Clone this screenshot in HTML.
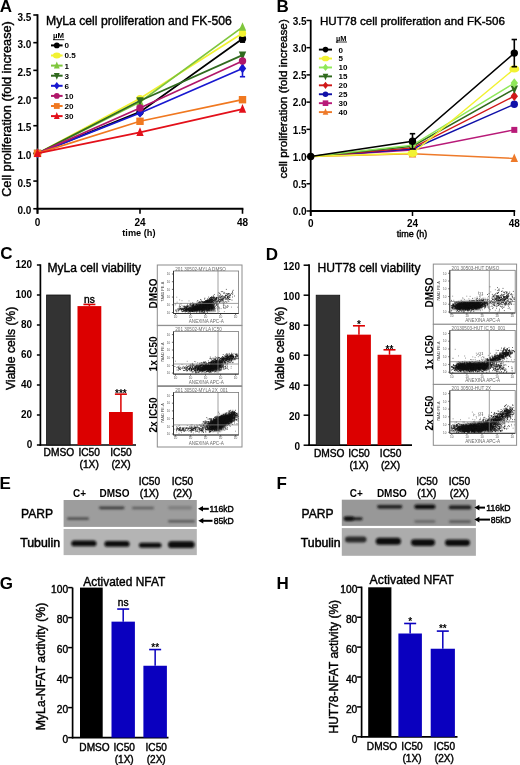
<!DOCTYPE html>
<html><head><meta charset="utf-8"><title>Figure</title>
<style>html,body{margin:0;padding:0;background:#fff;} body{width:520px;height:765px;overflow:hidden;font-family:"Liberation Sans", sans-serif;} svg{display:block;filter:blur(0.3px);}</style>
</head><body>
<svg width="520" height="765" viewBox="0 0 520 765" font-family='"Liberation Sans", sans-serif'>
<defs><filter id="bl" x="-20%" y="-100%" width="140%" height="300%"><feGaussianBlur stdDeviation="0.85"/></filter><filter id="bl2" x="-20%" y="-50%" width="140%" height="200%"><feGaussianBlur stdDeviation="1.2"/></filter></defs>
<rect width="520" height="765" fill="#fff"/>
<text x="-0.30" y="12.30" font-size="17" text-anchor="start" font-weight="bold" fill="#000" >A</text>
<line x1="37.50" y1="14.20" x2="37.50" y2="213.75" stroke="#000" stroke-width="1.9" />
<line x1="36.60" y1="208.75" x2="243.40" y2="208.75" stroke="#000" stroke-width="1.9" />
<line x1="33.30" y1="208.75" x2="37.50" y2="208.75" stroke="#000" stroke-width="1.6" />
<text x="31.40" y="214.35" font-size="10" text-anchor="end" font-weight="bold" fill="#000" >0.0</text>
<line x1="33.30" y1="181.07" x2="37.50" y2="181.07" stroke="#000" stroke-width="1.6" />
<text x="31.40" y="186.67" font-size="10" text-anchor="end" font-weight="bold" fill="#000" >0.5</text>
<line x1="33.30" y1="153.39" x2="37.50" y2="153.39" stroke="#000" stroke-width="1.6" />
<text x="31.40" y="158.99" font-size="10" text-anchor="end" font-weight="bold" fill="#000" >1.0</text>
<line x1="33.30" y1="125.71" x2="37.50" y2="125.71" stroke="#000" stroke-width="1.6" />
<text x="31.40" y="131.31" font-size="10" text-anchor="end" font-weight="bold" fill="#000" >1.5</text>
<line x1="33.30" y1="98.04" x2="37.50" y2="98.04" stroke="#000" stroke-width="1.6" />
<text x="31.40" y="103.64" font-size="10" text-anchor="end" font-weight="bold" fill="#000" >2.0</text>
<line x1="33.30" y1="70.36" x2="37.50" y2="70.36" stroke="#000" stroke-width="1.6" />
<text x="31.40" y="75.96" font-size="10" text-anchor="end" font-weight="bold" fill="#000" >2.5</text>
<line x1="33.30" y1="42.68" x2="37.50" y2="42.68" stroke="#000" stroke-width="1.6" />
<text x="31.40" y="48.28" font-size="10" text-anchor="end" font-weight="bold" fill="#000" >3.0</text>
<line x1="33.30" y1="15.00" x2="37.50" y2="15.00" stroke="#000" stroke-width="1.6" />
<text x="31.40" y="20.60" font-size="10" text-anchor="end" font-weight="bold" fill="#000" >3.5</text>
<line x1="37.50" y1="208.75" x2="37.50" y2="213.75" stroke="#000" stroke-width="1.6" />
<text x="37.50" y="226.40" font-size="10" text-anchor="middle" font-weight="bold" fill="#000" >0</text>
<line x1="140.00" y1="208.75" x2="140.00" y2="213.75" stroke="#000" stroke-width="1.6" />
<text x="140.00" y="226.40" font-size="10" text-anchor="middle" font-weight="bold" fill="#000" >24</text>
<line x1="242.50" y1="208.75" x2="242.50" y2="213.75" stroke="#000" stroke-width="1.6" />
<text x="242.50" y="226.40" font-size="10" text-anchor="middle" font-weight="bold" fill="#000" >48</text>
<text x="138.90" y="235.90" font-size="9.2" text-anchor="middle" font-weight="bold" fill="#000" >time (h)</text>
<text transform="translate(10.60,109.00) rotate(-90)" font-size="12.69" text-anchor="middle" fill="#000" stroke="#000" stroke-width="0.4">Cell proliferation (fold increase)</text>
<text x="46.00" y="25.00" font-size="12.21" text-anchor="start" fill="#000" stroke="#000" stroke-width="0.4">MyLa cell proliferation and FK-506</text>
<polyline points="37.50,153.39 140.00,111.88 242.50,38.80" fill="none" stroke="#000000" stroke-width="1.7"/>
<circle cx="37.50" cy="153.39" r="3.70" fill="#000000"/>
<circle cx="140.00" cy="111.88" r="3.70" fill="#000000"/>
<line x1="242.50" y1="35.48" x2="242.50" y2="42.13" stroke="#000000" stroke-width="1.6" />
<line x1="239.90" y1="35.48" x2="245.10" y2="35.48" stroke="#000000" stroke-width="1.6" />
<line x1="239.90" y1="42.13" x2="245.10" y2="42.13" stroke="#000000" stroke-width="1.6" />
<circle cx="242.50" cy="38.80" r="3.70" fill="#000000"/>
<polyline points="37.50,153.39 140.00,98.59 242.50,33.27" fill="none" stroke="#f2f232" stroke-width="1.7"/>
<circle cx="37.50" cy="153.39" r="3.70" fill="#f2f232"/>
<circle cx="140.00" cy="98.59" r="3.70" fill="#f2f232"/>
<circle cx="242.50" cy="33.27" r="3.70" fill="#f2f232"/>
<polyline points="37.50,153.39 140.00,101.91 242.50,27.18" fill="none" stroke="#7fc63c" stroke-width="1.7"/>
<polygon points="37.50,148.35 41.20,156.94 33.80,156.94" fill="#7fc63c"/>
<polygon points="140.00,96.87 143.70,105.46 136.30,105.46" fill="#7fc63c"/>
<polygon points="242.50,22.14 246.20,30.73 238.80,30.73" fill="#7fc63c"/>
<polyline points="37.50,153.39 140.00,100.80 242.50,55.13" fill="none" stroke="#306a1e" stroke-width="1.7"/>
<polygon points="37.50,158.43 41.20,149.84 33.80,149.84" fill="#306a1e"/>
<polygon points="140.00,105.84 143.70,97.25 136.30,97.25" fill="#306a1e"/>
<polygon points="242.50,60.17 246.20,51.58 238.80,51.58" fill="#306a1e"/>
<polyline points="37.50,153.39 140.00,112.98 242.50,68.42" fill="none" stroke="#1818d0" stroke-width="1.7"/>
<polygon points="37.50,148.58 41.20,153.39 37.50,158.20 33.80,153.39" fill="#1818d0"/>
<polygon points="140.00,108.17 143.70,112.98 140.00,117.79 136.30,112.98" fill="#1818d0"/>
<line x1="242.50" y1="60.12" x2="242.50" y2="76.72" stroke="#1818d0" stroke-width="1.6" />
<line x1="239.90" y1="60.12" x2="245.10" y2="60.12" stroke="#1818d0" stroke-width="1.6" />
<line x1="239.90" y1="76.72" x2="245.10" y2="76.72" stroke="#1818d0" stroke-width="1.6" />
<polygon points="242.50,63.61 246.20,68.42 242.50,73.23 238.80,68.42" fill="#1818d0"/>
<polyline points="37.50,153.39 140.00,108.00 242.50,60.95" fill="none" stroke="#b0176a" stroke-width="1.7"/>
<circle cx="37.50" cy="153.39" r="3.70" fill="#b0176a"/>
<circle cx="140.00" cy="108.00" r="3.70" fill="#b0176a"/>
<circle cx="242.50" cy="60.95" r="3.70" fill="#b0176a"/>
<polyline points="37.50,153.39 140.00,121.29 242.50,99.70" fill="none" stroke="#f07820" stroke-width="1.7"/>
<rect x="33.80" y="149.69" width="7.40" height="7.40" fill="#f07820"/>
<rect x="136.30" y="117.59" width="7.40" height="7.40" fill="#f07820"/>
<rect x="238.80" y="96.00" width="7.40" height="7.40" fill="#f07820"/>
<polyline points="37.50,153.39 140.00,132.36 242.50,109.11" fill="none" stroke="#e3101a" stroke-width="1.7"/>
<polygon points="37.50,148.35 41.20,156.94 33.80,156.94" fill="#e3101a"/>
<polygon points="140.00,127.32 143.70,135.91 136.30,135.91" fill="#e3101a"/>
<polygon points="242.50,104.07 246.20,112.66 238.80,112.66" fill="#e3101a"/>
<text x="53.00" y="38.30" font-size="7.8" text-anchor="start" font-weight="bold" fill="#000" >µM</text>
<line x1="53.00" y1="39.70" x2="64.30" y2="39.70" stroke="#000" stroke-width="0.9" />
<line x1="51.00" y1="45.40" x2="62.60" y2="45.40" stroke="#000000" stroke-width="2.0" />
<circle cx="56.80" cy="45.40" r="2.90" fill="#000000"/>
<text x="64.60" y="48.30" font-size="8.1" text-anchor="start" font-weight="bold" fill="#000" >0</text>
<line x1="51.00" y1="55.50" x2="62.60" y2="55.50" stroke="#f2f232" stroke-width="2.0" />
<ellipse cx="56.80" cy="55.50" rx="3.92" ry="2.90" fill="#f2f232"/>
<text x="64.60" y="58.40" font-size="8.1" text-anchor="start" font-weight="bold" fill="#000" >0.5</text>
<line x1="51.00" y1="65.60" x2="62.60" y2="65.60" stroke="#7fc63c" stroke-width="2.0" />
<polygon points="56.80,61.52 59.70,68.38 53.90,68.38" fill="#7fc63c"/>
<text x="64.60" y="68.50" font-size="8.1" text-anchor="start" font-weight="bold" fill="#000" >1</text>
<line x1="51.00" y1="75.70" x2="62.60" y2="75.70" stroke="#306a1e" stroke-width="2.0" />
<polygon points="56.80,79.78 59.70,72.92 53.90,72.92" fill="#306a1e"/>
<text x="64.60" y="78.60" font-size="8.1" text-anchor="start" font-weight="bold" fill="#000" >3</text>
<line x1="51.00" y1="85.80" x2="62.60" y2="85.80" stroke="#1818d0" stroke-width="2.0" />
<polygon points="56.80,82.03 59.70,85.80 56.80,89.57 53.90,85.80" fill="#1818d0"/>
<text x="64.60" y="88.70" font-size="8.1" text-anchor="start" font-weight="bold" fill="#000" >6</text>
<line x1="51.00" y1="95.90" x2="62.60" y2="95.90" stroke="#b0176a" stroke-width="2.0" />
<circle cx="56.80" cy="95.90" r="2.90" fill="#b0176a"/>
<text x="64.60" y="98.80" font-size="8.1" text-anchor="start" font-weight="bold" fill="#000" >10</text>
<line x1="51.00" y1="106.00" x2="62.60" y2="106.00" stroke="#f07820" stroke-width="2.0" />
<rect x="53.90" y="103.10" width="5.80" height="5.80" fill="#f07820"/>
<text x="64.60" y="108.90" font-size="8.1" text-anchor="start" font-weight="bold" fill="#000" >20</text>
<line x1="51.00" y1="116.10" x2="62.60" y2="116.10" stroke="#e3101a" stroke-width="2.0" />
<polygon points="56.80,112.02 59.70,118.88 53.90,118.88" fill="#e3101a"/>
<text x="64.60" y="119.00" font-size="8.1" text-anchor="start" font-weight="bold" fill="#000" >30</text>
<text x="276.50" y="11.90" font-size="17" text-anchor="start" font-weight="bold" fill="#000" >B</text>
<line x1="310.70" y1="19.86" x2="310.70" y2="216.00" stroke="#000" stroke-width="1.8" />
<line x1="309.80" y1="211.00" x2="515.20" y2="211.00" stroke="#000" stroke-width="1.8" />
<line x1="306.50" y1="211.00" x2="310.70" y2="211.00" stroke="#000" stroke-width="1.5" />
<text x="306.60" y="215.20" font-size="10" text-anchor="end" font-weight="bold" fill="#000" >0.0</text>
<line x1="306.50" y1="183.78" x2="310.70" y2="183.78" stroke="#000" stroke-width="1.5" />
<text x="306.60" y="187.98" font-size="10" text-anchor="end" font-weight="bold" fill="#000" >0.5</text>
<line x1="306.50" y1="156.56" x2="310.70" y2="156.56" stroke="#000" stroke-width="1.5" />
<text x="306.60" y="160.76" font-size="10" text-anchor="end" font-weight="bold" fill="#000" >1.0</text>
<line x1="306.50" y1="129.34" x2="310.70" y2="129.34" stroke="#000" stroke-width="1.5" />
<text x="306.60" y="133.54" font-size="10" text-anchor="end" font-weight="bold" fill="#000" >1.5</text>
<line x1="306.50" y1="102.12" x2="310.70" y2="102.12" stroke="#000" stroke-width="1.5" />
<text x="306.60" y="106.32" font-size="10" text-anchor="end" font-weight="bold" fill="#000" >2.0</text>
<line x1="306.50" y1="74.90" x2="310.70" y2="74.90" stroke="#000" stroke-width="1.5" />
<text x="306.60" y="79.10" font-size="10" text-anchor="end" font-weight="bold" fill="#000" >2.5</text>
<line x1="306.50" y1="47.68" x2="310.70" y2="47.68" stroke="#000" stroke-width="1.5" />
<text x="306.60" y="51.88" font-size="10" text-anchor="end" font-weight="bold" fill="#000" >3.0</text>
<line x1="306.50" y1="20.46" x2="310.70" y2="20.46" stroke="#000" stroke-width="1.5" />
<text x="306.60" y="24.66" font-size="10" text-anchor="end" font-weight="bold" fill="#000" >3.5</text>
<line x1="310.70" y1="211.00" x2="310.70" y2="216.00" stroke="#000" stroke-width="1.5" />
<text x="310.70" y="226.80" font-size="10" text-anchor="middle" font-weight="bold" fill="#000" >0</text>
<line x1="412.50" y1="211.00" x2="412.50" y2="216.00" stroke="#000" stroke-width="1.5" />
<text x="412.50" y="226.80" font-size="10" text-anchor="middle" font-weight="bold" fill="#000" >24</text>
<line x1="514.30" y1="211.00" x2="514.30" y2="216.00" stroke="#000" stroke-width="1.5" />
<text x="514.30" y="226.80" font-size="10" text-anchor="middle" font-weight="bold" fill="#000" >48</text>
<text x="412.00" y="236.80" font-size="9.0" text-anchor="middle" fill="#000" stroke="#000" stroke-width="0.4">time (h)</text>
<text transform="translate(287.30,98.90) rotate(-90)" font-size="11.71" text-anchor="middle" fill="#000" stroke="#000" stroke-width="0.4">cell proliferation (fold increase)</text>
<text x="320.00" y="25.20" font-size="11.6" text-anchor="start" fill="#000" stroke="#000" stroke-width="0.4">HUT78 cell proliferation and FK-506</text>
<polyline points="310.70,156.56 412.50,153.84 514.30,158.47" fill="none" stroke="#ee7a2a" stroke-width="1.45"/>
<polygon points="310.70,152.84 313.30,159.06 308.10,159.06" fill="#ee7a2a"/>
<polygon points="412.50,148.80 416.20,157.39 408.80,157.39" fill="#ee7a2a"/>
<polygon points="514.30,153.43 518.00,162.02 510.60,162.02" fill="#ee7a2a"/>
<polyline points="310.70,156.56 412.50,150.03 514.30,129.88" fill="none" stroke="#b81a78" stroke-width="1.45"/>
<rect x="308.10" y="153.96" width="5.20" height="5.20" fill="#b81a78"/>
<rect x="409.50" y="147.03" width="6.00" height="6.00" fill="#b81a78"/>
<rect x="511.30" y="126.88" width="6.00" height="6.00" fill="#b81a78"/>
<polyline points="310.70,156.56 412.50,148.94 514.30,104.30" fill="none" stroke="#1010a8" stroke-width="1.45"/>
<circle cx="310.70" cy="156.56" r="2.60" fill="#1010a8"/>
<circle cx="412.50" cy="148.94" r="3.70" fill="#1010a8"/>
<circle cx="514.30" cy="104.30" r="3.70" fill="#1010a8"/>
<polyline points="310.70,156.56 412.50,147.85 514.30,96.13" fill="none" stroke="#d01818" stroke-width="1.45"/>
<polygon points="310.70,153.18 313.30,156.56 310.70,159.94 308.10,156.56" fill="#d01818"/>
<polygon points="412.50,143.04 416.20,147.85 412.50,152.66 408.80,147.85" fill="#d01818"/>
<polygon points="514.30,91.32 518.00,96.13 514.30,100.94 510.60,96.13" fill="#d01818"/>
<polyline points="310.70,156.56 412.50,146.22 514.30,89.05" fill="none" stroke="#2f6a1c" stroke-width="1.45"/>
<polygon points="310.70,160.28 313.30,154.06 308.10,154.06" fill="#2f6a1c"/>
<polygon points="412.50,151.26 416.20,142.66 408.80,142.66" fill="#2f6a1c"/>
<polygon points="514.30,94.09 518.00,85.50 510.60,85.50" fill="#2f6a1c"/>
<polyline points="310.70,156.56 412.50,145.13 514.30,83.07" fill="none" stroke="#8fe85a" stroke-width="1.45"/>
<polygon points="310.70,153.18 313.30,156.56 310.70,159.94 308.10,156.56" fill="#8fe85a"/>
<polygon points="412.50,140.32 416.20,145.13 412.50,149.94 408.80,145.13" fill="#8fe85a"/>
<polygon points="514.30,78.26 518.00,83.07 514.30,87.88 510.60,83.07" fill="#8fe85a"/>
<polyline points="310.70,156.56 412.50,153.29 514.30,68.91" fill="none" stroke="#f2f232" stroke-width="1.45"/>
<ellipse cx="310.70" cy="156.56" rx="3.51" ry="2.60" fill="#f2f232"/>
<ellipse cx="412.50" cy="153.29" rx="5.00" ry="3.70" fill="#f2f232"/>
<ellipse cx="514.30" cy="68.91" rx="5.00" ry="3.70" fill="#f2f232"/>
<polyline points="310.70,156.56 412.50,141.32 514.30,53.12" fill="none" stroke="#000000" stroke-width="1.45"/>
<circle cx="310.70" cy="156.56" r="3.70" fill="#000000"/>
<line x1="412.50" y1="133.70" x2="412.50" y2="148.94" stroke="#000000" stroke-width="1.6" />
<line x1="409.80" y1="133.70" x2="415.20" y2="133.70" stroke="#000000" stroke-width="1.6" />
<line x1="409.80" y1="148.94" x2="415.20" y2="148.94" stroke="#000000" stroke-width="1.6" />
<circle cx="412.50" cy="141.32" r="3.70" fill="#000000"/>
<line x1="514.30" y1="39.51" x2="514.30" y2="66.73" stroke="#000000" stroke-width="1.6" />
<line x1="511.60" y1="39.51" x2="517.00" y2="39.51" stroke="#000000" stroke-width="1.6" />
<line x1="511.60" y1="66.73" x2="517.00" y2="66.73" stroke="#000000" stroke-width="1.6" />
<circle cx="514.30" cy="53.12" r="3.70" fill="#000000"/>
<text x="335.90" y="40.60" font-size="7.4" text-anchor="start" font-weight="bold" fill="#000" >µM</text>
<line x1="335.90" y1="42.00" x2="347.00" y2="42.00" stroke="#000" stroke-width="0.8" />
<line x1="318.90" y1="49.60" x2="332.00" y2="49.60" stroke="#000000" stroke-width="1.9" />
<circle cx="325.50" cy="49.60" r="2.80" fill="#000000"/>
<text x="338.50" y="52.50" font-size="8.0" text-anchor="start" font-weight="bold" fill="#000" >0</text>
<line x1="318.90" y1="58.53" x2="332.00" y2="58.53" stroke="#f2f232" stroke-width="1.9" />
<ellipse cx="325.50" cy="58.53" rx="3.78" ry="2.80" fill="#f2f232"/>
<text x="338.50" y="61.43" font-size="8.0" text-anchor="start" font-weight="bold" fill="#000" >5</text>
<line x1="318.90" y1="67.46" x2="332.00" y2="67.46" stroke="#8fe85a" stroke-width="1.9" />
<polygon points="325.50,63.82 328.30,67.46 325.50,71.10 322.70,67.46" fill="#8fe85a"/>
<text x="338.50" y="70.36" font-size="8.0" text-anchor="start" font-weight="bold" fill="#000" >10</text>
<line x1="318.90" y1="76.39" x2="332.00" y2="76.39" stroke="#2f6a1c" stroke-width="1.9" />
<polygon points="325.50,80.35 328.30,73.70 322.70,73.70" fill="#2f6a1c"/>
<text x="338.50" y="79.29" font-size="8.0" text-anchor="start" font-weight="bold" fill="#000" >15</text>
<line x1="318.90" y1="85.32" x2="332.00" y2="85.32" stroke="#d01818" stroke-width="1.9" />
<polygon points="325.50,81.68 328.30,85.32 325.50,88.96 322.70,85.32" fill="#d01818"/>
<text x="338.50" y="88.22" font-size="8.0" text-anchor="start" font-weight="bold" fill="#000" >20</text>
<line x1="318.90" y1="94.25" x2="332.00" y2="94.25" stroke="#1010a8" stroke-width="1.9" />
<circle cx="325.50" cy="94.25" r="2.80" fill="#1010a8"/>
<text x="338.50" y="97.15" font-size="8.0" text-anchor="start" font-weight="bold" fill="#000" >25</text>
<line x1="318.90" y1="103.18" x2="332.00" y2="103.18" stroke="#b81a78" stroke-width="1.9" />
<rect x="322.70" y="100.38" width="5.60" height="5.60" fill="#b81a78"/>
<text x="338.50" y="106.08" font-size="8.0" text-anchor="start" font-weight="bold" fill="#000" >30</text>
<line x1="318.90" y1="112.11" x2="332.00" y2="112.11" stroke="#ee7a2a" stroke-width="1.9" />
<polygon points="325.50,108.15 328.30,114.80 322.70,114.80" fill="#ee7a2a"/>
<text x="338.50" y="115.01" font-size="8.0" text-anchor="start" font-weight="bold" fill="#000" >40</text>
<text x="0.20" y="259.40" font-size="17" text-anchor="start" font-weight="bold" fill="#000" >C</text>
<line x1="40.40" y1="264.30" x2="40.40" y2="445.80" stroke="#000" stroke-width="1.7" />
<line x1="39.60" y1="445.00" x2="136.00" y2="445.00" stroke="#000" stroke-width="1.7" />
<line x1="36.90" y1="445.00" x2="40.40" y2="445.00" stroke="#000" stroke-width="1.5" />
<text x="32.20" y="447.80" font-size="10" text-anchor="end" font-weight="bold" fill="#000" >0</text>
<line x1="36.90" y1="415.00" x2="40.40" y2="415.00" stroke="#000" stroke-width="1.5" />
<text x="32.20" y="417.80" font-size="10" text-anchor="end" font-weight="bold" fill="#000" >20</text>
<line x1="36.90" y1="385.00" x2="40.40" y2="385.00" stroke="#000" stroke-width="1.5" />
<text x="32.20" y="387.80" font-size="10" text-anchor="end" font-weight="bold" fill="#000" >40</text>
<line x1="36.90" y1="355.00" x2="40.40" y2="355.00" stroke="#000" stroke-width="1.5" />
<text x="32.20" y="357.80" font-size="10" text-anchor="end" font-weight="bold" fill="#000" >60</text>
<line x1="36.90" y1="325.00" x2="40.40" y2="325.00" stroke="#000" stroke-width="1.5" />
<text x="32.20" y="327.80" font-size="10" text-anchor="end" font-weight="bold" fill="#000" >80</text>
<line x1="36.90" y1="295.00" x2="40.40" y2="295.00" stroke="#000" stroke-width="1.5" />
<text x="32.20" y="297.80" font-size="10" text-anchor="end" font-weight="bold" fill="#000" >100</text>
<line x1="36.90" y1="265.00" x2="40.40" y2="265.00" stroke="#000" stroke-width="1.5" />
<text x="32.20" y="267.80" font-size="10" text-anchor="end" font-weight="bold" fill="#000" >120</text>
<rect x="46.60" y="295.00" width="23.60" height="150.00" fill="#333333" stroke="#111" stroke-width="0.8"/>
<rect x="77.50" y="306.10" width="23.80" height="138.90" fill="#dc0000" />
<line x1="89.40" y1="304.45" x2="89.40" y2="306.10" stroke="#dc0000" stroke-width="1.5" />
<line x1="83.40" y1="304.45" x2="95.40" y2="304.45" stroke="#dc0000" stroke-width="1.6" />
<text x="89.40" y="302.70" font-size="10.2" text-anchor="middle" fill="#000" stroke="#000" stroke-width="0.4">ns</text>
<rect x="109.00" y="412.00" width="23.80" height="33.00" fill="#dc0000" />
<line x1="120.90" y1="394.15" x2="120.90" y2="412.00" stroke="#dc0000" stroke-width="1.5" />
<line x1="114.90" y1="394.15" x2="126.90" y2="394.15" stroke="#dc0000" stroke-width="1.6" />
<text x="120.90" y="397.30" font-size="10" text-anchor="middle" font-weight="bold" fill="#000" >***</text>
<text x="47.50" y="272.00" font-size="12.04" text-anchor="start" fill="#000" stroke="#000" stroke-width="0.4">MyLa cell viability</text>
<text transform="translate(15.30,348.30) rotate(-90)" font-size="12.12" text-anchor="middle" fill="#000" stroke="#000" stroke-width="0.4">Viable cells (%)</text>
<text x="58.90" y="455.90" font-size="10.2" text-anchor="middle" fill="#000" stroke="#000" stroke-width="0.4">DMSO</text>
<text x="89.20" y="455.90" font-size="10.2" text-anchor="middle" fill="#000" stroke="#000" stroke-width="0.4">IC50</text>
<text x="89.20" y="468.20" font-size="10.2" text-anchor="middle" fill="#000" stroke="#000" stroke-width="0.4">(1X)</text>
<text x="121.00" y="455.90" font-size="10.2" text-anchor="middle" fill="#000" stroke="#000" stroke-width="0.4">IC50</text>
<text x="121.00" y="468.20" font-size="10.2" text-anchor="middle" fill="#000" stroke="#000" stroke-width="0.4">(2X)</text>
<text x="265.80" y="259.60" font-size="17" text-anchor="start" font-weight="bold" fill="#000" >D</text>
<line x1="309.10" y1="264.30" x2="309.10" y2="446.00" stroke="#000" stroke-width="1.7" />
<line x1="308.30" y1="445.20" x2="412.00" y2="445.20" stroke="#000" stroke-width="1.7" />
<line x1="303.60" y1="445.20" x2="309.10" y2="445.20" stroke="#000" stroke-width="1.5" />
<text x="300.00" y="449.60" font-size="10" text-anchor="end" font-weight="bold" fill="#000" >0</text>
<line x1="303.60" y1="415.20" x2="309.10" y2="415.20" stroke="#000" stroke-width="1.5" />
<text x="300.00" y="419.60" font-size="10" text-anchor="end" font-weight="bold" fill="#000" >20</text>
<line x1="303.60" y1="385.20" x2="309.10" y2="385.20" stroke="#000" stroke-width="1.5" />
<text x="300.00" y="389.60" font-size="10" text-anchor="end" font-weight="bold" fill="#000" >40</text>
<line x1="303.60" y1="355.20" x2="309.10" y2="355.20" stroke="#000" stroke-width="1.5" />
<text x="300.00" y="359.60" font-size="10" text-anchor="end" font-weight="bold" fill="#000" >60</text>
<line x1="303.60" y1="325.20" x2="309.10" y2="325.20" stroke="#000" stroke-width="1.5" />
<text x="300.00" y="329.60" font-size="10" text-anchor="end" font-weight="bold" fill="#000" >80</text>
<line x1="303.60" y1="295.20" x2="309.10" y2="295.20" stroke="#000" stroke-width="1.5" />
<text x="300.00" y="299.60" font-size="10" text-anchor="end" font-weight="bold" fill="#000" >100</text>
<line x1="303.60" y1="265.20" x2="309.10" y2="265.20" stroke="#000" stroke-width="1.5" />
<text x="300.00" y="269.60" font-size="10" text-anchor="end" font-weight="bold" fill="#000" >120</text>
<rect x="316.20" y="295.20" width="23.50" height="150.00" fill="#333333" stroke="#111" stroke-width="0.8"/>
<rect x="347.00" y="334.65" width="23.90" height="110.55" fill="#dc0000" />
<line x1="358.95" y1="325.80" x2="358.95" y2="334.65" stroke="#dc0000" stroke-width="1.5" />
<line x1="352.95" y1="325.80" x2="364.95" y2="325.80" stroke="#dc0000" stroke-width="1.6" />
<text x="358.95" y="327.60" font-size="10" text-anchor="middle" font-weight="bold" fill="#000" >*</text>
<rect x="377.60" y="354.75" width="23.80" height="90.45" fill="#dc0000" />
<line x1="389.50" y1="349.80" x2="389.50" y2="354.75" stroke="#dc0000" stroke-width="1.5" />
<line x1="383.50" y1="349.80" x2="395.50" y2="349.80" stroke="#dc0000" stroke-width="1.6" />
<text x="389.50" y="352.60" font-size="10" text-anchor="middle" font-weight="bold" fill="#000" >**</text>
<text x="317.50" y="271.80" font-size="12.11" text-anchor="start" fill="#000" stroke="#000" stroke-width="0.4">HUT78 cell viability</text>
<text transform="translate(284.20,348.30) rotate(-90)" font-size="12.12" text-anchor="middle" fill="#000" stroke="#000" stroke-width="0.4">Viable cells (%)</text>
<text x="329.20" y="456.60" font-size="10.2" text-anchor="middle" fill="#000" stroke="#000" stroke-width="0.4">DMSO</text>
<text x="359.00" y="456.60" font-size="10.2" text-anchor="middle" fill="#000" stroke="#000" stroke-width="0.4">IC50</text>
<text x="359.00" y="468.60" font-size="10.2" text-anchor="middle" fill="#000" stroke="#000" stroke-width="0.4">(1X)</text>
<text x="390.60" y="456.60" font-size="10.2" text-anchor="middle" fill="#000" stroke="#000" stroke-width="0.4">IC50</text>
<text x="390.60" y="468.60" font-size="10.2" text-anchor="middle" fill="#000" stroke="#000" stroke-width="0.4">(2X)</text>
<rect x="157.30" y="265.00" width="84.70" height="60.30" fill="#fff" stroke="#8c8c8c" stroke-width="1"/>
<rect x="173.50" y="271.00" width="65.10" height="42.50" fill="none" stroke="#7a7a7a" stroke-width="0.8"/>
<line x1="173.50" y1="271.00" x2="173.50" y2="313.50" stroke="#333" stroke-width="1.0" />
<line x1="173.50" y1="313.50" x2="238.60" y2="313.50" stroke="#333" stroke-width="1.0" />
<polygon points="188,311 214,311 214,305 209,301 198,305" fill="#111" filter="url(#bl2)"/>
<path d="M199.4 307.8h.8M199.8 304.9h.8M190.0 305.3h.8M218.6 307.5h.8M217.5 306.9h.8M208.5 306.6h.8M179.7 309.0h.8M210.1 307.7h.8M179.3 299.9h.8M190.5 304.4h.8M207.3 305.8h.8M210.3 303.8h.8M207.3 307.4h.8M193.7 312.0h.8M210.8 310.2h.8M194.3 303.4h.8M198.2 305.6h.8M211.8 306.9h.8M196.7 302.7h.8M195.7 310.3h.8M191.7 306.9h.8M209.0 300.8h.8M203.7 310.6h.8M174.8 304.9h.8M201.5 303.1h.8M210.0 305.8h.8M182.5 308.9h.8M212.4 309.3h.8M223.2 307.3h.8M204.7 301.5h.8M211.6 303.9h.8M196.7 301.6h.8M189.5 304.1h.8M221.0 298.9h.8M182.6 306.8h.8M223.2 308.0h.8M176.4 297.2h.8M208.0 303.4h.8M187.3 309.4h.8M218.4 306.6h.8M206.4 307.5h.8M225.3 308.2h.8M210.3 307.9h.8M181.0 310.5h.8M216.4 307.9h.8M175.4 303.8h.8M214.8 299.7h.8M200.4 309.6h.8M184.6 311.6h.8M210.7 305.5h.8M207.5 308.3h.8M204.7 310.0h.8M193.7 304.5h.8M217.6 306.1h.8M190.7 309.3h.8M223.5 304.4h.8M183.7 305.5h.8M200.9 305.0h.8M222.7 302.4h.8M220.6 301.6h.8M192.0 308.2h.8M218.8 309.0h.8M207.8 306.5h.8M205.1 308.0h.8M200.5 307.0h.8M211.0 306.0h.8M213.7 308.0h.8M231.1 307.1h.8M197.0 304.7h.8M202.8 309.2h.8M198.3 307.4h.8M228.7 297.0h.8M187.3 306.9h.8M208.6 306.8h.8M197.0 308.3h.8M206.9 304.2h.8M237.0 307.2h.8M195.2 305.7h.8M199.8 305.8h.8M217.1 301.9h.8M202.1 309.3h.8M215.0 311.2h.8M179.2 304.8h.8M198.2 308.2h.8M218.3 296.6h.8M218.2 300.9h.8M212.6 300.8h.8M205.5 310.2h.8M200.9 306.7h.8M214.2 306.5h.8M201.8 311.4h.8M217.7 305.0h.8M215.8 305.1h.8M204.9 308.5h.8M206.1 308.2h.8M181.6 300.7h.8M211.6 302.6h.8M188.6 300.9h.8M220.7 308.6h.8M223.6 302.7h.8M203.0 302.0h.8M213.7 311.6h.8M190.5 311.5h.8M216.8 305.4h.8M175.4 310.9h.8M201.7 303.9h.8M208.6 307.4h.8M224.0 302.4h.8M218.9 311.2h.8M223.3 305.4h.8M192.6 309.6h.8M204.6 306.4h.8M222.9 305.1h.8M177.0 308.9h.8M207.4 303.9h.8M202.9 308.9h.8M204.1 310.6h.8M202.1 309.6h.8M223.9 311.6h.8M193.6 309.1h.8M176.7 302.2h.8M175.5 309.7h.8M185.8 306.0h.8M200.3 305.9h.8M194.7 306.8h.8M228.1 306.2h.8M210.4 309.5h.8M200.2 301.6h.8M195.2 309.8h.8M180.0 303.9h.8M217.1 308.8h.8M203.1 308.8h.8M205.3 301.9h.8M181.1 303.8h.8M215.9 304.0h.8M190.4 303.3h.8M181.6 305.6h.8" stroke="#666" stroke-width="0.8" fill="none"/>
<path d="M191.7 309.0h.8M183.5 309.7h.8M195.5 303.8h.8M205.1 306.4h.8M184.4 307.1h.8M202.0 306.3h.8M205.5 308.6h.8M204.7 307.7h.8M209.3 308.0h.8M203.2 302.8h.8M206.3 309.7h.8M197.9 306.7h.8M213.6 302.5h.8M203.3 312.3h.8M193.5 309.6h.8M213.2 306.0h.8M203.9 309.0h.8M193.7 307.9h.8M202.0 309.0h.8M199.8 307.1h.8M192.9 307.4h.8M206.2 307.1h.8M194.0 306.3h.8M218.7 308.1h.8M204.5 301.6h.8M204.4 308.1h.8M211.8 307.3h.8M199.5 308.6h.8M186.4 311.0h.8M202.3 305.8h.8M209.3 310.4h.8M190.2 307.0h.8M202.0 307.7h.8M197.2 305.7h.8M214.8 308.3h.8M191.6 305.5h.8M211.9 308.5h.8M212.7 308.0h.8M193.9 308.6h.8M184.9 307.4h.8M199.6 308.6h.8M194.9 307.7h.8M203.2 308.0h.8M204.5 307.5h.8M197.7 309.4h.8M200.3 305.7h.8M195.6 307.9h.8M199.2 307.9h.8M200.0 307.9h.8M199.1 304.9h.8M202.9 309.4h.8M203.0 306.8h.8M203.1 305.2h.8M186.7 308.9h.8M193.5 309.7h.8M192.4 302.7h.8M192.7 311.5h.8M197.3 304.9h.8M194.7 309.1h.8M203.5 307.5h.8M210.4 308.0h.8M199.9 308.8h.8M211.6 308.4h.8M207.2 304.6h.8M199.0 309.1h.8M197.9 309.9h.8M204.2 309.0h.8M208.7 306.2h.8M197.6 309.6h.8M206.9 306.9h.8M191.8 308.7h.8M202.5 309.6h.8M205.5 307.0h.8M206.0 308.1h.8M201.4 307.5h.8M198.3 309.1h.8M192.6 306.9h.8M200.0 304.4h.8M196.9 303.6h.8M195.2 309.1h.8M204.0 307.0h.8M198.4 304.7h.8M212.8 307.4h.8M207.7 304.9h.8M198.7 303.8h.8M205.5 308.9h.8M186.7 308.6h.8M204.4 303.4h.8M187.2 306.5h.8M195.6 305.0h.8M200.2 308.0h.8M204.4 308.6h.8M210.5 309.0h.8M190.8 307.3h.8M192.6 305.9h.8M199.4 307.6h.8M203.4 303.8h.8M191.3 308.3h.8M198.6 307.0h.8M199.6 305.9h.8M204.9 307.8h.8M199.4 306.1h.8M198.8 301.9h.8M193.1 308.2h.8M189.5 308.9h.8M201.0 304.5h.8M198.2 307.0h.8M203.2 308.5h.8M199.7 305.7h.8M199.0 307.5h.8M205.1 307.6h.8M194.9 305.1h.8M197.4 306.2h.8M192.2 308.0h.8M196.6 308.0h.8M203.7 306.3h.8M216.3 305.3h.8M207.7 307.0h.8M207.8 301.8h.8M194.7 308.5h.8M204.2 312.0h.8M202.3 310.0h.8M205.4 309.0h.8M203.6 306.8h.8M203.6 304.9h.8M208.3 304.6h.8M201.7 311.8h.8M198.4 307.7h.8M208.1 306.8h.8M194.3 308.6h.8M204.1 308.6h.8M194.6 311.7h.8M211.7 306.4h.8M201.9 306.4h.8M209.9 305.1h.8M204.7 306.0h.8M195.1 309.5h.8M209.3 306.6h.8M195.3 309.7h.8M199.7 308.2h.8M210.7 308.9h.8M196.4 312.6h.8M200.0 309.1h.8M195.5 307.8h.8M187.8 312.4h.8M209.6 304.0h.8M189.5 305.1h.8M208.2 305.8h.8M199.6 306.9h.8M199.2 305.3h.8M200.2 304.5h.8M199.5 308.2h.8M203.3 306.7h.8M193.7 308.4h.8M196.6 311.1h.8M205.4 306.8h.8M196.7 306.3h.8M193.4 307.4h.8M202.1 308.4h.8M204.0 311.5h.8M195.1 308.0h.8M219.6 301.7h.8M196.3 308.2h.8M201.1 308.3h.8M198.3 308.4h.8M200.4 309.1h.8M186.8 306.9h.8M200.0 305.3h.8M192.7 309.5h.8M195.5 309.3h.8M205.2 307.7h.8M203.6 306.9h.8M190.1 308.4h.8M203.2 306.1h.8M199.3 309.1h.8M193.9 309.4h.8M213.0 305.1h.8M201.0 307.1h.8M210.8 307.1h.8M206.3 305.5h.8M199.9 307.5h.8M187.6 311.7h.8M206.3 303.2h.8M205.2 306.7h.8M203.1 308.0h.8M189.5 308.0h.8M210.4 305.3h.8M192.8 305.3h.8M191.5 309.0h.8M211.8 307.3h.8M201.7 312.0h.8M196.4 306.4h.8M203.7 308.3h.8M192.9 305.7h.8M202.0 307.8h.8M190.9 307.9h.8M196.2 308.8h.8M199.2 307.4h.8M197.5 309.9h.8M209.7 305.8h.8M205.9 305.4h.8M200.5 309.0h.8M210.6 305.7h.8M199.5 308.0h.8M189.5 308.5h.8M195.3 308.7h.8M192.1 304.1h.8M200.3 308.0h.8M196.2 309.7h.8M198.1 306.4h.8M203.3 303.9h.8M195.3 307.9h.8M205.9 306.6h.8M202.2 305.9h.8M202.1 310.8h.8M195.5 308.0h.8M201.2 309.5h.8M191.3 303.9h.8M204.2 308.8h.8M204.4 312.6h.8M201.4 307.9h.8M206.5 307.7h.8M211.6 303.8h.8M197.4 300.5h.8M205.7 306.2h.8M206.5 311.4h.8M200.0 307.0h.8M196.5 306.1h.8M195.6 309.3h.8M200.3 307.6h.8M198.8 309.5h.8M203.5 306.9h.8M204.7 306.7h.8M191.9 311.3h.8M203.3 305.2h.8M207.6 307.5h.8M189.0 311.9h.8M202.3 309.2h.8M201.4 307.1h.8M189.2 310.6h.8M200.2 306.9h.8M202.5 307.4h.8M204.7 306.3h.8M199.7 303.0h.8M197.0 309.2h.8M209.4 305.9h.8M199.2 310.9h.8M197.7 309.3h.8M211.7 306.5h.8M208.6 305.2h.8M201.5 307.2h.8M200.8 309.8h.8M216.7 304.5h.8M196.0 308.9h.8M192.6 309.2h.8M204.0 306.5h.8M203.7 303.9h.8M205.3 303.8h.8M195.1 306.8h.8M197.2 309.6h.8M200.6 306.6h.8M203.8 310.5h.8M200.0 308.3h.8M208.7 307.2h.8M215.5 301.9h.8M199.7 308.4h.8M206.8 308.3h.8M198.1 305.5h.8M200.7 309.6h.8M192.4 306.1h.8M199.8 303.5h.8M198.2 306.8h.8M203.2 305.7h.8M193.8 307.3h.8M199.7 306.1h.8M200.1 309.1h.8M208.3 310.3h.8M194.5 307.1h.8M194.9 307.9h.8M203.7 304.3h.8M203.2 307.1h.8M187.2 309.3h.8M208.4 302.8h.8M205.7 307.4h.8M203.3 308.1h.8M209.1 306.2h.8M206.1 306.1h.8M205.1 305.3h.8M199.2 311.2h.8M203.1 306.9h.8M192.0 306.6h.8M201.4 309.3h.8M203.0 308.3h.8M199.7 310.4h.8M197.3 306.6h.8M206.2 307.0h.8M198.1 306.5h.8M198.2 309.0h.8M202.5 304.7h.8M203.0 307.6h.8M193.0 309.8h.8M198.0 307.0h.8M205.6 309.7h.8M195.2 308.9h.8M196.5 310.3h.8M195.5 309.6h.8M215.5 300.7h.8M197.0 308.8h.8M199.3 306.2h.8M215.1 306.2h.8M188.5 310.4h.8M187.9 311.1h.8M196.0 308.2h.8M208.8 306.9h.8M190.3 304.9h.8M208.3 308.3h.8M194.3 309.8h.8M203.5 308.5h.8M184.2 308.4h.8M206.3 308.4h.8M206.2 301.8h.8M201.2 308.4h.8M217.9 303.8h.8M197.7 307.8h.8M206.2 306.0h.8M208.0 305.1h.8M201.9 306.2h.8M201.1 305.9h.8M188.8 310.8h.8M202.1 306.1h.8M201.4 309.4h.8M193.2 307.9h.8M203.8 308.2h.8M197.7 303.3h.8M208.7 307.4h.8M200.1 306.9h.8M201.8 306.4h.8M192.8 306.6h.8M195.8 306.6h.8M191.9 309.6h.8M190.8 309.7h.8M192.9 308.9h.8M209.6 307.0h.8M194.9 308.1h.8M201.0 303.8h.8M195.7 308.2h.8M196.7 308.0h.8M205.1 308.6h.8M206.3 308.1h.8M198.0 307.7h.8M198.1 307.0h.8M198.7 304.0h.8M197.7 307.7h.8M193.2 308.1h.8M203.6 306.8h.8M214.5 300.7h.8M198.6 303.8h.8M206.9 312.4h.8M182.5 309.4h.8M203.6 306.5h.8M203.9 302.4h.8M206.0 307.7h.8M200.2 306.3h.8M204.5 306.1h.8M201.6 306.3h.8M184.3 308.9h.8M201.4 308.9h.8M193.9 308.0h.8M204.3 307.4h.8M208.7 310.9h.8M193.6 304.1h.8M206.0 310.1h.8M206.5 308.6h.8M195.7 306.4h.8M206.2 305.0h.8M187.3 306.6h.8M217.4 309.9h.8M195.2 306.4h.8M201.6 305.8h.8M209.2 306.5h.8M192.4 311.0h.8M195.9 308.3h.8M199.9 306.8h.8M202.3 305.8h.8M187.1 304.1h.8M191.1 306.7h.8M199.8 307.6h.8M203.9 307.4h.8M194.4 306.5h.8M185.2 308.5h.8M203.4 308.3h.8M199.2 307.2h.8M206.6 306.9h.8M205.2 308.2h.8M201.5 310.1h.8M196.0 307.1h.8M194.3 306.4h.8M210.9 310.2h.8M200.2 308.7h.8M208.2 308.4h.8M208.4 304.1h.8M195.5 308.9h.8M210.0 306.8h.8M194.0 307.3h.8M195.4 306.1h.8M210.5 305.2h.8M200.1 312.0h.8M208.3 307.4h.8M195.7 308.8h.8M211.4 307.7h.8M208.8 306.9h.8M203.6 306.7h.8M203.0 309.9h.8M190.0 308.3h.8M201.7 306.1h.8M197.8 309.4h.8M214.0 307.5h.8M202.3 304.0h.8M213.5 306.4h.8M199.8 305.2h.8M199.6 305.2h.8M200.5 308.4h.8M200.2 308.1h.8M194.0 311.1h.8M195.4 304.1h.8M198.7 306.0h.8M192.9 307.4h.8M202.0 304.8h.8M199.0 310.6h.8M204.8 306.7h.8M200.9 307.2h.8M199.7 309.1h.8M199.4 302.5h.8M199.8 305.6h.8M204.6 305.8h.8M201.0 312.0h.8M192.7 305.8h.8M190.1 303.4h.8M186.9 309.5h.8M195.5 304.0h.8M189.6 309.8h.8M194.6 307.2h.8M202.3 310.1h.8M213.6 308.4h.8M201.0 307.8h.8M212.6 309.3h.8M197.8 308.7h.8M202.0 307.4h.8M196.5 305.0h.8M196.3 304.6h.8M208.6 307.8h.8M191.6 311.2h.8M206.2 302.9h.8M212.9 308.0h.8M214.4 303.6h.8M203.7 308.0h.8M201.4 307.7h.8M207.4 303.7h.8M191.3 305.4h.8M196.1 306.6h.8M202.6 307.8h.8M200.2 306.1h.8M196.9 309.8h.8M205.3 307.2h.8M197.7 311.0h.8M195.8 309.3h.8M208.1 306.2h.8M205.8 304.6h.8M207.1 307.3h.8M188.9 310.0h.8M193.8 310.8h.8M195.2 307.6h.8M202.0 306.6h.8M201.8 306.2h.8M204.7 307.1h.8M201.5 301.6h.8M208.1 306.8h.8M187.5 308.9h.8M203.3 309.4h.8M192.4 311.5h.8M198.9 312.6h.8M199.0 309.0h.8M197.4 305.4h.8M207.7 308.7h.8M210.8 308.3h.8M196.0 304.4h.8M195.4 306.5h.8M194.3 309.3h.8M202.3 306.7h.8M201.2 307.1h.8M201.5 308.9h.8M206.7 305.4h.8M189.5 311.5h.8M200.8 309.7h.8M188.5 307.9h.8M200.2 304.5h.8M196.4 309.4h.8M207.5 310.1h.8M194.0 305.1h.8M203.6 309.1h.8M201.4 304.6h.8M205.5 308.6h.8M203.9 306.1h.8M202.1 309.0h.8M196.1 304.0h.8M202.3 308.3h.8M200.1 309.4h.8M195.9 307.7h.8M197.9 308.9h.8M211.2 305.9h.8M214.4 309.4h.8M205.5 308.2h.8M212.4 306.0h.8M199.2 305.3h.8M203.3 310.0h.8M203.7 308.0h.8M198.6 308.0h.8M190.0 310.6h.8M197.1 305.5h.8M194.7 306.3h.8M206.0 309.2h.8M190.5 310.3h.8M206.2 305.7h.8M189.6 306.9h.8M195.6 308.6h.8M197.5 303.5h.8M201.6 304.1h.8M206.3 304.4h.8M195.1 306.2h.8M196.2 310.6h.8M206.0 308.2h.8M202.2 304.0h.8M196.4 306.7h.8M193.2 309.2h.8M194.8 306.5h.8M192.7 303.9h.8M204.2 309.9h.8M201.2 305.3h.8M181.1 309.6h.8M208.5 307.3h.8M206.5 310.0h.8M207.9 305.8h.8M207.4 308.4h.8M189.2 307.7h.8M190.0 308.2h.8M204.0 304.9h.8M185.6 311.6h.8M202.6 310.3h.8M190.7 310.6h.8M214.5 310.3h.8M198.5 308.2h.8M198.9 309.7h.8M207.3 307.0h.8M190.5 310.0h.8M196.7 309.1h.8M201.8 310.7h.8M208.0 305.8h.8M202.4 311.0h.8M196.2 308.8h.8M208.3 309.4h.8M203.6 304.4h.8M191.2 308.9h.8M202.7 312.6h.8M194.0 310.5h.8M205.4 303.5h.8M194.3 308.4h.8M196.5 307.5h.8M203.3 305.5h.8M203.3 305.9h.8M196.2 309.0h.8M196.0 308.5h.8M211.2 306.5h.8M199.0 309.1h.8M197.4 310.0h.8M191.0 309.6h.8M196.4 306.2h.8M212.4 304.5h.8M212.3 307.7h.8M210.2 304.5h.8M208.4 309.8h.8M199.2 307.3h.8M217.2 306.3h.8M197.0 306.5h.8M203.1 307.9h.8M201.2 311.0h.8M197.7 308.7h.8M210.2 304.4h.8M207.3 310.7h.8M190.5 306.1h.8M192.7 304.3h.8M203.2 303.3h.8M203.5 310.2h.8M188.7 307.9h.8M186.6 310.4h.8M194.8 307.4h.8M200.4 308.6h.8M197.6 307.8h.8M196.2 308.1h.8M191.8 308.4h.8M186.5 307.7h.8M213.4 306.4h.8M191.2 308.9h.8M193.2 304.7h.8M194.8 309.5h.8M202.7 307.0h.8M193.5 305.8h.8M209.4 307.1h.8M193.3 303.7h.8M192.0 308.1h.8M201.5 307.0h.8M198.1 304.8h.8M192.6 311.7h.8M194.7 309.8h.8M188.1 308.0h.8M201.8 309.5h.8M192.1 309.5h.8M202.7 305.7h.8M203.3 305.3h.8M194.4 308.0h.8M181.0 309.1h.8M193.0 305.1h.8M197.0 309.4h.8M197.2 310.4h.8M191.9 305.5h.8M210.9 307.3h.8M206.6 305.1h.8M205.6 307.5h.8M204.5 307.1h.8M208.4 305.3h.8M193.3 305.0h.8M208.1 305.2h.8M192.7 306.2h.8M196.9 305.1h.8M198.0 306.4h.8M196.1 305.9h.8M200.3 306.5h.8M200.8 307.9h.8M202.4 302.7h.8M196.3 306.2h.8M205.4 303.7h.8M195.0 307.4h.8M197.6 309.8h.8M196.9 309.8h.8M189.7 304.7h.8M208.5 307.6h.8M203.4 307.4h.8M203.4 304.6h.8M206.6 305.8h.8M206.9 307.0h.8M186.2 306.1h.8M207.9 306.5h.8M197.2 308.3h.8M197.0 306.6h.8M200.7 307.7h.8M210.6 306.6h.8M213.2 310.0h.8M212.0 308.6h.8M200.9 307.7h.8M199.0 306.1h.8M199.5 306.2h.8M211.5 307.5h.8M196.9 303.8h.8M199.6 306.7h.8M192.4 305.8h.8M184.2 310.2h.8M199.8 307.2h.8M210.1 306.8h.8M201.2 306.6h.8M195.8 311.0h.8M207.0 310.4h.8M197.6 307.8h.8M193.8 310.1h.8M190.2 309.6h.8M207.7 309.7h.8M193.4 310.4h.8M195.0 306.4h.8M190.7 310.8h.8M211.5 305.2h.8M194.7 307.3h.8M217.6 308.0h.8M196.2 304.1h.8M195.3 310.4h.8M213.1 305.7h.8M195.2 306.9h.8M186.8 310.7h.8M192.4 310.4h.8M188.0 306.0h.8M202.0 305.7h.8M205.5 307.0h.8M191.8 309.6h.8M205.9 302.9h.8M212.8 307.3h.8M211.4 297.3h.8M204.8 302.6h.8M212.8 297.8h.8M204.0 299.1h.8M206.9 303.6h.8M200.4 303.4h.8M210.3 305.4h.8M211.0 301.0h.8M202.7 301.9h.8M205.0 303.7h.8M207.8 306.3h.8M209.3 299.7h.8M214.9 302.6h.8M208.5 300.7h.8M199.6 302.6h.8M212.1 299.5h.8M202.1 304.7h.8M209.1 303.5h.8M210.9 304.8h.8M204.2 305.8h.8M203.6 305.3h.8M208.8 302.8h.8M212.4 301.2h.8M213.0 303.0h.8M208.6 301.0h.8M204.6 302.3h.8M207.1 302.7h.8M221.4 300.1h.8M211.5 299.6h.8M204.8 302.7h.8M208.9 299.9h.8M215.3 299.1h.8M212.9 295.8h.8M208.0 303.1h.8M208.9 303.6h.8M209.3 302.5h.8M199.5 303.4h.8M197.5 307.0h.8M209.4 301.7h.8M204.3 302.3h.8M216.3 304.0h.8M207.7 305.5h.8M200.9 300.2h.8M205.8 301.2h.8M205.5 303.7h.8M221.6 297.1h.8M208.2 303.1h.8M207.8 304.6h.8M216.0 297.4h.8M208.7 301.7h.8M209.6 298.6h.8M200.1 299.6h.8M210.4 302.2h.8M208.3 297.1h.8M206.3 301.3h.8M201.6 302.3h.8M211.1 302.8h.8M207.9 303.7h.8M205.3 303.4h.8M208.2 303.7h.8M207.7 302.3h.8M207.4 301.2h.8M218.1 300.8h.8M209.9 307.1h.8M214.3 297.2h.8M211.1 303.5h.8M216.5 303.0h.8M211.5 298.8h.8M204.1 304.2h.8M210.3 299.5h.8M206.3 302.1h.8M208.3 303.2h.8M206.7 300.1h.8M213.6 304.5h.8M207.5 304.9h.8M210.0 303.4h.8M210.2 300.2h.8M210.6 304.0h.8M204.0 308.1h.8M217.4 303.9h.8M217.0 301.6h.8M206.5 301.6h.8M204.3 303.8h.8M207.9 304.1h.8M198.9 310.3h.8M218.2 299.5h.8M211.0 302.7h.8M209.2 301.7h.8M207.4 300.8h.8M208.8 302.2h.8M209.4 300.2h.8M208.2 302.6h.8M210.7 299.3h.8M209.9 304.2h.8M210.7 300.9h.8M205.8 302.6h.8M211.3 305.0h.8M207.3 301.3h.8M209.7 302.5h.8M203.9 302.0h.8M207.5 304.1h.8M202.6 301.8h.8M210.2 299.1h.8M208.5 303.2h.8M207.5 300.4h.8M207.7 301.8h.8M209.5 300.2h.8M212.9 297.3h.8M207.2 302.7h.8M212.3 299.9h.8M210.5 300.5h.8M211.3 305.5h.8M206.2 304.0h.8M203.8 305.9h.8M213.4 301.0h.8M202.9 304.9h.8M213.2 303.5h.8M211.7 297.3h.8M204.9 306.6h.8M202.5 306.6h.8M216.5 301.8h.8M213.0 300.3h.8M202.5 303.9h.8M207.1 302.7h.8M211.1 301.3h.8M208.9 303.2h.8M208.0 306.7h.8M210.0 302.1h.8M207.1 301.4h.8M214.0 301.1h.8M203.1 302.6h.8M207.4 301.7h.8M212.9 298.5h.8M210.2 302.2h.8M202.7 304.1h.8M207.6 303.8h.8M206.0 303.8h.8M200.5 302.2h.8M211.5 303.8h.8M207.9 301.2h.8M212.9 296.4h.8M204.4 305.1h.8M210.9 299.3h.8M199.5 308.2h.8M208.7 300.3h.8M208.2 304.5h.8M196.3 308.4h.8M211.3 296.9h.8M211.5 297.5h.8M213.1 301.9h.8M218.1 298.2h.8M208.0 304.9h.8M205.1 301.7h.8M206.3 302.8h.8M203.1 305.0h.8M210.4 302.0h.8M215.7 299.6h.8M213.9 299.6h.8M211.4 297.2h.8M208.9 301.8h.8M205.8 301.8h.8M206.4 301.3h.8M198.1 304.0h.8M205.5 302.0h.8M203.2 303.6h.8M211.5 300.9h.8M205.8 306.2h.8M212.4 303.3h.8M213.2 300.3h.8M207.4 305.2h.8M205.5 303.0h.8M209.7 302.8h.8M206.8 305.1h.8M207.2 304.4h.8M212.8 302.6h.8M211.3 298.9h.8M202.1 302.8h.8M210.1 305.3h.8M202.5 304.8h.8M204.2 302.0h.8M206.8 304.4h.8M209.0 304.9h.8M203.6 305.8h.8M212.2 301.4h.8M210.1 300.6h.8M203.1 303.0h.8M205.1 309.8h.8M205.8 306.8h.8M208.9 302.9h.8M211.3 299.8h.8M212.1 302.2h.8M201.2 305.8h.8M210.5 302.8h.8M215.1 299.5h.8M210.3 303.5h.8M203.9 306.4h.8M201.5 301.5h.8M210.4 299.4h.8M207.5 298.9h.8M208.3 299.9h.8M209.5 298.6h.8M210.0 301.3h.8M208.3 302.3h.8M208.6 299.4h.8M196.5 305.9h.8M203.8 302.7h.8M209.9 297.5h.8M204.6 302.1h.8M203.2 304.6h.8M207.4 300.8h.8M203.6 305.6h.8M205.0 304.7h.8M210.0 297.7h.8M203.1 303.9h.8M209.5 303.8h.8M211.6 303.8h.8M206.3 302.5h.8M211.5 300.5h.8M212.8 297.5h.8M210.9 301.3h.8M199.1 307.3h.8M209.4 302.1h.8M203.2 302.9h.8M214.8 298.7h.8M192.4 305.1h.8M202.6 303.8h.8M206.2 301.0h.8M204.2 306.0h.8M201.5 308.8h.8M205.6 300.7h.8M211.5 302.7h.8M203.3 305.5h.8M199.7 302.8h.8M213.1 300.5h.8M202.1 305.3h.8M212.1 301.3h.8M199.9 304.1h.8M209.9 303.7h.8M216.3 299.5h.8M205.8 303.0h.8M213.4 298.8h.8M213.9 294.6h.8M211.6 299.9h.8M210.1 303.5h.8M202.7 303.8h.8M209.1 303.5h.8M203.8 301.5h.8M199.3 310.7h.8M207.1 302.2h.8M201.3 306.5h.8M205.6 306.4h.8M211.8 301.4h.8M211.3 299.1h.8M206.5 301.6h.8M202.3 304.2h.8M207.3 305.9h.8M192.9 305.3h.8M203.9 302.6h.8M209.9 302.9h.8M208.1 301.4h.8M210.2 302.7h.8M199.7 304.3h.8M201.8 301.6h.8M208.7 302.4h.8M208.5 300.4h.8M207.1 300.7h.8M209.7 303.6h.8M215.9 303.1h.8M204.4 302.5h.8M203.8 304.4h.8M216.9 301.5h.8M198.1 302.5h.8M202.2 305.3h.8M208.0 303.2h.8M216.0 298.3h.8M204.2 308.0h.8M209.5 300.3h.8M198.9 301.7h.8M197.0 305.8h.8M208.2 304.7h.8M207.4 301.1h.8M204.7 307.7h.8M200.1 305.2h.8M208.1 303.9h.8M206.2 304.2h.8M211.7 301.1h.8M205.9 302.7h.8M203.7 303.3h.8M206.6 303.4h.8M214.0 303.7h.8M206.0 304.4h.8M209.3 303.8h.8M208.1 303.1h.8M205.9 301.3h.8M211.9 304.3h.8M211.0 302.6h.8M209.2 301.1h.8M200.0 306.3h.8M208.9 301.0h.8M203.7 306.6h.8M199.9 308.8h.8M210.9 307.0h.8M204.8 303.4h.8M205.7 303.5h.8M207.1 301.1h.8M212.8 299.3h.8M205.7 304.4h.8M205.6 302.2h.8M209.6 301.2h.8M202.4 303.9h.8M207.0 306.6h.8M203.1 306.1h.8M204.5 302.7h.8M206.5 303.5h.8M211.9 305.3h.8M205.1 306.3h.8M212.5 303.0h.8M204.6 305.5h.8M207.5 303.4h.8M206.8 304.3h.8M213.0 303.6h.8M207.1 305.0h.8M214.5 298.5h.8M214.6 297.6h.8M210.4 303.1h.8M214.7 301.2h.8M205.8 301.3h.8M202.4 305.9h.8M206.9 301.2h.8M210.4 300.1h.8M206.0 302.0h.8M215.4 303.6h.8M207.3 299.2h.8M209.2 302.3h.8M209.6 303.3h.8M206.6 305.0h.8M211.8 301.9h.8M206.2 301.9h.8M211.1 299.1h.8M207.3 301.0h.8M201.7 305.7h.8M207.9 302.6h.8M211.9 298.0h.8M207.7 303.2h.8M211.7 299.0h.8M211.2 302.1h.8M214.1 303.3h.8M210.5 306.6h.8M208.0 301.5h.8M206.5 300.8h.8M187.9 306.2h.8M187.6 309.6h.8M193.0 308.5h.8M194.9 308.0h.8M187.3 306.2h.8M184.2 307.8h.8M195.3 309.8h.8M182.6 309.8h.8M190.4 308.7h.8M188.1 308.6h.8M185.4 306.4h.8M187.6 310.9h.8M195.0 308.6h.8M184.4 308.7h.8M192.4 309.5h.8M185.2 309.5h.8M187.0 309.8h.8M186.0 306.8h.8M188.3 310.1h.8M182.6 308.8h.8M192.3 308.5h.8M184.8 312.0h.8M192.0 310.5h.8M183.4 311.4h.8M179.9 308.2h.8M191.6 310.9h.8M183.5 308.0h.8M189.0 306.2h.8M191.1 309.8h.8M185.8 309.8h.8M191.8 309.5h.8M190.5 311.2h.8M185.7 309.2h.8M185.5 310.5h.8M186.0 309.7h.8M188.7 309.1h.8M196.3 308.9h.8M194.9 310.2h.8M194.4 308.8h.8M192.5 310.1h.8M185.0 309.4h.8M187.4 308.9h.8M194.3 308.0h.8M179.9 306.5h.8M185.8 308.1h.8M188.1 309.8h.8M196.5 309.4h.8M190.2 307.9h.8M190.8 311.0h.8M194.5 306.2h.8M192.3 311.3h.8M192.0 306.8h.8M186.5 309.8h.8M190.0 307.8h.8M183.7 310.4h.8M181.6 311.1h.8M188.1 309.4h.8M181.6 308.1h.8M191.3 306.9h.8M198.0 307.0h.8M182.1 309.1h.8M190.3 310.1h.8M186.2 308.7h.8M186.9 308.2h.8M175.6 310.4h.8M189.2 309.2h.8M185.0 309.4h.8M187.9 308.9h.8M193.3 306.5h.8M189.2 307.5h.8M186.5 311.2h.8M182.8 308.9h.8M185.2 310.4h.8M183.3 306.6h.8M190.5 308.5h.8M186.5 310.6h.8M183.7 308.5h.8M188.7 309.6h.8M185.5 310.5h.8M198.8 308.4h.8M197.0 306.0h.8M194.8 308.5h.8M188.7 308.5h.8M184.9 307.2h.8M186.1 310.9h.8M193.5 308.5h.8M185.5 308.0h.8M182.2 311.6h.8M191.2 309.2h.8M185.6 307.5h.8M194.3 310.1h.8M183.4 310.4h.8M182.7 309.9h.8M183.4 308.4h.8M190.4 309.6h.8M192.9 307.8h.8M195.6 310.9h.8M188.0 309.7h.8M184.3 308.8h.8M181.7 309.1h.8M189.0 310.9h.8M192.5 310.2h.8M186.3 308.7h.8M186.4 309.3h.8M178.7 310.1h.8M180.5 308.3h.8M188.1 308.3h.8M196.0 308.9h.8M195.5 310.7h.8M185.6 309.6h.8M194.2 308.5h.8M188.4 308.2h.8M188.3 308.5h.8M188.4 310.4h.8M194.7 309.2h.8M189.0 310.2h.8M186.6 307.5h.8M193.3 307.7h.8M192.5 307.6h.8M196.8 307.5h.8M192.1 311.2h.8M183.4 311.1h.8M184.0 306.5h.8M191.5 310.0h.8M187.0 305.4h.8M187.7 308.6h.8M186.2 308.6h.8M179.4 308.2h.8M196.6 311.2h.8M186.3 308.0h.8M189.9 310.5h.8M191.5 307.3h.8M188.8 309.2h.8M194.9 310.7h.8M190.5 310.8h.8M186.1 311.2h.8M186.0 309.6h.8M192.4 307.7h.8M184.6 306.5h.8M188.8 308.9h.8M186.4 309.7h.8M177.8 309.0h.8M188.4 308.6h.8M191.8 311.5h.8M185.9 307.6h.8M185.1 309.1h.8M190.8 307.8h.8M192.8 307.5h.8M192.0 309.6h.8M190.2 312.1h.8M218.5 298.9h.8M222.7 300.6h.8M212.3 301.1h.8M215.7 301.4h.8M227.9 297.7h.8M219.4 299.6h.8M203.0 304.1h.8M223.2 298.8h.8M217.7 297.6h.8M219.0 302.2h.8M219.4 302.4h.8M205.2 300.6h.8M221.6 298.7h.8M210.4 299.1h.8M227.2 294.5h.8M214.3 297.4h.8M216.8 301.2h.8M223.4 293.4h.8M228.4 296.0h.8M216.6 303.7h.8M219.5 296.0h.8M216.3 297.9h.8M214.2 299.3h.8M225.1 298.9h.8M212.0 307.4h.8M214.3 300.3h.8M220.2 300.8h.8M218.1 300.5h.8M232.1 297.0h.8M213.8 301.0h.8M215.4 299.0h.8M221.1 299.6h.8M218.4 301.4h.8M218.9 296.0h.8M225.1 297.2h.8M227.0 296.1h.8M223.3 299.2h.8M204.5 298.2h.8M213.6 303.7h.8M209.1 303.3h.8M226.3 299.0h.8M223.9 297.1h.8M219.9 299.6h.8M222.4 300.3h.8M218.8 297.5h.8M216.8 300.6h.8M210.4 297.7h.8M217.6 298.1h.8M218.4 292.7h.8M218.0 298.7h.8M224.5 293.3h.8M218.2 300.5h.8M222.8 301.4h.8M226.1 295.3h.8M223.7 297.5h.8M215.4 303.6h.8M216.4 297.6h.8M217.6 297.3h.8M225.8 298.9h.8M228.1 298.5h.8M216.5 302.2h.8M216.2 298.6h.8M219.0 299.3h.8M226.9 296.2h.8M222.0 298.6h.8M212.7 297.7h.8M218.7 300.2h.8M221.9 299.8h.8M220.3 297.8h.8M222.5 296.1h.8M212.2 299.6h.8M211.7 299.3h.8M215.7 298.4h.8M219.7 297.1h.8M217.6 295.2h.8M220.8 296.7h.8M222.3 291.6h.8M215.4 300.5h.8M205.9 300.7h.8M220.5 299.2h.8M211.3 301.2h.8M220.9 296.4h.8M224.3 298.1h.8M220.1 297.9h.8M223.2 298.6h.8M226.6 298.9h.8M216.4 299.1h.8M225.3 297.1h.8M222.2 299.9h.8M219.0 293.4h.8M220.8 299.4h.8M220.8 297.0h.8M227.0 297.4h.8M216.4 297.9h.8M222.1 295.9h.8M214.2 305.0h.8M227.6 300.2h.8M227.9 299.0h.8M210.2 303.8h.8M227.2 298.9h.8M208.6 304.2h.8M227.9 296.3h.8M220.7 300.8h.8M219.5 301.8h.8M220.5 300.6h.8M220.5 295.2h.8M214.2 308.0h.8M221.6 302.0h.8M226.6 302.0h.8M223.2 296.9h.8M220.1 294.2h.8M218.9 301.5h.8M207.4 301.8h.8M224.8 301.4h.8M214.6 298.4h.8M209.1 298.5h.8M223.1 303.6h.8M213.3 303.7h.8M222.5 297.3h.8M232.8 290.3h.8M180.7 309.3h.8M189.3 311.6h.8M189.8 309.2h.8M184.8 311.0h.8M183.0 309.5h.8M180.3 308.4h.8M176.2 311.8h.8M179.3 306.0h.8M182.0 309.0h.8M181.7 311.6h.8M180.6 308.6h.8M178.1 309.0h.8M179.3 309.3h.8M193.1 309.6h.8M177.7 311.8h.8M184.4 310.2h.8M183.8 310.2h.8M183.6 311.1h.8M184.9 311.0h.8M179.0 309.0h.8M178.2 310.4h.8M184.2 308.3h.8M185.8 307.4h.8M180.6 309.9h.8M180.9 309.6h.8M185.6 309.5h.8M176.7 310.0h.8M180.6 309.2h.8M178.8 307.0h.8M225.4 295.1h.8M225.9 289.4h.8M232.4 293.2h.8M226.9 297.3h.8M222.0 299.3h.8M226.8 297.6h.8M227.6 296.7h.8M229.3 296.0h.8M223.7 292.4h.8M228.9 299.4h.8M227.4 297.3h.8M229.5 297.2h.8M231.9 292.4h.8M229.8 295.6h.8M228.1 293.9h.8M226.7 293.5h.8M225.8 302.1h.8M234.0 296.0h.8M231.2 293.6h.8M220.9 291.6h.8M229.4 299.5h.8M228.9 293.6h.8M228.3 293.6h.8M224.9 295.4h.8M227.8 294.0h.8M226.4 293.7h.8M229.7 299.4h.8M228.4 301.4h.8M224.3 296.7h.8M225.6 295.6h.8M229.3 297.4h.8M232.3 294.6h.8M225.4 295.5h.8M229.9 294.3h.8M231.6 300.1h.8M224.8 296.9h.8M232.0 291.3h.8M229.6 295.5h.8M224.8 299.2h.8M229.6 294.8h.8" stroke="#111" stroke-width="0.8" fill="none"/>
<line x1="218.00" y1="271.00" x2="218.00" y2="313.50" stroke="#808080" stroke-width="0.75" />
<line x1="173.50" y1="303.40" x2="238.60" y2="303.40" stroke="#808080" stroke-width="0.75" />
<text x="175.30" y="270.70" font-size="4.6" text-anchor="start" fill="#6a6a6a" >201 30502-MYLA DMSO</text>
<text x="206.25" y="323.30" font-size="4.6" text-anchor="middle" fill="#6a6a6a" >ANEXINA APC-A</text>
<text transform="translate(163.70,291.75) rotate(-90)" font-size="3.8" text-anchor="middle" fill="#444" >7AAD PE-A</text>
<line x1="171.90" y1="312.50" x2="173.50" y2="312.50" stroke="#333" stroke-width="0.7" />
<text x="170.10" y="313.70" font-size="3.0" text-anchor="end" fill="#555" >10</text>
<line x1="171.90" y1="304.80" x2="173.50" y2="304.80" stroke="#333" stroke-width="0.7" />
<text x="170.10" y="306.00" font-size="3.0" text-anchor="end" fill="#555" >10</text>
<line x1="171.90" y1="297.10" x2="173.50" y2="297.10" stroke="#333" stroke-width="0.7" />
<text x="170.10" y="298.30" font-size="3.0" text-anchor="end" fill="#555" >10</text>
<line x1="171.90" y1="289.40" x2="173.50" y2="289.40" stroke="#333" stroke-width="0.7" />
<text x="170.10" y="290.60" font-size="3.0" text-anchor="end" fill="#555" >10</text>
<line x1="171.90" y1="281.70" x2="173.50" y2="281.70" stroke="#333" stroke-width="0.7" />
<text x="170.10" y="282.90" font-size="3.0" text-anchor="end" fill="#555" >10</text>
<line x1="171.90" y1="274.00" x2="173.50" y2="274.00" stroke="#333" stroke-width="0.7" />
<text x="170.10" y="275.20" font-size="3.0" text-anchor="end" fill="#555" >10</text>
<line x1="175.50" y1="313.50" x2="175.50" y2="315.10" stroke="#333" stroke-width="0.7" />
<text x="175.50" y="317.90" font-size="3.2" text-anchor="middle" fill="#555" >10</text>
<line x1="190.53" y1="313.50" x2="190.53" y2="315.10" stroke="#333" stroke-width="0.7" />
<text x="190.53" y="317.90" font-size="3.2" text-anchor="middle" fill="#555" >10</text>
<line x1="205.55" y1="313.50" x2="205.55" y2="315.10" stroke="#333" stroke-width="0.7" />
<text x="205.55" y="317.90" font-size="3.2" text-anchor="middle" fill="#555" >10</text>
<line x1="220.57" y1="313.50" x2="220.57" y2="315.10" stroke="#333" stroke-width="0.7" />
<text x="220.57" y="317.90" font-size="3.2" text-anchor="middle" fill="#555" >10</text>
<line x1="235.60" y1="313.50" x2="235.60" y2="315.10" stroke="#333" stroke-width="0.7" />
<text x="235.60" y="317.90" font-size="3.2" text-anchor="middle" fill="#555" >10</text>
<text x="223.00" y="308.20" font-size="3.8" text-anchor="start" fill="#333" >Q4</text>
<text transform="translate(157.00,293.45) rotate(-90) scale(0.9,1)" font-size="11.1" text-anchor="middle" font-weight="bold" fill="#000" >DMSO</text>
<rect x="157.30" y="325.60" width="84.70" height="60.10" fill="#fff" stroke="#8c8c8c" stroke-width="1"/>
<rect x="173.50" y="331.60" width="65.10" height="42.50" fill="none" stroke="#7a7a7a" stroke-width="0.8"/>
<line x1="173.50" y1="331.60" x2="173.50" y2="374.10" stroke="#333" stroke-width="1.0" />
<line x1="173.50" y1="374.10" x2="238.60" y2="374.10" stroke="#333" stroke-width="1.0" />
<polygon points="197,370.5 220,370.5 222,364 219,360 210,364" fill="#111" filter="url(#bl2)"/>
<path d="M211.1 368.7h.8M215.5 368.5h.8M210.6 362.5h.8M199.3 366.9h.8M199.8 362.9h.8M180.2 367.3h.8M205.4 364.5h.8M199.3 363.5h.8M194.8 366.2h.8M196.2 368.8h.8M203.1 367.0h.8M210.5 370.8h.8M213.2 367.3h.8M202.8 363.8h.8M200.3 368.8h.8M208.1 365.2h.8M186.8 361.3h.8M209.4 370.0h.8M210.1 361.8h.8M202.1 367.3h.8M192.5 367.7h.8M202.3 363.7h.8M188.1 369.3h.8M209.9 363.5h.8M191.2 369.5h.8M213.1 365.5h.8M226.7 365.5h.8M190.6 370.2h.8M202.4 367.7h.8M205.5 363.1h.8M188.8 365.8h.8M224.2 363.1h.8M223.5 367.3h.8M189.8 367.4h.8M212.7 363.4h.8M176.0 367.7h.8M189.9 368.0h.8M178.9 366.0h.8M194.0 361.5h.8M201.7 367.1h.8M197.4 362.5h.8M207.9 360.5h.8M212.3 368.2h.8M227.8 369.5h.8M209.8 367.4h.8M205.4 362.0h.8M224.9 368.3h.8M201.1 362.6h.8M225.2 368.3h.8M188.9 368.8h.8M230.8 366.4h.8M210.4 365.1h.8M196.4 370.1h.8M203.3 369.2h.8M200.9 369.0h.8M216.3 363.0h.8M190.4 366.2h.8M216.3 367.4h.8M221.9 361.8h.8M211.7 364.4h.8M206.4 367.6h.8M191.8 365.7h.8M189.2 367.4h.8M193.4 364.8h.8M208.0 364.3h.8M220.6 364.3h.8M216.5 367.5h.8M191.0 365.8h.8M193.6 365.3h.8M201.3 372.7h.8M199.3 371.8h.8M211.1 362.1h.8M178.0 368.9h.8M219.0 367.8h.8M202.2 365.6h.8M208.5 365.5h.8M197.7 365.2h.8M220.9 364.4h.8M210.1 362.6h.8M195.3 361.8h.8M202.3 368.8h.8M209.1 364.8h.8M213.3 365.3h.8M210.0 367.4h.8M212.3 358.1h.8M187.3 369.1h.8M201.8 364.6h.8M225.2 368.4h.8M230.7 368.2h.8M202.2 369.0h.8M194.3 365.0h.8M197.5 365.7h.8M215.5 364.9h.8M209.4 364.8h.8M217.0 357.2h.8M202.2 367.1h.8M190.4 369.9h.8M207.9 370.8h.8M218.0 368.7h.8M203.0 362.8h.8M202.0 364.9h.8M208.4 364.9h.8M220.9 364.9h.8M201.7 369.6h.8M205.0 362.4h.8M210.6 365.8h.8M177.2 367.2h.8M190.7 364.0h.8M211.5 367.5h.8M210.7 364.4h.8M208.2 366.1h.8M175.2 361.2h.8M202.5 365.6h.8M197.4 369.8h.8M205.4 372.3h.8M215.7 372.1h.8M203.4 367.8h.8M199.2 365.9h.8M181.6 364.5h.8M192.2 364.3h.8M221.4 367.4h.8M221.5 369.4h.8M217.4 369.9h.8M196.8 369.2h.8M200.7 364.7h.8M191.8 372.4h.8M216.2 363.6h.8M208.7 367.8h.8M210.1 365.3h.8M187.7 366.6h.8M216.6 369.1h.8M213.9 370.2h.8" stroke="#666" stroke-width="0.8" fill="none"/>
<path d="M201.3 368.0h.8M210.3 369.3h.8M209.1 368.4h.8M208.9 371.7h.8M193.3 368.8h.8M224.7 366.4h.8M195.6 368.9h.8M198.3 367.0h.8M209.5 370.8h.8M211.1 368.6h.8M214.9 367.3h.8M202.2 367.8h.8M210.3 366.7h.8M203.5 367.2h.8M197.9 366.4h.8M207.4 366.8h.8M208.3 370.3h.8M210.0 367.2h.8M200.1 366.1h.8M210.5 365.5h.8M210.9 365.1h.8M208.9 367.3h.8M214.7 366.1h.8M205.5 368.2h.8M208.4 370.9h.8M206.3 366.6h.8M205.8 368.7h.8M209.6 368.8h.8M220.4 366.3h.8M199.9 368.6h.8M210.8 362.7h.8M208.1 364.5h.8M211.1 370.0h.8M215.0 363.8h.8M217.3 368.5h.8M205.6 368.7h.8M218.2 365.9h.8M207.9 366.4h.8M215.8 362.4h.8M217.6 364.6h.8M214.2 363.6h.8M201.7 366.9h.8M213.6 363.7h.8M212.1 365.8h.8M216.4 366.1h.8M211.3 366.8h.8M220.1 365.6h.8M207.8 371.5h.8M208.5 368.8h.8M203.0 368.4h.8M192.7 369.2h.8M203.6 364.9h.8M198.5 370.7h.8M210.9 364.2h.8M220.2 364.9h.8M205.5 368.2h.8M200.3 365.0h.8M203.0 370.4h.8M214.4 363.7h.8M216.1 366.8h.8M211.4 367.3h.8M210.8 365.2h.8M201.9 366.7h.8M205.5 369.0h.8M199.8 371.5h.8M203.7 366.7h.8M212.7 367.9h.8M205.7 365.6h.8M201.3 364.9h.8M215.7 369.0h.8M220.6 367.3h.8M210.2 368.8h.8M214.4 366.4h.8M210.4 371.6h.8M196.6 365.7h.8M201.5 369.6h.8M216.0 366.1h.8M212.5 367.0h.8M210.0 366.2h.8M207.8 367.5h.8M215.6 371.3h.8M195.8 369.7h.8M208.0 369.5h.8M215.2 368.4h.8M213.5 365.1h.8M196.5 372.0h.8M216.1 364.8h.8M216.7 368.0h.8M191.5 370.9h.8M201.3 370.5h.8M203.4 366.4h.8M197.6 368.0h.8M214.9 365.5h.8M195.5 373.0h.8M220.4 367.7h.8M204.4 365.4h.8M197.0 369.7h.8M216.8 364.5h.8M208.0 366.9h.8M206.3 368.7h.8M222.1 364.9h.8M213.7 369.2h.8M206.1 367.4h.8M199.0 370.5h.8M204.4 366.5h.8M208.5 365.7h.8M201.0 367.6h.8M218.0 366.1h.8M211.6 364.2h.8M194.9 372.4h.8M205.3 364.6h.8M207.3 368.8h.8M196.3 366.8h.8M209.8 365.5h.8M213.4 368.9h.8M211.0 366.3h.8M207.7 366.2h.8M207.1 368.2h.8M206.0 369.7h.8M225.5 364.7h.8M210.3 368.9h.8M212.4 366.6h.8M204.8 369.8h.8M212.2 368.1h.8M202.6 369.3h.8M213.4 366.6h.8M212.4 371.5h.8M195.3 369.9h.8M200.1 365.5h.8M206.4 368.8h.8M208.4 365.1h.8M198.3 367.3h.8M208.1 365.8h.8M197.8 372.0h.8M202.3 367.7h.8M204.3 366.7h.8M208.3 366.9h.8M212.2 364.7h.8M197.9 372.4h.8M207.5 369.1h.8M216.0 367.9h.8M208.2 364.3h.8M197.2 370.5h.8M212.6 368.2h.8M196.8 364.2h.8M200.8 365.8h.8M209.1 365.3h.8M218.7 365.2h.8M204.2 369.6h.8M210.2 365.5h.8M213.6 370.9h.8M199.7 367.8h.8M200.7 364.2h.8M212.3 368.5h.8M214.6 367.7h.8M194.3 368.7h.8M203.5 365.5h.8M200.5 369.8h.8M206.0 371.7h.8M211.2 363.3h.8M214.1 369.5h.8M208.2 365.0h.8M220.0 363.7h.8M207.4 363.7h.8M199.5 364.8h.8M215.4 369.2h.8M205.2 365.0h.8M207.6 368.3h.8M197.6 366.1h.8M207.3 369.0h.8M208.5 368.4h.8M199.5 363.2h.8M210.1 365.4h.8M207.2 366.8h.8M211.3 365.6h.8M217.9 366.6h.8M211.6 368.4h.8M215.1 367.7h.8M196.0 367.3h.8M220.7 367.3h.8M211.8 368.1h.8M203.6 366.5h.8M203.6 370.3h.8M210.5 370.9h.8M211.4 371.1h.8M211.1 364.8h.8M219.9 367.1h.8M216.2 367.2h.8M205.8 368.1h.8M200.3 365.8h.8M201.9 367.0h.8M198.7 368.2h.8M210.1 371.5h.8M220.6 366.2h.8M214.1 366.5h.8M210.7 367.2h.8M204.3 368.0h.8M197.8 369.4h.8M206.0 365.5h.8M205.5 368.9h.8M203.3 368.9h.8M211.9 370.3h.8M200.5 368.0h.8M211.5 370.3h.8M209.8 368.9h.8M197.9 367.2h.8M219.4 365.8h.8M222.9 364.6h.8M206.1 364.4h.8M212.4 367.6h.8M221.9 366.5h.8M206.3 364.7h.8M207.4 369.5h.8M213.1 369.6h.8M214.0 366.8h.8M212.2 367.5h.8M198.8 371.9h.8M210.6 365.1h.8M210.7 367.8h.8M214.9 369.8h.8M187.0 370.6h.8M218.6 364.5h.8M195.1 369.3h.8M210.3 368.0h.8M200.3 367.3h.8M209.3 368.9h.8M223.2 366.7h.8M203.8 363.0h.8M215.4 366.5h.8M207.2 365.5h.8M213.1 363.3h.8M208.8 367.7h.8M210.1 370.0h.8M207.3 367.8h.8M213.9 363.7h.8M206.0 367.8h.8M214.6 365.2h.8M213.6 367.8h.8M197.7 365.4h.8M198.0 368.7h.8M209.4 368.9h.8M213.7 365.8h.8M215.4 368.5h.8M211.3 368.2h.8M199.1 369.1h.8M200.8 365.7h.8M205.6 368.0h.8M207.6 366.8h.8M201.0 368.5h.8M202.8 365.0h.8M208.6 370.5h.8M205.2 365.6h.8M217.6 370.2h.8M206.0 367.3h.8M208.9 369.5h.8M211.1 363.4h.8M200.3 365.6h.8M211.0 367.4h.8M220.5 365.8h.8M210.1 367.5h.8M209.0 372.2h.8M210.0 370.4h.8M217.0 365.4h.8M212.8 366.3h.8M208.8 367.8h.8M208.1 366.5h.8M218.9 365.9h.8M212.9 370.6h.8M212.4 369.2h.8M217.7 368.9h.8M220.0 363.4h.8M221.7 366.3h.8M195.8 367.3h.8M198.3 368.4h.8M197.6 366.4h.8M210.1 367.6h.8M202.4 367.5h.8M207.3 367.7h.8M208.0 367.0h.8M214.1 363.6h.8M204.6 368.1h.8M205.2 366.6h.8M204.9 368.2h.8M216.7 366.3h.8M206.1 368.4h.8M206.3 363.6h.8M209.9 366.5h.8M204.0 369.2h.8M208.3 366.3h.8M192.8 365.3h.8M208.1 367.2h.8M211.1 367.7h.8M204.7 365.2h.8M200.3 367.9h.8M200.0 369.8h.8M198.7 364.6h.8M206.6 363.9h.8M219.4 364.3h.8M207.6 367.0h.8M202.3 364.3h.8M195.0 370.5h.8M215.1 371.4h.8M197.8 369.6h.8M207.9 369.3h.8M204.4 369.4h.8M214.3 368.2h.8M218.1 366.2h.8M218.8 365.0h.8M219.7 360.6h.8M208.1 365.8h.8M208.0 369.7h.8M213.0 367.2h.8M219.9 363.3h.8M202.3 371.2h.8M210.3 362.9h.8M210.4 364.8h.8M218.3 368.9h.8M204.2 370.6h.8M202.2 370.0h.8M212.1 366.9h.8M198.0 367.9h.8M192.0 367.8h.8M195.0 371.3h.8M201.2 363.0h.8M212.1 367.9h.8M204.5 372.3h.8M213.4 367.1h.8M203.5 361.7h.8M211.4 369.2h.8M203.9 364.9h.8M207.7 364.0h.8M208.1 369.1h.8M218.6 367.1h.8M209.4 368.9h.8M217.8 365.9h.8M199.4 366.6h.8M199.2 366.5h.8M207.2 368.3h.8M209.1 367.5h.8M205.5 368.6h.8M214.2 368.5h.8M218.5 365.9h.8M206.2 371.2h.8M209.4 368.2h.8M205.6 369.8h.8M205.2 365.7h.8M207.6 366.6h.8M213.8 366.2h.8M208.9 367.0h.8M210.4 366.0h.8M215.7 363.8h.8M205.3 366.3h.8M212.5 367.2h.8M211.4 366.5h.8M203.0 365.6h.8M205.7 366.6h.8M210.0 368.1h.8M214.8 366.6h.8M202.8 365.8h.8M208.4 368.2h.8M221.6 366.6h.8M220.3 370.3h.8M200.7 370.7h.8M216.0 369.6h.8M207.9 369.5h.8M204.6 367.7h.8M208.1 371.2h.8M206.5 369.6h.8M208.5 366.0h.8M209.7 368.7h.8M203.0 369.3h.8M203.0 366.1h.8M209.5 366.9h.8M201.1 364.7h.8M208.2 368.0h.8M204.8 368.2h.8M197.3 369.3h.8M210.9 367.8h.8M203.7 368.1h.8M208.9 369.7h.8M209.9 367.9h.8M202.9 369.8h.8M216.2 365.7h.8M212.5 367.7h.8M207.7 364.8h.8M220.3 362.4h.8M210.1 366.5h.8M216.0 365.9h.8M208.3 368.8h.8M211.2 366.1h.8M212.8 367.9h.8M214.9 365.8h.8M207.7 366.7h.8M202.1 368.6h.8M210.9 370.2h.8M205.7 368.5h.8M216.0 366.5h.8M208.4 367.7h.8M203.2 365.9h.8M215.8 367.1h.8M207.5 364.9h.8M208.8 369.9h.8M200.0 366.4h.8M215.7 369.8h.8M218.8 365.3h.8M212.2 365.5h.8M211.6 366.4h.8M209.4 370.2h.8M210.4 366.8h.8M208.4 368.0h.8M204.4 368.3h.8M212.2 370.4h.8M193.6 366.4h.8M199.4 370.1h.8M225.0 366.3h.8M208.8 369.8h.8M191.0 368.7h.8M186.3 369.9h.8M204.5 366.8h.8M210.4 366.1h.8M215.7 366.8h.8M210.6 372.5h.8M204.9 369.7h.8M202.3 370.6h.8M214.7 367.2h.8M214.9 370.2h.8M217.6 366.6h.8M207.6 369.8h.8M197.8 367.2h.8M211.4 368.4h.8M220.9 369.9h.8M210.3 368.2h.8M198.9 368.0h.8M209.8 366.9h.8M208.4 368.7h.8M201.4 366.9h.8M195.7 371.0h.8M200.7 364.7h.8M213.3 366.6h.8M214.7 366.1h.8M222.7 367.6h.8M209.0 367.6h.8M206.6 369.3h.8M221.8 365.3h.8M200.5 369.5h.8M215.4 363.7h.8M203.2 365.9h.8M211.9 368.2h.8M202.9 365.6h.8M212.7 362.8h.8M212.5 366.8h.8M221.3 368.3h.8M204.0 367.3h.8M206.1 366.2h.8M208.6 369.4h.8M197.6 368.0h.8M218.3 368.1h.8M202.4 366.4h.8M202.1 364.7h.8M215.9 366.9h.8M203.2 365.0h.8M205.4 366.7h.8M219.9 365.4h.8M208.8 369.6h.8M212.6 366.7h.8M193.0 371.8h.8M212.1 366.2h.8M207.4 365.6h.8M201.8 365.0h.8M211.5 368.2h.8M209.2 369.0h.8M211.7 367.4h.8M201.9 369.3h.8M216.2 368.0h.8M216.6 365.7h.8M201.3 370.7h.8M204.0 368.4h.8M206.7 367.7h.8M206.1 366.6h.8M195.7 372.6h.8M209.4 363.4h.8M201.8 365.8h.8M202.9 362.7h.8M212.0 370.5h.8M206.3 369.2h.8M212.1 364.5h.8M216.4 363.2h.8M204.1 367.1h.8M216.6 366.9h.8M207.1 365.9h.8M208.6 367.5h.8M213.0 369.9h.8M213.1 367.1h.8M207.0 370.9h.8M209.4 367.3h.8M220.3 369.6h.8M211.9 366.9h.8M203.7 370.1h.8M204.9 369.8h.8M202.6 368.2h.8M210.8 367.5h.8M209.6 368.1h.8M200.3 365.9h.8M207.0 371.3h.8M207.1 365.7h.8M203.5 368.0h.8M216.1 365.6h.8M211.8 367.5h.8M205.6 365.8h.8M207.0 366.1h.8M211.7 363.5h.8M215.7 368.3h.8M212.0 370.2h.8M212.1 363.6h.8M208.4 368.4h.8M203.3 365.6h.8M211.0 368.3h.8M205.1 367.3h.8M204.5 366.7h.8M207.6 369.7h.8M197.0 367.8h.8M219.0 367.1h.8M209.1 369.1h.8M201.1 365.7h.8M196.7 365.6h.8M209.7 369.1h.8M205.2 366.4h.8M210.8 368.5h.8M209.8 363.4h.8M204.3 362.7h.8M209.7 365.6h.8M203.5 371.0h.8M217.0 367.6h.8M209.9 367.7h.8M204.0 367.8h.8M221.0 364.5h.8M203.5 368.3h.8M214.1 368.6h.8M201.4 367.9h.8M206.2 365.2h.8M208.5 366.5h.8M214.3 367.8h.8M202.7 368.2h.8M205.6 366.4h.8M204.7 370.0h.8M205.2 364.3h.8M202.7 369.6h.8M222.7 364.0h.8M205.6 367.1h.8M198.4 369.2h.8M207.7 368.1h.8M223.2 365.5h.8M213.4 368.7h.8M203.7 366.7h.8M218.6 368.0h.8M209.0 365.2h.8M214.0 368.0h.8M223.0 369.1h.8M213.5 367.5h.8M208.4 366.3h.8M210.1 367.8h.8M212.4 369.3h.8M210.1 366.2h.8M213.5 370.2h.8M202.3 368.9h.8M211.7 368.2h.8M211.4 367.0h.8M207.3 371.0h.8M219.8 363.5h.8M190.7 370.0h.8M203.4 366.9h.8M197.2 369.2h.8M207.6 366.4h.8M214.1 371.9h.8M218.0 368.9h.8M205.2 369.1h.8M207.7 369.9h.8M212.0 367.1h.8M211.8 365.7h.8M213.4 370.1h.8M205.5 368.9h.8M196.7 370.5h.8M214.0 364.9h.8M219.9 366.6h.8M196.2 365.8h.8M213.9 366.4h.8M215.5 363.6h.8M207.3 369.6h.8M203.4 369.3h.8M205.6 368.4h.8M210.2 371.8h.8M199.6 369.9h.8M216.9 364.4h.8M208.6 372.2h.8M215.1 360.8h.8M206.4 364.2h.8M210.1 365.8h.8M204.2 366.2h.8M210.0 366.4h.8M201.9 367.6h.8M210.8 365.5h.8M215.6 363.4h.8M210.8 366.4h.8M218.7 365.2h.8M203.5 365.2h.8M221.5 367.5h.8M200.6 367.5h.8M201.5 371.2h.8M210.8 363.1h.8M209.4 369.2h.8M208.0 368.5h.8M207.3 368.0h.8M209.4 365.9h.8M210.4 367.6h.8M207.7 366.1h.8M201.1 368.7h.8M213.6 362.0h.8M204.4 370.6h.8M214.2 365.5h.8M217.2 364.6h.8M202.6 372.0h.8M205.0 367.3h.8M196.8 366.5h.8M200.0 368.0h.8M195.5 370.8h.8M205.6 366.5h.8M203.7 369.4h.8M218.4 365.7h.8M219.0 369.8h.8M217.1 367.2h.8M197.9 369.8h.8M205.2 368.2h.8M195.2 368.1h.8M209.6 365.4h.8M210.0 370.7h.8M209.6 366.0h.8M224.2 361.6h.8M201.7 368.9h.8M204.0 363.2h.8M209.8 369.0h.8M202.6 371.0h.8M211.4 369.6h.8M197.6 368.5h.8M218.9 370.6h.8M217.0 366.7h.8M209.2 366.1h.8M215.5 365.4h.8M208.8 363.2h.8M197.7 372.1h.8M208.4 367.9h.8M193.0 368.8h.8M222.1 363.1h.8M191.8 368.7h.8M204.4 367.4h.8M199.4 365.5h.8M199.6 369.6h.8M207.7 369.2h.8M200.6 369.4h.8M205.0 368.0h.8M214.4 367.0h.8M205.6 364.3h.8M208.4 369.1h.8M203.7 367.8h.8M195.9 365.9h.8M210.8 369.9h.8M205.9 364.3h.8M205.4 364.5h.8M206.1 371.6h.8M210.1 367.0h.8M215.1 366.0h.8M210.3 367.7h.8M211.1 364.2h.8M212.9 368.9h.8M192.3 363.4h.8M201.9 371.1h.8M208.1 368.9h.8M211.8 369.0h.8M203.6 366.7h.8M210.6 368.5h.8M211.9 367.8h.8M204.7 370.1h.8M211.2 369.4h.8M190.5 371.2h.8M191.2 369.5h.8M203.4 368.2h.8M204.7 367.2h.8M209.3 368.1h.8M202.5 362.8h.8M202.6 369.1h.8M202.2 368.9h.8M205.5 365.8h.8M216.1 370.2h.8M207.3 367.5h.8M214.6 364.1h.8M202.0 370.4h.8M214.2 365.9h.8M202.6 368.7h.8M198.3 367.4h.8M214.9 356.9h.8M218.9 363.5h.8M221.3 357.6h.8M209.7 362.3h.8M209.5 369.2h.8M211.2 363.1h.8M217.0 363.3h.8M223.2 357.9h.8M220.4 361.6h.8M210.2 364.5h.8M209.1 368.3h.8M212.4 365.9h.8M222.4 359.2h.8M211.6 364.1h.8M210.8 366.1h.8M216.9 360.4h.8M212.6 365.2h.8M208.8 368.6h.8M212.1 363.1h.8M211.4 367.7h.8M220.1 364.5h.8M219.2 361.8h.8M224.4 361.7h.8M218.2 363.3h.8M219.7 362.1h.8M215.2 358.9h.8M226.2 356.5h.8M205.3 363.8h.8M225.6 362.8h.8M213.0 364.0h.8M215.9 357.7h.8M214.3 363.7h.8M221.8 358.0h.8M204.8 361.8h.8M217.6 362.2h.8M216.7 362.6h.8M214.2 359.7h.8M218.3 362.8h.8M218.9 364.7h.8M209.8 358.6h.8M207.1 370.2h.8M211.4 364.7h.8M215.9 364.3h.8M232.0 356.8h.8M215.2 361.3h.8M217.2 363.4h.8M211.2 367.0h.8M221.7 362.0h.8M215.4 362.1h.8M207.8 366.4h.8M211.1 362.6h.8M221.0 358.9h.8M213.4 365.3h.8M225.3 358.2h.8M221.5 359.4h.8M217.9 363.1h.8M210.3 366.6h.8M225.0 360.1h.8M217.3 359.3h.8M224.9 360.2h.8M209.6 366.1h.8M208.7 362.9h.8M205.3 368.8h.8M227.1 357.9h.8M212.7 362.0h.8M213.2 364.6h.8M223.3 358.0h.8M218.2 357.5h.8M223.6 360.2h.8M212.5 367.2h.8M215.5 366.0h.8M221.4 365.0h.8M212.0 363.8h.8M217.8 361.5h.8M223.6 358.6h.8M221.0 364.4h.8M206.2 362.9h.8M211.5 362.4h.8M218.0 361.5h.8M216.4 361.3h.8M215.6 363.8h.8M219.7 359.6h.8M215.4 360.8h.8M215.1 359.3h.8M220.8 362.8h.8M215.4 361.0h.8M213.7 361.5h.8M208.3 368.6h.8M232.4 354.9h.8M210.2 365.5h.8M219.0 357.8h.8M206.4 366.5h.8M206.0 368.7h.8M213.5 363.4h.8M216.0 361.1h.8M215.3 362.0h.8M222.2 360.5h.8M215.8 361.3h.8M212.8 361.6h.8M216.1 366.9h.8M221.6 361.5h.8M224.3 362.6h.8M217.0 361.8h.8M210.5 364.6h.8M214.4 359.1h.8M209.6 369.0h.8M217.1 363.4h.8M217.0 361.1h.8M218.3 364.5h.8M214.5 364.2h.8M221.1 359.9h.8M216.8 360.5h.8M219.0 360.8h.8M221.7 359.0h.8M224.4 359.4h.8M211.8 361.5h.8M219.3 359.5h.8M225.0 363.1h.8M218.6 358.3h.8M215.9 360.8h.8M206.9 366.1h.8M227.0 358.1h.8M220.0 364.5h.8M211.2 363.0h.8M217.3 363.3h.8M210.3 364.6h.8M215.5 365.0h.8M208.0 363.4h.8M213.5 362.4h.8M219.6 360.0h.8M229.7 357.0h.8M220.2 363.8h.8M220.8 360.7h.8M211.9 363.0h.8M219.3 361.9h.8M218.9 363.1h.8M211.6 361.5h.8M223.2 359.3h.8M208.1 369.2h.8M211.8 361.4h.8M220.8 358.4h.8M211.6 366.3h.8M211.9 369.7h.8M216.5 368.9h.8M216.6 362.5h.8M212.8 362.9h.8M213.5 363.1h.8M219.9 358.3h.8M211.4 358.7h.8M223.5 360.2h.8M215.9 362.4h.8M221.0 361.9h.8M220.3 360.9h.8M215.4 362.5h.8M206.7 367.8h.8M208.1 362.3h.8M219.4 361.7h.8M220.1 365.5h.8M225.3 363.2h.8M214.9 367.8h.8M211.6 363.5h.8M221.0 360.6h.8M215.4 361.8h.8M222.8 354.6h.8M222.4 363.3h.8M215.6 364.0h.8M211.2 366.5h.8M231.3 356.0h.8M223.0 360.4h.8M214.3 361.8h.8M215.1 359.7h.8M209.2 368.4h.8M215.9 363.9h.8M217.6 363.2h.8M208.4 362.3h.8M219.2 364.0h.8M210.3 362.7h.8M210.7 365.6h.8M217.7 362.1h.8M212.8 364.2h.8M216.2 360.7h.8M217.7 360.4h.8M220.8 362.7h.8M212.6 364.9h.8M216.3 360.7h.8M211.4 359.7h.8M210.3 364.9h.8M222.0 359.3h.8M216.8 363.1h.8M219.9 362.5h.8M222.1 362.6h.8M212.2 364.5h.8M204.3 365.3h.8M216.1 363.9h.8M214.5 364.9h.8M222.6 358.6h.8M213.3 363.9h.8M218.5 362.2h.8M220.2 358.5h.8M219.9 364.2h.8M221.6 362.0h.8M214.8 363.8h.8M215.6 358.8h.8M213.0 363.2h.8M213.4 361.0h.8M214.8 361.9h.8M216.3 362.3h.8M216.9 364.7h.8M216.7 363.3h.8M209.9 357.1h.8M214.0 364.7h.8M214.3 361.5h.8M209.8 366.4h.8M213.4 363.8h.8M221.7 362.2h.8M227.2 359.0h.8M220.8 362.8h.8M212.7 363.5h.8M213.2 360.8h.8M217.5 360.2h.8M224.4 358.4h.8M213.3 363.5h.8M213.4 363.4h.8M213.0 359.9h.8M203.9 362.7h.8M223.6 361.4h.8M216.8 361.2h.8M215.3 363.4h.8M209.1 362.5h.8M211.5 366.8h.8M210.7 366.8h.8M213.7 369.8h.8M215.6 362.7h.8M222.8 362.7h.8M220.7 358.6h.8M221.7 365.0h.8M215.5 361.5h.8M210.5 366.5h.8M217.5 362.1h.8M209.8 368.2h.8M220.4 361.2h.8M223.4 358.1h.8M220.4 358.8h.8M223.1 359.9h.8M222.1 359.8h.8M218.0 364.7h.8M211.5 364.0h.8M211.8 365.7h.8M213.0 362.4h.8M215.0 365.6h.8M210.8 363.9h.8M214.4 361.6h.8M212.1 363.2h.8M217.0 358.5h.8M217.2 359.3h.8M216.1 368.0h.8M211.2 363.7h.8M214.7 365.2h.8M213.6 358.8h.8M207.9 365.2h.8M217.3 364.7h.8M213.3 364.9h.8M210.7 367.1h.8M215.6 361.0h.8M216.9 366.5h.8M211.8 360.7h.8M210.9 361.1h.8M215.7 363.4h.8M215.2 363.2h.8M221.9 360.1h.8M209.7 358.7h.8M217.2 360.5h.8M214.8 363.8h.8M218.3 358.1h.8M211.2 364.0h.8M215.3 365.5h.8M213.5 358.2h.8M221.9 356.9h.8M211.1 364.8h.8M210.7 370.0h.8M217.2 363.5h.8M213.8 368.5h.8M218.7 360.0h.8M222.3 356.6h.8M213.1 364.0h.8M216.7 360.0h.8M223.9 363.9h.8M211.3 364.7h.8M212.8 362.3h.8M220.9 361.4h.8M215.5 362.9h.8M210.1 367.1h.8M212.2 366.7h.8M213.7 362.0h.8M223.4 360.9h.8M212.8 362.1h.8M219.0 366.2h.8M219.1 360.7h.8M210.4 362.4h.8M215.4 363.3h.8M212.7 366.5h.8M211.2 362.1h.8M218.5 363.0h.8M214.0 365.4h.8M209.0 368.4h.8M226.9 364.2h.8M216.6 367.1h.8M216.3 365.6h.8M215.0 363.2h.8M218.6 357.5h.8M215.0 367.0h.8M201.4 367.5h.8M220.6 362.0h.8M217.0 365.6h.8M217.7 357.4h.8M211.3 363.1h.8M216.7 361.2h.8M215.5 366.7h.8M201.3 369.4h.8M220.7 362.6h.8M216.1 362.6h.8M217.8 362.6h.8M212.4 365.4h.8M211.9 363.6h.8M214.2 360.2h.8M219.0 361.5h.8M210.2 363.9h.8M209.1 367.9h.8M218.6 366.6h.8M213.2 365.0h.8M211.2 361.8h.8M215.6 363.6h.8M220.6 360.6h.8M221.5 363.3h.8M211.6 363.3h.8M211.4 367.9h.8M213.3 365.4h.8M220.6 360.6h.8M213.6 364.0h.8M212.1 360.5h.8M211.2 364.7h.8M217.0 366.5h.8M206.9 366.3h.8M210.3 366.9h.8M219.5 361.8h.8M223.3 359.5h.8M213.4 360.7h.8M212.7 363.7h.8M219.3 364.7h.8M214.7 361.1h.8M227.7 357.4h.8M227.1 357.5h.8M225.5 358.7h.8M227.0 358.1h.8M223.5 359.7h.8M231.3 358.9h.8M226.8 355.9h.8M223.8 356.6h.8M226.4 357.9h.8M222.0 361.3h.8M222.9 358.0h.8M226.1 360.6h.8M236.3 355.4h.8M227.9 357.4h.8M228.2 357.8h.8M228.6 356.3h.8M230.4 356.5h.8M231.3 355.0h.8M237.4 356.4h.8M222.0 361.3h.8M227.1 355.8h.8M230.7 356.4h.8M231.9 356.0h.8M232.6 357.4h.8M230.4 358.0h.8M227.6 357.5h.8M230.8 359.2h.8M227.4 363.5h.8M235.7 353.7h.8M233.3 356.8h.8M229.9 356.0h.8M235.5 354.5h.8M228.7 356.4h.8M236.6 358.9h.8M223.8 358.3h.8M230.4 356.7h.8M227.6 355.9h.8M230.0 355.3h.8M232.3 362.6h.8M227.7 362.0h.8M230.5 356.1h.8M227.6 356.2h.8M229.5 359.5h.8M232.7 356.5h.8M224.3 359.0h.8M235.6 357.0h.8M228.8 353.4h.8M227.3 359.7h.8M225.3 362.0h.8M226.8 356.6h.8M226.7 358.4h.8M232.9 355.7h.8M222.0 359.6h.8M231.1 361.0h.8M224.6 362.4h.8M231.7 358.4h.8M226.0 356.8h.8M225.2 361.0h.8M229.9 360.2h.8M236.2 356.3h.8M228.8 362.4h.8M223.9 358.3h.8M227.5 357.5h.8M229.6 356.0h.8M233.6 353.8h.8M225.8 355.0h.8M223.5 360.7h.8M231.5 356.9h.8M232.3 358.6h.8M226.7 358.5h.8M230.4 362.2h.8M227.3 359.3h.8M231.1 360.2h.8M230.7 360.0h.8M224.8 358.5h.8M221.4 359.8h.8M229.4 358.5h.8M229.6 354.9h.8M226.3 358.3h.8M229.7 355.9h.8M228.6 356.5h.8M223.8 357.8h.8M225.8 360.7h.8M234.3 358.0h.8M228.2 357.0h.8M222.8 358.4h.8M235.2 359.1h.8M229.9 357.2h.8M229.0 359.0h.8M229.0 359.0h.8M226.0 358.9h.8M227.6 360.8h.8M224.1 362.1h.8M228.7 357.0h.8M229.1 358.3h.8M228.1 359.2h.8M226.7 354.8h.8M231.7 357.3h.8M235.5 357.2h.8M221.1 362.8h.8M226.3 359.9h.8M237.7 358.3h.8M224.7 358.9h.8M222.7 361.1h.8M231.2 355.2h.8M230.8 359.7h.8M232.2 355.7h.8M226.3 356.2h.8M223.9 360.0h.8M229.2 360.9h.8M230.1 357.0h.8M223.4 362.9h.8M229.6 357.8h.8M225.1 356.7h.8M231.5 355.2h.8M231.3 358.8h.8M227.5 354.8h.8M230.6 360.8h.8M225.8 356.0h.8M233.3 357.3h.8M226.6 361.4h.8M227.9 359.3h.8M227.4 356.7h.8M229.9 355.9h.8M222.0 358.6h.8M233.8 359.3h.8M237.5 358.1h.8M235.3 357.0h.8M227.3 359.5h.8M225.3 360.6h.8M227.2 359.0h.8M225.7 358.6h.8M232.8 356.6h.8M226.4 359.3h.8M232.5 356.7h.8M224.4 355.7h.8M223.7 361.7h.8M228.7 359.2h.8M233.2 357.6h.8M230.9 356.4h.8M222.7 361.0h.8M228.6 359.4h.8M224.8 358.8h.8M236.9 354.2h.8M229.4 360.8h.8M228.1 358.5h.8M220.6 361.8h.8M227.3 361.3h.8M228.6 357.3h.8M230.7 357.1h.8M227.0 362.0h.8M232.9 357.3h.8M232.2 359.1h.8M231.3 357.6h.8M229.3 358.9h.8M231.2 358.3h.8M226.8 358.4h.8M230.8 355.4h.8M229.0 359.7h.8M229.7 357.2h.8M228.9 357.0h.8M232.9 356.2h.8M222.5 357.0h.8M230.2 358.2h.8M227.2 355.6h.8M228.4 356.3h.8M226.4 358.7h.8M226.0 359.5h.8M226.1 357.7h.8M228.1 361.5h.8M235.2 358.6h.8M226.1 358.8h.8M232.6 358.9h.8M222.6 359.5h.8M226.1 360.4h.8M231.5 356.2h.8M237.4 355.3h.8M228.7 362.3h.8M226.9 357.5h.8M234.8 356.5h.8M230.9 354.8h.8M236.0 358.4h.8M230.4 359.2h.8M227.0 357.5h.8M222.8 360.4h.8M233.8 358.7h.8M232.6 358.7h.8M225.4 356.1h.8M231.5 357.8h.8M232.9 356.5h.8M225.5 359.9h.8M226.8 355.0h.8M226.6 356.7h.8M224.6 357.9h.8M232.7 362.2h.8M235.8 355.4h.8M233.5 356.8h.8M230.6 356.2h.8M228.7 354.4h.8M236.0 354.6h.8M231.3 356.2h.8M230.1 355.2h.8M227.5 360.4h.8M231.3 353.2h.8M232.3 354.3h.8M230.1 358.9h.8M226.5 358.0h.8M228.0 359.2h.8M232.6 360.1h.8M230.3 362.1h.8M225.3 362.8h.8M228.0 360.0h.8M228.5 358.3h.8M225.4 359.8h.8M236.9 356.4h.8M228.9 358.1h.8M231.8 356.9h.8M229.0 358.5h.8M234.1 358.8h.8M224.9 357.7h.8M229.1 359.9h.8M232.8 356.6h.8M237.3 355.6h.8M234.5 359.8h.8M235.2 356.9h.8M231.3 354.1h.8M222.0 358.5h.8M231.8 359.7h.8M228.6 360.4h.8M231.3 360.8h.8M222.8 357.8h.8M225.3 356.7h.8M235.5 354.4h.8M225.8 358.0h.8M232.5 356.2h.8M231.9 358.5h.8M226.5 353.5h.8M225.4 356.2h.8M235.4 354.9h.8M224.8 359.9h.8M229.2 355.9h.8M233.3 359.0h.8M230.1 356.1h.8M225.6 354.4h.8M230.5 358.5h.8M225.4 359.0h.8M185.6 369.4h.8M191.9 367.8h.8M197.0 368.3h.8M198.9 369.3h.8M199.7 368.7h.8M183.4 370.5h.8M185.7 370.0h.8M195.2 366.5h.8M194.3 369.8h.8M189.0 368.6h.8M190.4 367.1h.8M191.0 370.3h.8M197.4 368.5h.8M193.6 368.7h.8M195.4 368.8h.8M185.6 369.8h.8M189.8 364.8h.8M197.4 366.8h.8M193.3 368.4h.8M191.1 369.3h.8M192.7 368.1h.8M189.3 368.1h.8M188.9 368.6h.8M200.5 370.0h.8M196.1 366.6h.8M199.0 369.8h.8M204.1 365.3h.8M194.1 368.0h.8M199.3 367.0h.8M192.1 371.8h.8M198.9 365.7h.8M194.1 370.5h.8M191.0 369.4h.8M194.5 366.4h.8M190.9 370.1h.8M199.8 367.7h.8M199.5 367.5h.8M195.2 368.5h.8M187.9 369.0h.8M192.1 364.6h.8M189.9 367.3h.8M189.9 367.1h.8M190.6 365.0h.8M198.4 368.6h.8M195.3 368.1h.8M194.3 368.1h.8M188.6 366.3h.8M194.4 370.0h.8M195.2 370.8h.8M187.3 368.1h.8M191.0 370.3h.8M202.3 367.8h.8M197.6 368.2h.8M189.1 368.4h.8M188.9 370.7h.8M196.9 370.2h.8M195.8 365.0h.8M197.9 368.6h.8M182.3 368.7h.8M199.0 371.0h.8M189.0 369.6h.8M195.6 368.3h.8M192.6 369.3h.8M196.8 369.5h.8M192.0 366.6h.8M200.5 370.4h.8M191.2 368.5h.8M198.0 366.0h.8M196.5 372.0h.8M195.3 367.5h.8M204.0 368.5h.8M195.0 367.9h.8M194.9 365.9h.8M187.7 366.4h.8M198.4 368.4h.8M199.7 365.6h.8M191.1 370.6h.8M190.1 365.8h.8M190.3 368.0h.8M193.9 370.4h.8M200.5 370.7h.8M196.9 367.8h.8M191.6 366.4h.8M200.3 370.3h.8M194.4 367.2h.8M197.3 369.2h.8M194.8 366.8h.8M195.2 367.7h.8M197.6 369.4h.8M196.2 367.9h.8M201.5 369.6h.8M200.2 369.7h.8M197.3 369.1h.8M188.7 365.9h.8M189.4 369.4h.8M198.5 368.8h.8M194.4 371.1h.8M192.0 365.9h.8M186.4 368.0h.8M197.4 369.6h.8M192.9 369.7h.8M193.8 367.5h.8M192.1 369.6h.8M198.7 366.9h.8M189.1 368.7h.8M204.4 366.8h.8M187.9 369.1h.8M196.5 367.6h.8M193.9 369.2h.8M185.4 368.5h.8M196.9 369.8h.8M199.7 368.4h.8M186.9 370.4h.8M197.8 367.6h.8M199.1 370.0h.8M193.3 365.1h.8M191.7 367.4h.8M189.9 368.4h.8M188.7 369.1h.8M203.3 366.8h.8M186.1 367.2h.8M184.1 367.8h.8M187.0 367.0h.8M184.9 366.9h.8M182.9 368.0h.8M186.3 365.7h.8M176.7 370.0h.8M183.5 370.4h.8M178.0 368.3h.8M184.4 370.5h.8M181.8 367.4h.8M184.8 367.9h.8M179.1 369.1h.8M174.5 366.5h.8M187.3 367.3h.8M180.7 368.5h.8M186.4 368.8h.8M178.2 367.2h.8M186.1 367.8h.8M179.5 369.3h.8M186.5 371.1h.8M177.8 367.0h.8M179.3 368.5h.8M180.1 369.6h.8M179.5 367.6h.8M184.2 368.3h.8M178.0 370.2h.8M184.3 367.3h.8M182.8 366.4h.8" stroke="#111" stroke-width="0.8" fill="none"/>
<line x1="218.00" y1="331.60" x2="218.00" y2="374.10" stroke="#808080" stroke-width="0.75" />
<line x1="173.50" y1="364.00" x2="238.60" y2="364.00" stroke="#808080" stroke-width="0.75" />
<text x="175.30" y="331.30" font-size="4.6" text-anchor="start" fill="#6a6a6a" >201 30502-MYLA IC50</text>
<text x="206.25" y="383.70" font-size="4.6" text-anchor="middle" fill="#6a6a6a" >ANEXINA APC-A</text>
<text transform="translate(163.70,352.35) rotate(-90)" font-size="3.8" text-anchor="middle" fill="#444" >7AAD PE-A</text>
<line x1="171.90" y1="373.10" x2="173.50" y2="373.10" stroke="#333" stroke-width="0.7" />
<text x="170.10" y="374.30" font-size="3.0" text-anchor="end" fill="#555" >10</text>
<line x1="171.90" y1="365.40" x2="173.50" y2="365.40" stroke="#333" stroke-width="0.7" />
<text x="170.10" y="366.60" font-size="3.0" text-anchor="end" fill="#555" >10</text>
<line x1="171.90" y1="357.70" x2="173.50" y2="357.70" stroke="#333" stroke-width="0.7" />
<text x="170.10" y="358.90" font-size="3.0" text-anchor="end" fill="#555" >10</text>
<line x1="171.90" y1="350.00" x2="173.50" y2="350.00" stroke="#333" stroke-width="0.7" />
<text x="170.10" y="351.20" font-size="3.0" text-anchor="end" fill="#555" >10</text>
<line x1="171.90" y1="342.30" x2="173.50" y2="342.30" stroke="#333" stroke-width="0.7" />
<text x="170.10" y="343.50" font-size="3.0" text-anchor="end" fill="#555" >10</text>
<line x1="171.90" y1="334.60" x2="173.50" y2="334.60" stroke="#333" stroke-width="0.7" />
<text x="170.10" y="335.80" font-size="3.0" text-anchor="end" fill="#555" >10</text>
<line x1="175.50" y1="374.10" x2="175.50" y2="375.70" stroke="#333" stroke-width="0.7" />
<text x="175.50" y="378.50" font-size="3.2" text-anchor="middle" fill="#555" >10</text>
<line x1="190.53" y1="374.10" x2="190.53" y2="375.70" stroke="#333" stroke-width="0.7" />
<text x="190.53" y="378.50" font-size="3.2" text-anchor="middle" fill="#555" >10</text>
<line x1="205.55" y1="374.10" x2="205.55" y2="375.70" stroke="#333" stroke-width="0.7" />
<text x="205.55" y="378.50" font-size="3.2" text-anchor="middle" fill="#555" >10</text>
<line x1="220.57" y1="374.10" x2="220.57" y2="375.70" stroke="#333" stroke-width="0.7" />
<text x="220.57" y="378.50" font-size="3.2" text-anchor="middle" fill="#555" >10</text>
<line x1="235.60" y1="374.10" x2="235.60" y2="375.70" stroke="#333" stroke-width="0.7" />
<text x="235.60" y="378.50" font-size="3.2" text-anchor="middle" fill="#555" >10</text>
<text x="223.00" y="368.80" font-size="3.8" text-anchor="start" fill="#333" >Q4</text>
<text transform="translate(157.00,353.95) rotate(-90) scale(0.9,1)" font-size="11.1" text-anchor="middle" font-weight="bold" fill="#000" >1x IC50</text>
<rect x="157.30" y="386.50" width="84.70" height="60.50" fill="#fff" stroke="#8c8c8c" stroke-width="1"/>
<rect x="173.50" y="392.50" width="65.10" height="42.50" fill="none" stroke="#7a7a7a" stroke-width="0.8"/>
<line x1="173.50" y1="392.50" x2="173.50" y2="435.00" stroke="#333" stroke-width="1.0" />
<line x1="173.50" y1="435.00" x2="238.60" y2="435.00" stroke="#333" stroke-width="1.0" />
<polygon points="209,430.5 221,430.5 234,419 234,414 225,414 211,421" fill="#111" filter="url(#bl2)"/>
<path d="M181.6 427.9h.8M200.3 428.7h.8M186.9 425.6h.8M176.3 431.9h.8M200.3 426.8h.8M209.9 429.6h.8M191.2 427.2h.8M209.3 429.2h.8M215.2 429.3h.8M189.2 427.2h.8M187.8 429.0h.8M199.0 429.8h.8M201.3 426.3h.8M193.6 426.5h.8M201.6 425.7h.8M189.2 426.7h.8M188.8 428.0h.8M213.7 428.0h.8M179.2 427.9h.8M204.8 429.7h.8M198.8 432.7h.8M209.0 428.7h.8M210.2 425.7h.8M194.0 426.7h.8M198.1 431.9h.8M190.2 431.9h.8M184.1 431.5h.8M176.2 426.7h.8M207.7 428.3h.8M197.7 428.5h.8M198.1 428.1h.8M184.6 427.9h.8M197.3 426.6h.8M201.5 432.2h.8M176.9 427.4h.8M192.7 428.5h.8M197.1 427.0h.8M195.6 428.5h.8M195.0 431.8h.8M197.5 425.4h.8M177.7 429.7h.8M192.0 427.2h.8M180.2 427.8h.8M194.9 427.1h.8M191.9 430.4h.8M205.2 429.7h.8M194.0 425.6h.8M205.1 431.7h.8M210.9 431.0h.8M199.2 429.3h.8M195.8 431.1h.8M192.9 433.0h.8M205.1 427.8h.8M196.0 425.1h.8M187.5 427.9h.8M224.6 426.8h.8M206.7 428.7h.8M192.6 429.8h.8M218.6 429.1h.8M195.3 428.8h.8M203.7 427.5h.8M197.4 429.6h.8M191.9 429.3h.8M199.9 430.0h.8M184.5 427.4h.8M191.0 431.0h.8M198.9 425.0h.8M181.1 432.6h.8M200.0 425.8h.8M185.4 428.8h.8M212.6 431.9h.8M191.8 427.9h.8M218.4 426.4h.8M214.2 429.2h.8M197.1 431.2h.8M201.6 426.7h.8M178.2 428.5h.8M202.0 431.4h.8M203.2 431.7h.8M205.3 429.0h.8M201.0 429.3h.8M188.7 428.3h.8M197.5 427.5h.8M178.9 425.4h.8M201.9 429.6h.8M197.3 426.0h.8M205.9 427.7h.8M178.6 433.3h.8M202.2 427.6h.8M213.3 431.4h.8M199.0 424.9h.8M191.6 427.9h.8M201.4 428.2h.8M200.0 425.1h.8M188.5 431.5h.8M179.1 430.5h.8M222.9 429.9h.8M179.8 431.1h.8M174.4 429.2h.8M191.2 431.1h.8M209.7 428.9h.8M216.9 430.6h.8M190.4 426.4h.8M224.7 427.6h.8M200.8 428.3h.8M190.5 425.1h.8M194.3 428.3h.8M207.4 427.4h.8M177.8 426.2h.8M195.5 429.0h.8M204.4 427.7h.8M202.3 428.8h.8M215.7 428.4h.8M197.7 429.7h.8M210.2 426.6h.8M190.5 427.9h.8M208.5 428.5h.8M235.2 431.2h.8M219.6 431.8h.8M206.6 425.5h.8M213.9 429.4h.8M182.1 428.6h.8M204.8 430.6h.8M198.0 427.4h.8M204.9 426.9h.8M195.1 430.1h.8M179.2 429.3h.8M181.7 428.3h.8M204.3 428.4h.8M206.7 428.7h.8M193.6 429.5h.8M193.2 428.8h.8M208.1 427.3h.8M209.4 426.2h.8" stroke="#666" stroke-width="0.8" fill="none"/>
<path d="M219.5 416.9h.8M217.4 426.0h.8M223.4 423.7h.8M211.0 420.9h.8M224.2 422.3h.8M226.7 415.3h.8M224.5 419.9h.8M221.8 422.0h.8M219.1 417.1h.8M213.7 419.1h.8M212.0 422.9h.8M229.9 416.9h.8M215.8 419.3h.8M209.2 424.1h.8M217.7 421.2h.8M214.5 423.9h.8M212.8 424.5h.8M216.5 424.2h.8M215.0 423.7h.8M224.0 420.0h.8M232.1 418.7h.8M215.0 424.3h.8M215.4 421.0h.8M221.1 421.4h.8M232.6 413.6h.8M219.2 424.4h.8M219.9 422.1h.8M231.4 415.2h.8M221.3 423.0h.8M217.0 417.5h.8M214.2 423.2h.8M222.3 425.4h.8M230.0 414.7h.8M228.1 421.6h.8M232.0 417.8h.8M217.2 422.3h.8M231.5 420.0h.8M232.6 420.1h.8M217.0 419.4h.8M233.6 413.9h.8M218.6 420.8h.8M214.8 421.1h.8M221.0 427.1h.8M220.6 419.8h.8M221.8 423.2h.8M215.4 421.4h.8M209.1 425.8h.8M225.6 423.7h.8M212.8 428.7h.8M227.0 418.8h.8M218.3 420.9h.8M212.7 425.1h.8M216.9 420.2h.8M224.5 420.4h.8M217.0 421.4h.8M217.6 425.3h.8M227.8 417.4h.8M220.7 424.6h.8M219.0 426.1h.8M224.0 422.0h.8M206.8 426.8h.8M223.3 421.9h.8M224.3 421.5h.8M217.5 424.2h.8M221.4 418.2h.8M214.1 423.2h.8M223.3 414.7h.8M206.9 427.3h.8M220.9 428.4h.8M210.5 423.0h.8M216.9 423.5h.8M230.6 422.8h.8M214.1 425.9h.8M212.7 423.9h.8M222.2 422.3h.8M215.5 425.8h.8M220.5 421.1h.8M219.2 418.7h.8M225.9 420.6h.8M224.1 425.0h.8M215.1 421.8h.8M221.1 423.2h.8M219.8 423.7h.8M224.1 415.7h.8M216.3 416.9h.8M219.0 420.4h.8M225.0 420.4h.8M220.6 424.4h.8M225.1 416.8h.8M216.3 423.0h.8M232.6 417.6h.8M219.8 422.0h.8M226.3 419.4h.8M223.0 419.4h.8M217.2 419.9h.8M225.5 418.4h.8M224.8 421.1h.8M227.7 412.4h.8M214.4 419.5h.8M219.9 423.4h.8M230.3 419.7h.8M218.4 423.1h.8M206.1 427.2h.8M221.1 422.6h.8M214.0 419.9h.8M216.6 422.0h.8M223.4 419.5h.8M223.4 422.2h.8M213.1 422.7h.8M210.4 422.3h.8M227.2 417.6h.8M233.7 419.1h.8M227.1 419.7h.8M226.9 422.4h.8M221.7 419.4h.8M217.2 427.0h.8M219.7 420.1h.8M216.2 417.8h.8M217.6 422.7h.8M217.7 419.9h.8M223.8 421.5h.8M218.0 422.6h.8M214.3 424.9h.8M214.3 421.8h.8M221.9 419.7h.8M213.2 428.4h.8M231.4 413.9h.8M221.8 417.5h.8M223.1 417.1h.8M225.0 421.4h.8M232.7 421.2h.8M217.9 424.2h.8M217.9 421.5h.8M217.6 417.3h.8M225.1 414.7h.8M219.4 422.8h.8M221.8 416.7h.8M216.6 423.9h.8M228.5 423.3h.8M208.6 425.3h.8M217.7 423.8h.8M209.5 423.5h.8M225.8 418.1h.8M218.5 419.1h.8M228.6 415.6h.8M214.8 421.7h.8M218.8 427.0h.8M222.9 418.4h.8M225.0 420.9h.8M222.9 420.3h.8M224.2 417.2h.8M212.8 422.0h.8M213.4 424.7h.8M234.3 420.9h.8M224.1 421.1h.8M216.3 418.8h.8M224.8 416.2h.8M223.1 420.1h.8M226.1 419.8h.8M221.7 419.3h.8M209.2 423.1h.8M225.8 422.5h.8M230.4 416.0h.8M214.6 424.4h.8M217.9 428.5h.8M223.2 416.5h.8M217.2 426.0h.8M208.5 424.5h.8M211.5 427.6h.8M217.9 419.1h.8M209.3 422.1h.8M203.5 424.2h.8M235.9 417.5h.8M219.2 418.4h.8M223.3 419.2h.8M215.2 426.1h.8M224.0 417.9h.8M231.1 418.3h.8M224.4 420.5h.8M229.1 420.6h.8M218.6 423.5h.8M218.3 422.0h.8M232.2 415.4h.8M213.9 421.7h.8M217.6 425.2h.8M210.1 429.7h.8M231.8 417.1h.8M222.3 419.7h.8M225.6 421.6h.8M226.1 421.7h.8M234.2 417.2h.8M225.8 419.3h.8M221.3 421.5h.8M220.6 422.0h.8M215.2 422.1h.8M216.9 419.0h.8M216.2 420.9h.8M220.0 417.2h.8M219.2 418.5h.8M215.4 422.9h.8M228.6 419.8h.8M217.7 420.7h.8M230.2 414.5h.8M228.8 415.1h.8M216.7 422.2h.8M219.5 425.7h.8M224.4 420.0h.8M227.5 419.5h.8M215.5 425.3h.8M231.3 421.8h.8M213.0 428.0h.8M218.1 423.7h.8M229.2 425.1h.8M209.9 421.1h.8M229.1 420.3h.8M218.9 413.9h.8M224.0 419.8h.8M203.1 432.5h.8M203.9 423.9h.8M221.0 421.6h.8M226.2 419.0h.8M214.9 421.6h.8M206.6 421.7h.8M234.5 415.8h.8M220.5 426.1h.8M228.2 419.5h.8M226.0 419.0h.8M214.8 425.2h.8M221.9 424.9h.8M219.2 420.5h.8M223.4 419.9h.8M218.9 419.2h.8M222.7 421.4h.8M233.6 417.8h.8M209.0 425.2h.8M236.7 415.9h.8M215.5 421.9h.8M201.4 425.1h.8M219.7 417.4h.8M225.0 417.7h.8M208.3 422.3h.8M225.4 424.9h.8M229.6 419.4h.8M217.5 421.2h.8M227.6 418.0h.8M223.9 422.8h.8M214.8 421.0h.8M224.1 420.2h.8M220.1 419.8h.8M220.6 426.0h.8M230.3 414.4h.8M221.3 421.2h.8M221.3 417.3h.8M220.1 421.6h.8M216.3 423.0h.8M204.3 421.3h.8M221.7 421.8h.8M219.9 420.1h.8M222.3 423.5h.8M227.2 419.2h.8M217.8 424.6h.8M224.7 422.4h.8M219.1 419.2h.8M222.3 419.0h.8M228.9 421.2h.8M206.0 426.5h.8M230.2 421.4h.8M217.7 419.6h.8M227.7 422.0h.8M221.4 417.9h.8M210.5 424.3h.8M215.3 420.6h.8M224.1 423.0h.8M206.8 422.8h.8M229.9 418.6h.8M218.6 423.3h.8M213.2 419.8h.8M221.1 425.1h.8M228.0 419.2h.8M228.0 418.2h.8M212.9 418.7h.8M222.9 422.9h.8M223.6 420.3h.8M218.2 424.5h.8M220.7 417.3h.8M230.4 416.9h.8M223.7 420.3h.8M228.2 419.8h.8M229.4 419.4h.8M217.8 420.5h.8M225.5 417.7h.8M227.4 418.8h.8M214.6 420.3h.8M220.0 425.9h.8M226.3 419.7h.8M214.8 427.6h.8M219.1 421.5h.8M218.1 425.2h.8M222.2 419.5h.8M222.3 418.1h.8M213.8 422.4h.8M201.2 429.1h.8M234.7 414.7h.8M220.0 417.1h.8M222.2 421.3h.8M226.1 416.2h.8M216.9 420.3h.8M219.3 427.4h.8M219.6 421.2h.8M217.5 424.0h.8M231.5 415.5h.8M228.3 419.2h.8M229.6 421.6h.8M225.5 415.5h.8M221.9 419.5h.8M224.1 420.3h.8M228.2 415.0h.8M215.9 422.1h.8M223.2 419.4h.8M220.8 421.2h.8M228.2 418.9h.8M222.7 415.8h.8M203.0 421.7h.8M223.5 414.3h.8M223.8 420.0h.8M221.0 419.1h.8M218.1 423.9h.8M223.5 420.3h.8M217.6 422.4h.8M229.2 418.9h.8M218.5 418.5h.8M221.7 418.4h.8M211.1 425.8h.8M216.7 416.7h.8M216.1 427.1h.8M220.3 417.7h.8M213.4 424.8h.8M223.8 420.9h.8M219.7 422.6h.8M231.6 419.6h.8M219.9 417.6h.8M224.1 424.3h.8M225.5 416.6h.8M222.3 424.1h.8M216.6 423.4h.8M229.3 423.2h.8M210.0 419.2h.8M223.6 422.2h.8M218.6 421.6h.8M218.2 424.9h.8M205.8 425.5h.8M212.2 421.4h.8M210.4 421.3h.8M220.8 421.1h.8M233.3 417.3h.8M223.4 421.3h.8M222.8 424.4h.8M222.0 421.2h.8M220.2 421.2h.8M220.6 423.7h.8M221.1 421.1h.8M220.7 423.1h.8M217.7 424.3h.8M217.1 423.8h.8M234.2 418.3h.8M220.4 418.0h.8M226.1 419.8h.8M227.3 417.7h.8M224.6 424.9h.8M223.8 419.4h.8M212.0 423.2h.8M225.5 421.4h.8M213.3 420.2h.8M214.3 420.0h.8M219.1 422.2h.8M234.3 418.2h.8M231.0 414.1h.8M231.6 420.4h.8M224.0 422.4h.8M225.3 425.0h.8M226.6 415.0h.8M208.9 428.3h.8M220.4 424.6h.8M218.6 419.9h.8M218.6 422.4h.8M222.3 419.0h.8M224.7 421.7h.8M214.7 419.7h.8M207.4 423.6h.8M221.1 419.1h.8M216.8 421.7h.8M221.2 422.5h.8M226.8 420.7h.8M228.7 416.5h.8M225.2 420.9h.8M213.8 421.0h.8M224.1 420.4h.8M212.3 421.7h.8M231.5 420.6h.8M221.6 424.4h.8M214.7 422.1h.8M227.6 418.4h.8M213.3 424.5h.8M232.1 411.5h.8M222.1 417.4h.8M218.9 417.8h.8M221.3 419.1h.8M214.2 421.5h.8M222.4 425.3h.8M223.0 424.6h.8M213.6 423.0h.8M218.0 417.6h.8M222.7 418.6h.8M217.0 419.3h.8M228.1 418.2h.8M220.0 421.7h.8M212.5 423.7h.8M219.8 422.5h.8M218.3 421.8h.8M224.6 422.7h.8M216.2 424.8h.8M214.2 422.2h.8M221.9 421.2h.8M203.7 422.8h.8M219.7 423.8h.8M216.1 426.2h.8M208.5 424.3h.8M224.7 420.1h.8M222.8 423.0h.8M215.4 424.0h.8M228.4 418.5h.8M205.0 421.9h.8M215.1 419.7h.8M224.0 418.1h.8M212.0 422.5h.8M231.6 420.1h.8M214.0 425.5h.8M217.7 427.7h.8M217.2 423.5h.8M224.9 418.8h.8M219.9 424.3h.8M224.4 420.0h.8M224.1 424.8h.8M227.4 420.6h.8M223.3 416.3h.8M221.9 419.5h.8M226.1 418.1h.8M224.1 417.4h.8M227.2 417.5h.8M220.8 422.6h.8M218.8 421.6h.8M228.3 423.8h.8M208.5 421.8h.8M225.7 422.3h.8M217.7 422.1h.8M219.7 427.3h.8M219.6 418.2h.8M210.3 420.3h.8M230.0 417.7h.8M234.5 419.3h.8M223.6 422.0h.8M226.5 422.1h.8M214.2 421.2h.8M217.2 422.2h.8M219.3 418.2h.8M216.2 426.9h.8M235.7 415.0h.8M223.6 420.2h.8M215.1 424.4h.8M220.5 425.5h.8M224.2 419.4h.8M202.7 425.3h.8M226.9 417.6h.8M227.1 421.3h.8M208.8 423.6h.8M223.2 422.4h.8M222.1 420.7h.8M218.6 420.8h.8M221.0 418.2h.8M225.4 419.0h.8M224.6 418.8h.8M223.8 420.6h.8M227.2 420.7h.8M227.5 418.9h.8M220.6 420.4h.8M212.3 422.9h.8M228.5 421.1h.8M215.1 423.3h.8M226.2 416.1h.8M223.4 421.3h.8M226.2 420.4h.8M209.0 418.7h.8M234.7 416.5h.8M229.8 422.1h.8M221.6 417.8h.8M230.5 418.5h.8M224.6 421.4h.8M227.6 422.0h.8M211.2 419.8h.8M222.0 420.8h.8M226.4 419.3h.8M219.7 426.7h.8M230.5 421.7h.8M228.2 417.1h.8M220.4 421.0h.8M213.4 420.6h.8M222.1 417.5h.8M224.7 421.3h.8M219.4 420.5h.8M225.2 421.2h.8M223.5 417.1h.8M209.8 429.2h.8M216.5 421.2h.8M208.4 422.1h.8M215.9 424.4h.8M202.7 421.9h.8M218.1 420.4h.8M215.6 421.2h.8M210.1 424.4h.8M229.3 419.3h.8M217.3 425.3h.8M224.4 417.4h.8M217.0 420.4h.8M220.7 424.3h.8M216.1 421.8h.8M221.8 417.7h.8M217.7 423.4h.8M228.8 414.1h.8M225.9 419.0h.8M229.9 420.4h.8M234.6 418.4h.8M218.3 419.5h.8M211.1 424.9h.8M224.6 422.3h.8M223.4 416.5h.8M218.2 421.1h.8M222.1 422.7h.8M230.8 419.3h.8M206.7 421.9h.8M206.2 422.7h.8M212.7 423.7h.8M219.5 424.3h.8M228.5 417.9h.8M227.5 419.4h.8M224.2 423.7h.8M213.1 422.8h.8M231.6 416.3h.8M222.5 421.0h.8M218.1 418.3h.8M216.3 419.6h.8M228.5 419.8h.8M225.9 416.7h.8M224.5 420.5h.8M228.3 417.3h.8M226.6 423.2h.8M233.5 415.4h.8M213.2 419.1h.8M227.7 420.9h.8M223.4 418.1h.8M229.7 423.0h.8M220.8 420.7h.8M229.2 420.3h.8M230.3 417.6h.8M223.4 419.5h.8M217.1 421.2h.8M219.0 422.8h.8M218.9 421.7h.8M215.4 419.2h.8M230.9 415.9h.8M233.6 420.3h.8M205.2 423.3h.8M218.1 421.8h.8M219.8 419.7h.8M229.7 418.5h.8M227.7 417.5h.8M216.2 425.7h.8M219.1 418.6h.8M219.8 424.0h.8M219.9 419.4h.8M225.4 422.5h.8M219.6 420.5h.8M218.5 428.7h.8M219.7 425.9h.8M220.0 422.3h.8M206.9 425.0h.8M221.4 420.1h.8M218.2 418.1h.8M210.7 424.0h.8M216.6 421.9h.8M219.8 420.0h.8M216.0 427.1h.8M213.4 421.6h.8M219.0 418.5h.8M214.4 424.9h.8M227.5 419.7h.8M229.5 416.7h.8M228.5 423.5h.8M218.4 426.4h.8M215.4 419.4h.8M220.7 419.0h.8M225.4 417.0h.8M221.6 415.7h.8M220.8 423.8h.8M219.2 422.3h.8M228.6 416.2h.8M212.2 423.4h.8M222.9 419.8h.8M214.3 425.9h.8M213.0 422.3h.8M220.7 423.0h.8M217.9 419.6h.8M234.9 415.3h.8M226.5 419.2h.8M217.7 421.7h.8M219.3 422.3h.8M203.4 425.3h.8M221.5 418.3h.8M218.3 427.8h.8M233.8 419.5h.8M222.6 419.8h.8M230.6 417.4h.8M215.4 424.2h.8M214.3 420.6h.8M231.0 414.3h.8M220.6 421.4h.8M222.8 416.7h.8M219.5 420.5h.8M234.3 420.3h.8M215.8 424.6h.8M225.5 419.6h.8M219.4 420.7h.8M210.4 422.0h.8M227.5 423.1h.8M233.8 416.8h.8M225.3 413.6h.8M219.2 418.2h.8M226.7 415.2h.8M213.8 419.9h.8M223.8 422.5h.8M214.7 427.3h.8M222.1 418.5h.8M223.4 420.4h.8M226.8 420.4h.8M236.2 420.2h.8M216.6 424.2h.8M226.3 417.1h.8M215.9 420.2h.8M204.0 426.9h.8M219.5 424.6h.8M217.2 422.2h.8M226.0 422.3h.8M223.2 417.7h.8M236.3 419.4h.8M230.4 422.8h.8M230.7 419.6h.8M224.3 421.8h.8M210.7 425.7h.8M214.3 423.8h.8M214.1 424.6h.8M217.7 428.3h.8M222.4 422.0h.8M214.8 421.8h.8M220.6 420.3h.8M218.0 419.5h.8M226.3 418.7h.8M215.4 423.4h.8M215.4 421.9h.8M217.5 419.5h.8M219.5 419.2h.8M212.4 424.1h.8M219.0 417.7h.8M218.3 422.2h.8M224.0 421.2h.8M222.8 422.1h.8M217.6 419.8h.8M225.3 418.9h.8M221.1 422.7h.8M227.5 422.5h.8M216.3 421.2h.8M224.9 416.3h.8M212.4 424.8h.8M216.8 419.7h.8M226.6 421.0h.8M227.4 418.5h.8M219.1 420.6h.8M223.1 415.2h.8M216.3 424.0h.8M215.7 422.2h.8M221.9 422.1h.8M217.8 418.9h.8M232.8 413.5h.8M221.8 420.3h.8M234.1 423.0h.8M227.8 416.7h.8M215.5 420.4h.8M217.5 422.6h.8M215.6 421.7h.8M231.2 422.2h.8M208.2 421.7h.8M218.5 425.0h.8M218.8 426.5h.8M223.6 424.1h.8M215.2 421.7h.8M228.1 420.7h.8M208.2 423.5h.8M222.3 422.3h.8M216.7 426.6h.8M222.1 424.5h.8M223.8 420.5h.8M218.9 418.5h.8M227.0 421.5h.8M227.5 418.4h.8M214.2 421.7h.8M218.9 421.5h.8M227.8 416.9h.8M217.7 423.6h.8M227.3 425.2h.8M224.7 417.9h.8M213.9 420.7h.8M221.6 421.5h.8M220.6 419.5h.8M219.8 421.1h.8M225.2 420.2h.8M215.5 419.4h.8M231.3 418.2h.8M219.9 421.2h.8M228.8 418.2h.8M222.3 420.1h.8M225.1 417.4h.8M222.5 423.3h.8M229.2 420.5h.8M223.1 424.5h.8M225.9 423.4h.8M212.8 420.2h.8M226.6 418.9h.8M218.1 419.3h.8M231.3 415.3h.8M221.8 417.2h.8M219.9 427.1h.8M214.2 426.9h.8M215.2 417.8h.8M223.5 417.6h.8M211.1 426.4h.8M216.1 419.5h.8M222.2 420.2h.8M228.8 419.3h.8M232.0 421.2h.8M233.3 420.8h.8M221.6 422.3h.8M221.2 416.9h.8M213.0 424.9h.8M204.9 422.9h.8M212.3 423.0h.8M214.0 423.4h.8M219.7 420.1h.8M215.3 416.7h.8M221.6 417.5h.8M219.1 422.4h.8M228.3 421.0h.8M231.2 414.8h.8M225.7 423.9h.8M223.8 417.4h.8M223.8 419.0h.8M216.7 424.8h.8M219.9 418.4h.8M216.5 427.2h.8M215.3 424.2h.8M222.3 423.7h.8M219.2 419.0h.8M216.7 419.4h.8M218.9 424.8h.8M225.6 419.4h.8M225.4 420.6h.8M228.8 423.3h.8M219.0 421.4h.8M219.9 424.5h.8M223.7 422.3h.8M227.3 417.8h.8M222.0 424.3h.8M227.4 421.5h.8M219.2 420.5h.8M215.3 421.8h.8M220.7 417.4h.8M229.1 417.0h.8M222.8 422.1h.8M217.3 417.3h.8M227.7 420.4h.8M219.4 424.3h.8M227.2 417.0h.8M220.6 416.6h.8M219.3 425.1h.8M215.4 424.6h.8M210.8 422.8h.8M227.6 423.8h.8M224.2 422.2h.8M232.9 411.7h.8M209.4 428.8h.8M221.6 421.5h.8M221.3 419.3h.8M221.0 420.7h.8M225.7 421.6h.8M227.8 420.8h.8M214.5 426.2h.8M202.9 425.9h.8M223.4 419.0h.8M233.9 414.9h.8M213.1 421.7h.8M224.0 422.3h.8M221.9 422.5h.8M216.3 420.6h.8M222.0 417.3h.8M222.4 419.6h.8M225.8 417.2h.8M217.5 420.4h.8M218.6 419.0h.8M219.3 417.9h.8M224.8 421.8h.8M221.0 420.5h.8M215.1 420.0h.8M219.6 419.0h.8M213.1 423.4h.8M221.0 420.0h.8M215.6 422.2h.8M216.4 421.1h.8M222.4 422.5h.8M226.3 418.1h.8M229.3 415.9h.8M219.9 424.6h.8M237.2 417.3h.8M218.7 420.6h.8M212.9 422.7h.8M218.2 419.8h.8M229.2 416.9h.8M232.6 420.3h.8M225.5 418.4h.8M217.7 416.7h.8M223.0 419.8h.8M223.7 418.6h.8M224.4 416.3h.8M206.3 425.9h.8M228.4 411.0h.8M229.8 417.9h.8M220.0 417.3h.8M214.3 424.5h.8M216.1 422.1h.8M220.1 426.4h.8M227.1 416.1h.8M217.9 418.8h.8M211.7 421.6h.8M228.6 419.2h.8M225.7 419.5h.8M218.2 421.9h.8M220.6 426.1h.8M233.3 418.9h.8M225.2 414.8h.8M220.3 427.4h.8M215.7 424.4h.8M229.4 417.9h.8M219.6 420.2h.8M226.5 419.7h.8M231.3 421.5h.8M221.0 427.7h.8M219.0 419.9h.8M219.5 419.1h.8M218.3 421.5h.8M227.1 415.4h.8M211.6 421.4h.8M219.0 422.7h.8M215.8 426.2h.8M217.5 421.3h.8M221.5 423.9h.8M223.1 420.5h.8M217.4 422.3h.8M223.8 419.4h.8M220.9 416.3h.8M217.5 424.9h.8M230.7 418.4h.8M206.5 429.4h.8M219.9 427.9h.8M218.3 424.3h.8M216.9 425.6h.8M228.9 416.3h.8M229.8 426.2h.8M219.6 418.2h.8M223.0 419.5h.8M211.0 420.8h.8M222.7 416.6h.8M228.4 420.3h.8M219.9 424.9h.8M214.8 424.3h.8M211.9 422.4h.8M225.4 418.5h.8M220.3 422.9h.8M231.4 421.8h.8M224.2 419.5h.8M211.3 427.9h.8M233.7 412.2h.8M226.9 419.4h.8M225.8 420.6h.8M219.8 421.3h.8M220.8 424.1h.8M219.3 420.0h.8M225.5 421.5h.8M224.0 421.0h.8M231.0 421.4h.8M222.5 420.1h.8M225.5 415.0h.8M217.6 420.0h.8M222.2 419.7h.8M237.7 418.7h.8M223.8 426.1h.8M221.1 420.2h.8M229.4 421.1h.8M227.3 422.6h.8M218.6 419.9h.8M216.2 422.5h.8M227.8 416.6h.8M217.5 418.4h.8M234.5 419.7h.8M222.5 417.5h.8M214.1 421.1h.8M221.3 417.6h.8M219.5 424.5h.8M221.2 421.2h.8M207.0 423.8h.8M220.1 419.4h.8M211.7 423.1h.8M214.2 421.3h.8M210.3 423.4h.8M227.2 417.3h.8M223.2 416.5h.8M225.0 421.4h.8M218.5 423.9h.8M215.2 422.6h.8M232.4 418.1h.8M213.5 425.9h.8M224.7 419.4h.8M208.8 419.2h.8M210.8 427.4h.8M223.0 418.3h.8M228.8 422.8h.8M215.4 423.7h.8M210.0 424.7h.8M233.3 414.2h.8M221.4 419.2h.8M220.4 421.4h.8M222.9 422.8h.8M224.5 422.8h.8M227.9 422.1h.8M216.5 423.2h.8M218.6 419.4h.8M234.2 418.4h.8M221.4 415.4h.8M219.5 423.4h.8M219.7 419.9h.8M231.0 417.7h.8M218.8 421.3h.8M219.5 424.1h.8M224.9 419.8h.8M218.6 421.0h.8M232.4 417.3h.8M225.5 415.8h.8M223.2 422.2h.8M229.6 419.7h.8M224.9 420.9h.8M228.2 424.5h.8M222.4 418.5h.8M225.1 419.7h.8M225.4 421.9h.8M222.1 419.6h.8M223.1 417.2h.8M222.9 418.2h.8M224.1 420.5h.8M219.6 418.2h.8M221.4 419.1h.8M220.1 423.0h.8M227.5 416.0h.8M227.3 423.0h.8M228.6 419.8h.8M220.5 425.7h.8M218.9 417.5h.8M221.7 421.6h.8M214.1 419.6h.8M234.3 417.9h.8M226.3 418.1h.8M210.9 423.1h.8M230.1 417.0h.8M209.1 423.5h.8M219.2 421.5h.8M214.1 421.9h.8M217.4 424.2h.8M222.1 423.0h.8M220.7 415.5h.8M208.0 425.7h.8M226.9 421.8h.8M220.6 416.5h.8M217.8 422.9h.8M230.3 417.8h.8M217.3 419.9h.8M227.9 421.5h.8M208.9 427.2h.8M214.9 418.7h.8M210.4 421.8h.8M236.6 423.7h.8M212.7 421.3h.8M222.1 421.8h.8M217.9 417.7h.8M218.3 419.9h.8M209.1 424.4h.8M211.3 418.9h.8M231.2 420.9h.8M230.8 418.9h.8M218.3 421.5h.8M211.9 425.2h.8M222.9 419.7h.8M208.6 423.8h.8M232.0 422.0h.8M226.9 418.6h.8M222.0 422.2h.8M222.4 423.4h.8M216.6 416.0h.8M204.8 422.7h.8M211.8 425.0h.8M228.3 419.2h.8M224.7 420.3h.8M222.2 419.5h.8M218.4 424.8h.8M219.3 421.3h.8M229.1 421.5h.8M218.5 422.3h.8M214.3 423.0h.8M223.2 420.4h.8M222.2 421.7h.8M204.1 423.1h.8M221.6 419.6h.8M214.6 422.0h.8M231.9 417.7h.8M216.7 420.8h.8M213.1 424.3h.8M214.5 425.0h.8M227.2 420.9h.8M228.0 419.0h.8M209.3 423.8h.8M225.4 415.9h.8M212.9 425.9h.8M224.0 423.8h.8M225.6 420.0h.8M224.0 422.5h.8M220.9 420.5h.8M223.2 419.6h.8M237.3 414.9h.8M210.9 420.2h.8M228.1 418.2h.8M222.2 420.2h.8M222.9 416.7h.8M221.7 419.3h.8M228.4 420.8h.8M212.6 420.6h.8M224.9 423.1h.8M226.2 419.3h.8M228.6 412.9h.8M217.5 419.3h.8M214.2 424.2h.8M223.0 421.3h.8M220.2 422.8h.8M226.4 418.2h.8M227.4 417.0h.8M233.0 414.6h.8M219.2 418.6h.8M221.4 424.4h.8M216.0 426.9h.8M230.6 419.6h.8M217.1 424.3h.8M201.8 423.8h.8M227.6 419.2h.8M212.1 422.7h.8M225.0 424.5h.8M209.2 424.4h.8M229.6 417.1h.8M218.0 418.6h.8M226.3 421.8h.8M225.1 420.6h.8M227.8 419.0h.8M225.9 421.9h.8M229.9 420.1h.8M221.7 422.7h.8M210.6 419.0h.8M232.1 418.6h.8M214.0 421.2h.8M220.1 421.4h.8M215.9 424.9h.8M209.5 431.2h.8M213.7 427.2h.8M225.6 415.4h.8M212.8 423.2h.8M222.9 419.4h.8M221.2 421.4h.8M213.3 423.1h.8M236.6 415.4h.8M214.2 424.5h.8M230.3 421.4h.8M216.8 421.9h.8M222.5 420.1h.8M223.8 423.1h.8M224.8 420.0h.8M219.7 426.0h.8M212.7 428.4h.8M226.1 419.9h.8M216.0 427.1h.8M229.4 421.3h.8M235.3 412.7h.8M221.8 420.0h.8M216.1 422.4h.8M224.8 421.4h.8M220.1 417.7h.8M224.9 421.6h.8M235.6 419.8h.8M221.2 417.9h.8M222.4 422.6h.8M224.5 423.6h.8M214.0 420.9h.8M222.3 417.4h.8M216.9 425.7h.8M223.1 420.2h.8M217.2 422.1h.8M220.9 418.2h.8M226.5 416.2h.8M229.9 417.9h.8M205.4 420.8h.8M223.1 418.2h.8M233.6 421.5h.8M235.6 419.7h.8M230.4 417.0h.8M230.1 417.6h.8M220.8 417.5h.8M221.5 421.9h.8M220.7 418.2h.8M227.3 421.8h.8M220.5 423.2h.8M227.9 416.7h.8M220.9 416.1h.8M213.9 423.9h.8M215.0 423.5h.8M223.6 414.9h.8M217.7 425.8h.8M221.2 421.3h.8M216.2 418.0h.8M210.0 431.4h.8M219.8 419.0h.8M221.9 415.6h.8M230.8 423.1h.8M215.9 423.1h.8M214.8 424.8h.8M215.2 422.1h.8M230.2 420.1h.8M218.8 417.5h.8M210.0 427.0h.8M224.7 420.2h.8M229.8 419.2h.8M216.0 422.0h.8M220.4 421.1h.8M223.0 419.8h.8M216.3 419.5h.8M208.0 423.1h.8M210.5 418.7h.8M214.5 417.2h.8M230.7 421.9h.8M214.3 428.1h.8M225.7 413.1h.8M221.2 418.3h.8M208.9 423.3h.8M229.1 420.1h.8M210.9 421.8h.8M215.8 425.4h.8M220.4 418.5h.8M214.7 417.3h.8M215.2 424.9h.8M207.7 424.9h.8M220.3 423.4h.8M213.1 425.4h.8M232.0 424.4h.8M209.7 423.8h.8M219.6 421.7h.8M214.1 425.0h.8M237.5 420.9h.8M214.4 421.1h.8M226.2 420.1h.8M215.7 425.6h.8M224.7 422.8h.8M219.8 424.7h.8M217.8 418.8h.8M221.0 417.3h.8M229.9 420.7h.8M209.3 424.4h.8M227.0 418.5h.8M224.0 418.7h.8M220.6 420.9h.8M224.5 417.5h.8M213.1 423.9h.8M217.5 423.3h.8M217.5 418.4h.8M226.2 420.4h.8M226.2 418.8h.8M218.5 425.0h.8M209.2 428.6h.8M224.7 419.9h.8M221.7 422.4h.8M215.6 423.1h.8M214.3 417.7h.8M222.5 420.9h.8M225.6 421.3h.8M226.0 421.9h.8M213.6 426.1h.8M212.2 425.1h.8M227.5 422.1h.8M231.8 414.6h.8M223.7 421.6h.8M229.8 416.4h.8M221.2 420.0h.8M219.9 420.9h.8M220.0 416.5h.8M220.8 421.2h.8M218.3 412.2h.8M216.1 420.5h.8M214.9 426.8h.8M227.5 418.9h.8M225.3 428.8h.8M214.2 424.0h.8M216.8 426.0h.8M228.8 418.7h.8M225.3 417.8h.8M209.9 426.1h.8M232.5 417.3h.8M217.3 417.1h.8M236.1 414.0h.8M214.2 422.2h.8M229.6 419.0h.8M220.9 421.1h.8M227.0 419.4h.8M222.1 420.5h.8M213.2 426.6h.8M216.1 418.7h.8M217.9 421.9h.8M226.8 415.6h.8M212.1 423.7h.8M223.7 417.4h.8M213.0 423.5h.8M220.0 416.9h.8M214.8 426.5h.8M213.6 425.7h.8M210.2 427.7h.8M232.3 416.5h.8M216.2 423.9h.8M212.3 424.7h.8M229.6 419.5h.8M223.3 420.0h.8M228.1 417.0h.8M232.2 418.1h.8M218.7 417.2h.8M217.9 422.4h.8M229.8 414.5h.8M220.1 419.4h.8M212.6 423.1h.8M215.7 424.7h.8M202.0 427.7h.8M207.6 419.1h.8M224.7 419.2h.8M221.9 418.2h.8M213.6 420.9h.8M220.6 418.8h.8M218.1 419.4h.8M222.7 417.5h.8M206.4 417.6h.8M220.9 421.3h.8M227.8 417.3h.8M213.0 419.0h.8M226.3 418.0h.8M227.9 419.0h.8M219.1 416.5h.8M216.2 424.3h.8M216.7 423.9h.8M209.4 426.6h.8M223.3 417.1h.8M217.3 420.2h.8M222.3 415.3h.8M208.5 428.8h.8M212.6 428.7h.8M215.4 424.4h.8M206.6 428.1h.8M212.1 427.2h.8M208.7 429.4h.8M214.0 429.6h.8M210.6 428.6h.8M211.8 424.8h.8M211.7 423.2h.8M211.3 427.4h.8M214.8 424.6h.8M206.7 425.3h.8M203.7 425.5h.8M222.5 427.3h.8M209.0 425.4h.8M219.1 424.3h.8M211.5 426.8h.8M209.1 425.3h.8M205.3 425.1h.8M217.2 430.3h.8M210.9 428.6h.8M213.8 427.3h.8M211.5 429.8h.8M214.3 426.5h.8M211.1 429.2h.8M209.6 425.3h.8M210.9 425.9h.8M217.1 427.8h.8M211.6 425.8h.8M217.7 428.0h.8M220.4 429.1h.8M211.1 425.7h.8M210.9 427.4h.8M215.2 428.1h.8M218.3 423.5h.8M212.1 423.7h.8M207.9 425.6h.8M209.4 424.8h.8M205.9 429.6h.8M210.7 429.2h.8M207.6 421.6h.8M209.6 429.0h.8M209.8 427.9h.8M207.7 430.2h.8M213.7 429.4h.8M210.9 430.0h.8M212.3 425.9h.8M209.4 427.1h.8M208.4 424.2h.8M212.5 428.6h.8M210.8 428.9h.8M218.4 424.1h.8M213.0 424.8h.8M209.4 427.4h.8M202.5 428.4h.8M215.4 428.2h.8M214.6 431.2h.8M210.5 429.5h.8M217.8 428.1h.8M204.8 426.6h.8M210.8 423.3h.8M211.8 428.7h.8M211.0 426.6h.8M217.9 425.6h.8M208.2 427.1h.8M216.5 428.4h.8M212.3 425.9h.8M216.9 429.0h.8M205.0 427.8h.8M202.4 430.4h.8M214.5 425.5h.8M206.8 426.3h.8M205.0 428.3h.8M209.9 422.9h.8M211.9 429.7h.8M206.9 426.2h.8M219.3 427.4h.8M209.8 427.4h.8M215.1 424.7h.8M211.6 423.2h.8M205.6 423.4h.8M215.4 427.7h.8M214.9 429.8h.8M212.2 427.5h.8M213.6 428.1h.8M207.7 426.4h.8M211.4 427.1h.8M209.0 426.7h.8M213.1 427.4h.8M214.4 428.9h.8M214.2 429.2h.8M215.4 430.2h.8M214.5 425.6h.8M221.3 429.6h.8M217.0 428.7h.8M212.2 424.4h.8M213.7 426.2h.8M210.4 422.1h.8M218.2 424.3h.8M207.6 428.1h.8M214.3 425.2h.8M212.0 427.6h.8M212.6 428.2h.8M215.1 426.2h.8M205.5 432.0h.8M210.5 424.7h.8M215.0 428.3h.8M209.5 432.4h.8M202.6 430.0h.8M211.8 427.7h.8M213.3 426.5h.8M213.3 424.0h.8M210.4 431.3h.8M201.7 429.8h.8M203.0 425.0h.8M215.5 426.1h.8M209.7 423.5h.8M211.5 426.6h.8M209.4 423.4h.8M212.6 428.0h.8M216.6 428.2h.8M218.1 429.8h.8M200.7 430.8h.8M211.6 424.6h.8M213.7 429.2h.8M205.8 424.1h.8M214.8 425.7h.8M217.8 427.5h.8M209.8 423.9h.8M214.4 423.0h.8M206.8 424.0h.8M218.8 430.9h.8M211.1 426.1h.8M214.8 429.9h.8M208.8 432.1h.8M211.2 429.6h.8M202.5 426.9h.8M209.2 431.6h.8M211.1 424.1h.8M219.8 425.4h.8M212.0 424.1h.8M214.7 427.4h.8M210.8 426.1h.8M209.7 425.3h.8M206.3 429.8h.8M215.6 423.8h.8M207.3 427.9h.8M221.1 426.5h.8M210.7 426.4h.8M213.0 426.6h.8M216.3 429.3h.8M214.2 430.6h.8M211.1 425.7h.8M224.0 422.5h.8M205.7 421.6h.8M213.4 424.5h.8M216.3 422.2h.8M211.4 426.1h.8M207.7 429.6h.8M210.4 428.0h.8M209.9 427.3h.8M210.2 427.2h.8M211.6 425.4h.8M213.8 426.6h.8M208.1 424.6h.8M213.8 430.1h.8M206.7 426.0h.8M213.8 429.4h.8M214.9 424.3h.8M212.1 429.1h.8M213.0 426.5h.8M207.2 427.4h.8M211.7 427.1h.8M218.0 429.7h.8M208.8 427.5h.8M210.7 427.2h.8M218.6 429.1h.8M212.2 425.5h.8M211.3 427.8h.8M210.0 429.5h.8M212.1 424.3h.8M220.2 420.3h.8M210.9 426.7h.8M216.0 429.6h.8M217.9 430.6h.8M213.3 427.3h.8M216.1 426.9h.8M206.9 425.9h.8M214.7 428.4h.8M207.6 429.8h.8M213.2 423.5h.8M213.9 429.3h.8M214.1 426.3h.8M208.8 429.6h.8M212.9 427.0h.8M210.4 424.6h.8M204.5 426.2h.8M216.5 428.8h.8M209.3 430.5h.8M211.1 424.7h.8M215.9 430.2h.8M210.4 424.2h.8M211.7 421.4h.8M212.2 430.5h.8M213.1 425.3h.8M214.8 425.9h.8M217.1 426.2h.8M220.2 426.2h.8M212.8 424.8h.8M206.9 427.8h.8M213.4 424.8h.8M214.3 426.0h.8M209.8 426.8h.8M213.6 428.7h.8M217.0 427.9h.8M209.1 425.4h.8M213.5 424.2h.8M211.3 426.1h.8M211.6 427.4h.8M216.2 430.8h.8M215.5 429.3h.8M207.7 429.4h.8M217.2 423.9h.8M222.1 425.7h.8M202.4 431.1h.8M212.3 425.1h.8M209.7 429.5h.8M213.0 426.1h.8M216.6 424.8h.8M208.6 425.7h.8M209.0 428.6h.8M211.1 424.6h.8M210.2 422.4h.8M212.7 427.2h.8M214.4 426.5h.8M213.6 424.8h.8M212.1 427.4h.8M207.1 428.4h.8M212.6 427.1h.8M210.1 431.6h.8M212.0 425.2h.8M208.6 428.4h.8M211.2 425.2h.8M209.1 429.1h.8M212.3 429.4h.8M211.9 424.3h.8M215.5 427.7h.8M209.4 426.3h.8M208.1 428.9h.8M230.7 416.1h.8M232.8 414.4h.8M233.1 414.5h.8M228.4 414.1h.8M228.5 416.7h.8M234.0 413.7h.8M233.9 415.5h.8M234.9 412.9h.8M232.1 412.8h.8M229.9 418.0h.8M226.0 413.0h.8M233.5 416.7h.8M229.6 410.5h.8M226.8 415.8h.8M235.3 417.0h.8M229.8 418.0h.8M231.4 416.4h.8M231.4 418.5h.8M230.4 410.3h.8M231.1 415.4h.8M232.8 413.4h.8M231.3 412.5h.8M231.3 415.2h.8M232.7 418.6h.8M226.0 416.1h.8M233.3 412.5h.8M232.2 415.0h.8M229.0 416.6h.8M237.7 416.5h.8M234.3 417.3h.8M231.6 417.1h.8M229.6 415.4h.8M234.1 417.9h.8M231.1 414.4h.8M233.4 414.8h.8M232.4 416.8h.8M229.7 416.9h.8M233.1 414.4h.8M228.3 413.6h.8M231.9 417.1h.8M226.1 416.6h.8M232.6 412.5h.8M234.6 415.9h.8M233.3 412.9h.8M228.7 417.0h.8M236.2 415.8h.8M231.4 414.0h.8M226.9 417.2h.8M231.7 417.7h.8M229.8 417.3h.8M229.9 416.3h.8M236.1 413.5h.8M234.7 415.0h.8M229.2 415.4h.8M233.9 413.4h.8M231.2 413.8h.8M229.7 414.5h.8M234.5 413.9h.8M235.7 414.2h.8M229.9 417.3h.8M236.2 413.6h.8M233.7 412.5h.8M230.8 414.2h.8M234.1 412.3h.8M230.5 413.5h.8M232.3 412.3h.8M228.0 421.2h.8M232.6 411.7h.8M234.5 412.1h.8M226.4 418.6h.8M235.7 413.2h.8M228.8 416.0h.8M234.0 412.4h.8M226.7 415.8h.8M235.0 415.3h.8M232.0 418.0h.8M229.5 417.4h.8M234.5 413.6h.8M232.4 415.2h.8M233.7 412.9h.8M231.3 415.2h.8M232.1 415.0h.8M232.7 414.6h.8M230.5 417.2h.8M230.1 414.3h.8M229.4 412.5h.8M233.3 414.9h.8M231.6 416.0h.8M231.5 416.5h.8M237.3 415.8h.8M231.2 418.6h.8M234.1 411.4h.8M235.9 415.5h.8M234.5 412.5h.8M229.5 413.6h.8M233.6 412.6h.8M229.9 417.1h.8M230.1 415.3h.8M229.3 411.3h.8M231.8 414.7h.8M227.8 417.1h.8M234.4 416.9h.8M230.5 412.5h.8M231.7 415.4h.8M231.5 413.7h.8M229.1 413.4h.8M231.8 413.9h.8M236.9 414.4h.8M233.3 414.0h.8M231.5 412.9h.8M230.6 411.8h.8M225.9 417.9h.8M228.9 415.9h.8M231.6 413.8h.8M234.1 413.8h.8M233.3 414.2h.8M234.9 417.1h.8M232.2 417.4h.8M233.5 418.4h.8M231.6 411.7h.8M232.6 415.5h.8M230.9 414.5h.8M231.2 412.3h.8M237.0 413.3h.8M228.8 411.6h.8M229.5 414.9h.8M236.3 416.3h.8M229.9 412.3h.8M228.7 414.8h.8M234.5 414.0h.8M236.7 419.2h.8M232.5 410.3h.8M235.2 414.8h.8M234.0 417.1h.8M229.0 415.1h.8M232.5 413.4h.8M234.0 414.7h.8M230.8 419.0h.8M232.5 418.5h.8M231.5 417.2h.8M229.8 415.3h.8M235.2 410.3h.8M233.6 414.4h.8M235.2 415.4h.8M231.8 412.2h.8M231.0 413.4h.8M231.1 415.5h.8M228.1 417.3h.8M193.4 429.8h.8M182.6 428.3h.8M193.2 428.5h.8M191.1 429.4h.8M197.4 427.7h.8M183.5 430.0h.8M193.1 430.5h.8M200.1 428.9h.8M186.6 428.5h.8M190.7 430.7h.8M185.0 430.3h.8M185.9 428.2h.8M186.7 428.0h.8M192.4 429.5h.8M191.5 429.9h.8M205.2 429.2h.8M188.2 428.8h.8M194.4 428.5h.8M201.7 430.6h.8M206.7 429.7h.8M179.4 428.8h.8M198.9 427.9h.8M191.4 430.2h.8M195.8 427.5h.8M191.6 424.8h.8M194.9 427.3h.8M194.7 427.4h.8M189.5 428.3h.8M211.3 427.4h.8M188.0 428.3h.8M201.2 430.1h.8M199.0 428.6h.8M195.7 427.9h.8M193.9 427.9h.8M186.4 427.6h.8M206.3 429.5h.8M190.6 428.8h.8M192.3 430.7h.8M194.8 428.1h.8M198.9 429.4h.8M191.0 427.9h.8M195.8 426.8h.8M189.6 430.4h.8M200.0 430.5h.8M192.3 428.2h.8M193.4 428.3h.8M202.4 428.7h.8M202.9 428.0h.8M197.1 431.2h.8M190.6 428.1h.8M191.4 426.8h.8M193.2 428.1h.8M207.8 428.3h.8M182.4 430.3h.8M200.5 428.9h.8M196.6 430.0h.8M191.7 429.1h.8M195.8 431.3h.8M203.2 429.2h.8M187.1 430.2h.8M194.6 430.6h.8M195.2 429.2h.8M198.8 428.0h.8M191.1 432.1h.8M189.9 430.3h.8M198.9 430.1h.8M202.9 427.2h.8M200.5 426.2h.8M195.2 429.5h.8M200.9 430.5h.8M189.5 428.6h.8M194.0 428.0h.8M190.1 428.1h.8M201.6 430.9h.8M199.3 431.3h.8M195.5 427.5h.8M191.1 429.3h.8M200.9 430.7h.8M189.7 430.3h.8M191.8 429.8h.8M183.6 430.9h.8M179.4 429.7h.8M182.2 429.1h.8M181.2 430.1h.8M176.2 428.9h.8M187.7 429.9h.8M179.3 427.7h.8M178.2 430.0h.8M182.9 429.9h.8M182.7 428.9h.8M185.6 428.4h.8M182.5 429.2h.8M176.0 430.4h.8M180.2 430.2h.8M184.7 429.7h.8M179.0 429.3h.8M180.8 430.9h.8M183.5 431.1h.8M183.2 428.7h.8M183.7 430.4h.8M180.6 430.0h.8M180.0 428.3h.8M180.7 430.2h.8M179.9 427.3h.8M178.6 430.6h.8M181.6 430.6h.8M178.8 429.1h.8M178.0 428.7h.8M182.5 429.6h.8M179.5 429.8h.8M177.1 429.1h.8M176.6 428.0h.8M177.0 428.4h.8M185.6 430.8h.8M184.6 428.9h.8M182.8 428.4h.8M179.4 429.7h.8M176.3 429.7h.8M182.7 427.5h.8" stroke="#111" stroke-width="0.8" fill="none"/>
<line x1="218.00" y1="392.50" x2="218.00" y2="435.00" stroke="#808080" stroke-width="0.75" />
<line x1="173.50" y1="424.90" x2="238.60" y2="424.90" stroke="#808080" stroke-width="0.75" />
<text x="175.30" y="392.20" font-size="4.6" text-anchor="start" fill="#6a6a6a" >201 30502-MYLA 2X_001</text>
<text x="206.25" y="445.00" font-size="4.6" text-anchor="middle" fill="#6a6a6a" >ANEXINA APC-A</text>
<text transform="translate(163.70,413.25) rotate(-90)" font-size="3.8" text-anchor="middle" fill="#444" >7AAD PE-A</text>
<line x1="171.90" y1="434.00" x2="173.50" y2="434.00" stroke="#333" stroke-width="0.7" />
<text x="170.10" y="435.20" font-size="3.0" text-anchor="end" fill="#555" >10</text>
<line x1="171.90" y1="426.30" x2="173.50" y2="426.30" stroke="#333" stroke-width="0.7" />
<text x="170.10" y="427.50" font-size="3.0" text-anchor="end" fill="#555" >10</text>
<line x1="171.90" y1="418.60" x2="173.50" y2="418.60" stroke="#333" stroke-width="0.7" />
<text x="170.10" y="419.80" font-size="3.0" text-anchor="end" fill="#555" >10</text>
<line x1="171.90" y1="410.90" x2="173.50" y2="410.90" stroke="#333" stroke-width="0.7" />
<text x="170.10" y="412.10" font-size="3.0" text-anchor="end" fill="#555" >10</text>
<line x1="171.90" y1="403.20" x2="173.50" y2="403.20" stroke="#333" stroke-width="0.7" />
<text x="170.10" y="404.40" font-size="3.0" text-anchor="end" fill="#555" >10</text>
<line x1="171.90" y1="395.50" x2="173.50" y2="395.50" stroke="#333" stroke-width="0.7" />
<text x="170.10" y="396.70" font-size="3.0" text-anchor="end" fill="#555" >10</text>
<line x1="175.50" y1="435.00" x2="175.50" y2="436.60" stroke="#333" stroke-width="0.7" />
<text x="175.50" y="439.40" font-size="3.2" text-anchor="middle" fill="#555" >10</text>
<line x1="190.53" y1="435.00" x2="190.53" y2="436.60" stroke="#333" stroke-width="0.7" />
<text x="190.53" y="439.40" font-size="3.2" text-anchor="middle" fill="#555" >10</text>
<line x1="205.55" y1="435.00" x2="205.55" y2="436.60" stroke="#333" stroke-width="0.7" />
<text x="205.55" y="439.40" font-size="3.2" text-anchor="middle" fill="#555" >10</text>
<line x1="220.57" y1="435.00" x2="220.57" y2="436.60" stroke="#333" stroke-width="0.7" />
<text x="220.57" y="439.40" font-size="3.2" text-anchor="middle" fill="#555" >10</text>
<line x1="235.60" y1="435.00" x2="235.60" y2="436.60" stroke="#333" stroke-width="0.7" />
<text x="235.60" y="439.40" font-size="3.2" text-anchor="middle" fill="#555" >10</text>
<text x="223.00" y="429.70" font-size="3.8" text-anchor="start" fill="#333" >Q4</text>
<text transform="translate(157.00,415.05) rotate(-90) scale(0.9,1)" font-size="11.1" text-anchor="middle" font-weight="bold" fill="#000" >2x IC50</text>
<rect x="433.30" y="264.10" width="83.30" height="60.20" fill="#fff" stroke="#8c8c8c" stroke-width="1"/>
<rect x="449.80" y="270.30" width="65.40" height="42.70" fill="none" stroke="#7a7a7a" stroke-width="0.8"/>
<line x1="449.80" y1="270.30" x2="449.80" y2="313.00" stroke="#333" stroke-width="1.0" />
<line x1="449.80" y1="313.00" x2="515.20" y2="313.00" stroke="#333" stroke-width="1.0" />
<polygon points="454,309.5 480,309.5 483,304 476,301 458,302" fill="#111" filter="url(#bl2)"/>
<path d="M482.6 303.7h.8M464.9 305.8h.8M486.9 299.4h.8M513.5 304.3h.8M497.7 312.1h.8M476.1 301.9h.8M454.3 301.9h.8M494.6 304.0h.8M462.6 298.8h.8M452.3 296.2h.8M486.7 304.5h.8M468.7 301.9h.8M470.6 306.0h.8M495.9 300.2h.8M476.7 297.0h.8M484.5 307.2h.8M494.9 310.3h.8M479.0 298.5h.8M502.9 307.5h.8M473.1 308.4h.8M484.5 302.8h.8M490.2 301.4h.8M488.2 308.2h.8M492.7 299.3h.8M492.6 302.4h.8M490.1 302.0h.8M478.0 292.1h.8M496.9 300.7h.8M490.4 291.9h.8M489.1 307.9h.8M488.0 296.5h.8M501.7 300.4h.8M474.7 304.0h.8M492.6 296.9h.8M484.7 303.3h.8M509.9 309.3h.8M469.0 304.8h.8M513.0 298.0h.8M478.6 299.3h.8M493.9 305.0h.8M484.0 306.3h.8M470.9 301.1h.8M484.0 303.3h.8M507.8 303.4h.8M507.6 304.2h.8M505.0 303.9h.8M468.5 298.8h.8M469.8 307.6h.8M457.9 307.5h.8M491.3 306.1h.8M463.5 304.9h.8M501.3 302.7h.8M502.8 303.1h.8M490.8 301.4h.8M460.8 302.2h.8M493.5 299.2h.8M507.9 301.9h.8M471.2 309.2h.8M481.7 295.5h.8M477.0 298.6h.8M481.5 298.5h.8M485.9 305.3h.8M474.6 302.0h.8M482.0 307.1h.8M472.0 306.7h.8M506.7 302.0h.8M467.7 301.5h.8M453.4 300.3h.8M463.6 302.2h.8M478.2 305.6h.8M486.8 305.1h.8M483.9 304.4h.8M464.7 306.3h.8M507.7 308.5h.8M461.0 305.1h.8M456.0 306.8h.8M481.1 300.7h.8M471.5 301.8h.8M484.6 298.2h.8M485.8 304.3h.8M494.0 302.8h.8M502.6 304.6h.8M460.2 306.1h.8M494.9 289.7h.8M481.8 304.9h.8M485.4 303.5h.8M482.0 309.9h.8M491.5 301.6h.8M469.5 300.4h.8M490.5 303.7h.8M490.1 309.8h.8M504.9 305.1h.8M485.5 302.7h.8M480.7 308.0h.8M462.4 297.8h.8M476.7 298.2h.8M471.7 309.0h.8M461.5 301.8h.8M474.6 298.0h.8M458.5 303.4h.8M477.8 308.5h.8M470.5 301.6h.8M493.1 307.7h.8M467.9 305.4h.8M484.2 308.7h.8M477.5 302.0h.8M469.7 296.4h.8M489.6 306.6h.8M504.7 304.3h.8M476.6 298.4h.8M464.2 299.4h.8M490.8 303.5h.8M479.7 297.8h.8M484.4 305.7h.8M466.4 296.2h.8M479.1 304.3h.8M480.2 310.7h.8M487.4 298.0h.8M498.6 299.8h.8M497.0 303.5h.8M506.7 298.0h.8M497.6 305.1h.8M468.7 306.5h.8M471.2 302.2h.8M508.0 304.3h.8M511.2 299.7h.8M508.1 295.1h.8M481.9 301.5h.8M476.1 309.1h.8" stroke="#666" stroke-width="0.8" fill="none"/>
<path d="M461.5 307.0h.8M479.7 306.9h.8M462.9 304.7h.8M451.0 307.6h.8M472.5 307.9h.8M467.7 310.3h.8M471.7 300.9h.8M459.4 308.0h.8M463.0 307.9h.8M485.0 303.4h.8M482.4 304.9h.8M455.0 306.8h.8M472.7 304.4h.8M477.7 303.6h.8M464.5 308.0h.8M464.4 304.9h.8M465.8 307.4h.8M478.8 308.1h.8M479.9 305.2h.8M453.6 306.6h.8M462.9 304.1h.8M462.1 306.1h.8M466.3 307.9h.8M459.1 308.7h.8M466.3 307.5h.8M475.2 302.9h.8M477.9 303.9h.8M468.9 308.1h.8M472.8 302.4h.8M467.2 308.3h.8M465.1 305.9h.8M466.5 309.4h.8M461.9 304.3h.8M457.7 305.4h.8M464.2 306.8h.8M465.4 302.5h.8M454.2 308.1h.8M471.4 302.9h.8M473.0 300.6h.8M483.3 306.2h.8M453.6 307.8h.8M465.7 305.1h.8M463.2 305.7h.8M465.2 304.2h.8M461.7 307.4h.8M469.9 303.0h.8M462.3 309.4h.8M471.3 309.1h.8M455.9 304.4h.8M463.2 304.0h.8M457.8 305.0h.8M464.6 307.8h.8M470.2 302.1h.8M477.1 304.7h.8M458.5 306.4h.8M463.0 303.3h.8M477.7 304.2h.8M461.5 307.4h.8M478.5 306.3h.8M459.2 307.3h.8M474.3 306.3h.8M470.9 304.7h.8M465.5 302.6h.8M460.6 304.0h.8M466.0 309.1h.8M459.0 306.2h.8M474.7 303.9h.8M460.1 308.8h.8M468.8 306.9h.8M472.2 304.1h.8M467.7 304.6h.8M460.6 306.6h.8M469.3 303.2h.8M460.2 307.6h.8M467.2 307.3h.8M463.6 304.5h.8M471.9 306.9h.8M460.3 307.7h.8M477.8 304.8h.8M458.7 306.9h.8M466.7 307.1h.8M455.4 307.1h.8M472.7 307.1h.8M470.7 308.2h.8M459.8 308.9h.8M467.6 303.9h.8M463.8 306.7h.8M468.5 308.6h.8M467.4 304.9h.8M482.4 304.4h.8M459.8 308.3h.8M462.9 304.6h.8M458.0 308.9h.8M458.0 306.7h.8M462.6 305.8h.8M459.8 306.7h.8M470.5 307.9h.8M463.3 303.7h.8M454.8 306.6h.8M466.2 306.2h.8M455.5 305.3h.8M460.4 307.7h.8M462.9 307.5h.8M469.9 301.8h.8M464.2 308.7h.8M462.1 306.5h.8M465.0 303.5h.8M482.4 304.8h.8M470.8 304.8h.8M476.5 307.8h.8M474.9 307.5h.8M471.3 308.6h.8M469.0 306.1h.8M472.1 303.8h.8M467.1 304.5h.8M464.0 304.2h.8M459.7 306.8h.8M466.9 307.7h.8M465.3 307.4h.8M471.1 304.3h.8M453.3 305.3h.8M464.1 305.0h.8M482.6 303.7h.8M469.6 304.2h.8M471.2 303.1h.8M473.2 306.0h.8M463.0 303.7h.8M478.6 304.1h.8M476.8 300.5h.8M457.0 310.3h.8M479.4 305.3h.8M473.5 306.8h.8M463.3 306.4h.8M457.4 303.7h.8M466.9 307.5h.8M467.2 303.4h.8M472.4 305.8h.8M471.7 305.1h.8M464.0 308.3h.8M476.3 303.0h.8M457.7 308.5h.8M468.7 306.0h.8M458.6 308.5h.8M467.4 306.4h.8M468.9 304.8h.8M469.0 306.1h.8M471.4 306.5h.8M456.4 305.1h.8M464.0 308.5h.8M461.1 308.6h.8M474.1 307.4h.8M483.0 305.1h.8M468.4 308.4h.8M469.1 307.9h.8M465.0 309.0h.8M468.6 301.9h.8M474.2 305.2h.8M459.4 305.8h.8M463.9 308.5h.8M468.5 305.7h.8M465.9 304.2h.8M461.2 305.3h.8M464.3 303.7h.8M463.0 308.3h.8M469.4 305.8h.8M468.6 305.4h.8M457.1 308.3h.8M482.9 306.1h.8M471.2 310.8h.8M456.9 307.6h.8M463.4 305.6h.8M453.5 306.6h.8M469.0 302.6h.8M464.3 305.1h.8M458.5 307.7h.8M478.4 306.2h.8M473.7 307.2h.8M465.5 307.2h.8M476.0 304.6h.8M464.9 303.3h.8M452.0 305.1h.8M472.7 306.4h.8M468.0 308.6h.8M452.7 309.6h.8M466.6 307.6h.8M476.4 303.8h.8M459.5 307.2h.8M465.6 304.9h.8M465.1 304.6h.8M467.0 305.2h.8M478.8 303.2h.8M470.4 305.9h.8M477.9 303.4h.8M462.5 309.8h.8M461.0 305.5h.8M463.0 304.2h.8M475.2 308.6h.8M464.9 304.6h.8M455.8 308.0h.8M462.0 307.4h.8M470.7 306.6h.8M467.0 305.9h.8M463.4 305.3h.8M467.1 307.0h.8M473.0 305.2h.8M475.2 303.6h.8M480.4 307.2h.8M462.9 311.8h.8M476.9 308.7h.8M457.0 306.3h.8M469.6 308.0h.8M466.6 303.3h.8M475.2 305.2h.8M469.3 305.2h.8M465.2 303.3h.8M471.0 304.5h.8M452.6 307.6h.8M465.7 308.0h.8M472.2 303.2h.8M464.7 306.1h.8M466.7 303.8h.8M466.6 308.0h.8M475.3 308.5h.8M471.7 300.6h.8M464.0 305.0h.8M472.9 305.6h.8M468.7 306.9h.8M464.4 308.9h.8M479.7 306.9h.8M461.8 306.8h.8M473.4 307.1h.8M460.8 308.3h.8M471.5 306.9h.8M462.9 306.1h.8M451.6 306.8h.8M462.7 305.6h.8M463.9 305.5h.8M466.7 306.2h.8M461.4 306.0h.8M465.3 307.1h.8M469.3 305.1h.8M459.8 303.0h.8M456.6 307.4h.8M459.1 309.7h.8M464.8 305.3h.8M464.8 305.0h.8M461.3 306.4h.8M455.1 306.9h.8M465.3 304.2h.8M473.7 306.3h.8M474.2 304.2h.8M456.7 304.1h.8M454.2 302.8h.8M477.8 304.4h.8M467.5 304.9h.8M464.9 309.3h.8M452.9 304.7h.8M467.0 304.1h.8M471.2 308.4h.8M472.7 307.2h.8M464.8 308.1h.8M460.0 303.9h.8M464.0 305.6h.8M475.2 303.5h.8M474.6 304.0h.8M456.5 303.1h.8M465.7 303.1h.8M467.6 306.0h.8M463.0 302.3h.8M462.1 307.1h.8M452.6 308.2h.8M466.1 304.9h.8M467.5 307.3h.8M465.8 304.4h.8M471.9 304.3h.8M468.7 307.8h.8M475.8 308.7h.8M473.7 305.9h.8M464.5 306.5h.8M470.0 311.9h.8M471.0 304.1h.8M477.5 302.1h.8M473.6 303.0h.8M457.8 305.5h.8M463.9 303.4h.8M470.7 305.5h.8M476.1 303.4h.8M452.4 308.2h.8M464.3 308.1h.8M466.7 309.9h.8M456.7 302.7h.8M462.6 309.1h.8M477.9 302.6h.8M461.4 302.5h.8M459.7 304.4h.8M469.2 308.1h.8M483.9 304.3h.8M472.2 306.1h.8M467.0 309.9h.8M471.3 308.9h.8M468.3 307.6h.8M469.8 305.6h.8M460.8 305.5h.8M466.1 305.2h.8M463.4 304.7h.8M472.5 305.2h.8M465.1 305.6h.8M475.9 304.4h.8M476.6 303.7h.8M477.5 306.6h.8M462.3 307.1h.8M474.6 303.6h.8M464.3 306.7h.8M464.4 305.5h.8M466.2 306.6h.8M471.8 308.7h.8M463.6 312.1h.8M463.5 309.8h.8M465.1 303.1h.8M462.7 305.5h.8M474.0 301.5h.8M461.3 306.0h.8M470.9 306.5h.8M472.5 305.3h.8M464.3 308.6h.8M478.9 306.1h.8M467.2 304.2h.8M481.8 305.9h.8M470.7 302.5h.8M470.6 310.7h.8M464.8 305.7h.8M477.5 305.0h.8M472.3 309.6h.8M457.3 304.8h.8M471.1 306.0h.8M466.3 305.7h.8M467.0 306.7h.8M462.5 305.6h.8M467.8 303.7h.8M469.3 301.4h.8M470.8 305.5h.8M457.2 309.2h.8M457.2 310.7h.8M460.6 308.8h.8M465.5 309.3h.8M464.4 308.2h.8M463.6 302.3h.8M468.9 306.8h.8M469.0 309.2h.8M460.5 303.4h.8M467.9 304.5h.8M465.3 306.0h.8M459.9 308.6h.8M465.1 309.7h.8M467.9 308.1h.8M463.9 304.8h.8M462.1 304.4h.8M469.4 306.1h.8M458.0 303.3h.8M459.6 302.6h.8M459.4 303.3h.8M471.3 303.3h.8M461.6 306.0h.8M466.3 306.9h.8M471.7 307.0h.8M463.5 308.7h.8M468.8 304.4h.8M477.2 303.0h.8M469.6 308.4h.8M466.9 306.7h.8M466.9 307.3h.8M467.7 305.9h.8M471.3 301.8h.8M467.9 305.3h.8M480.6 305.8h.8M461.1 307.6h.8M463.2 303.7h.8M464.0 307.1h.8M474.9 307.6h.8M467.7 305.6h.8M467.5 308.4h.8M465.1 308.4h.8M460.1 306.3h.8M471.8 307.1h.8M467.5 304.9h.8M452.7 305.9h.8M459.7 305.5h.8M477.8 303.8h.8M472.3 305.6h.8M457.8 306.7h.8M471.6 303.3h.8M457.4 305.7h.8M471.4 304.5h.8M469.2 306.8h.8M466.1 306.9h.8M475.4 305.1h.8M468.4 303.7h.8M460.7 306.1h.8M472.1 304.3h.8M455.7 308.5h.8M483.6 299.8h.8M458.2 306.7h.8M469.6 303.9h.8M468.5 308.1h.8M464.0 307.6h.8M467.0 304.1h.8M461.5 305.0h.8M475.9 307.8h.8M467.8 302.7h.8M462.4 305.4h.8M451.8 306.8h.8M468.1 303.2h.8M462.9 305.3h.8M479.6 306.6h.8M471.7 305.9h.8M456.6 308.4h.8M461.1 302.4h.8M471.4 305.0h.8M466.0 307.0h.8M464.3 306.9h.8M475.5 304.8h.8M463.4 306.2h.8M470.8 304.9h.8M466.6 304.6h.8M465.5 307.1h.8M460.0 306.0h.8M455.3 305.2h.8M466.6 307.0h.8M458.5 306.2h.8M459.2 307.0h.8M468.0 306.8h.8M464.5 303.2h.8M461.9 303.5h.8M461.1 306.2h.8M473.9 304.3h.8M460.4 306.7h.8M450.9 310.9h.8M454.7 308.7h.8M473.2 307.6h.8M465.3 307.5h.8M463.5 308.1h.8M461.2 304.6h.8M468.8 304.9h.8M470.9 304.0h.8M468.0 303.9h.8M465.3 310.4h.8M458.2 303.9h.8M454.3 306.2h.8M477.9 304.4h.8M472.8 305.2h.8M461.4 310.3h.8M473.9 301.8h.8M458.9 307.2h.8M470.8 305.3h.8M468.3 307.0h.8M463.5 308.2h.8M459.8 307.9h.8M472.7 306.0h.8M463.5 306.1h.8M455.7 302.5h.8M471.6 303.8h.8M468.6 305.9h.8M453.2 304.9h.8M464.0 307.1h.8M466.5 303.4h.8M462.2 306.4h.8M456.8 305.6h.8M462.0 301.9h.8M478.6 307.1h.8M462.6 308.1h.8M458.4 309.5h.8M463.3 306.4h.8M461.8 306.4h.8M468.4 305.9h.8M460.0 307.9h.8M470.1 305.8h.8M473.7 304.1h.8M475.3 305.2h.8M477.0 304.5h.8M464.2 306.5h.8M474.0 308.5h.8M462.7 304.7h.8M471.6 308.2h.8M471.1 305.0h.8M475.3 305.4h.8M467.2 307.2h.8M461.9 301.6h.8M467.6 307.4h.8M469.2 306.9h.8M467.2 308.0h.8M466.8 309.0h.8M466.4 307.6h.8M462.0 306.8h.8M469.1 306.1h.8M477.2 305.5h.8M474.2 306.3h.8M473.9 303.7h.8M463.4 308.1h.8M460.1 307.1h.8M470.1 306.2h.8M469.2 306.9h.8M464.3 306.9h.8M462.3 305.3h.8M454.5 306.4h.8M453.7 306.8h.8M467.5 303.7h.8M466.5 306.6h.8M463.5 304.3h.8M465.2 306.9h.8M472.7 309.5h.8M451.7 307.5h.8M469.2 304.5h.8M468.3 310.1h.8M466.8 308.7h.8M473.7 304.7h.8M477.2 301.8h.8M464.6 304.7h.8M467.5 306.0h.8M474.3 304.3h.8M480.0 301.8h.8M467.6 311.3h.8M465.3 307.3h.8M472.5 304.9h.8M452.1 307.2h.8M471.3 301.6h.8M462.5 307.3h.8M454.5 303.9h.8M469.0 308.1h.8M474.5 304.2h.8M469.7 302.2h.8M455.3 307.7h.8M463.1 304.1h.8M452.4 306.3h.8M482.2 301.0h.8M458.4 308.7h.8M452.1 305.5h.8M466.5 308.3h.8M465.5 309.7h.8M465.8 305.8h.8M469.2 306.5h.8M455.1 304.7h.8M464.3 306.8h.8M457.1 305.0h.8M460.6 307.0h.8M462.9 307.4h.8M468.8 304.0h.8M463.8 303.6h.8M466.8 307.6h.8M458.8 302.8h.8M469.8 305.2h.8M465.8 306.9h.8M468.8 307.7h.8M462.7 301.7h.8M462.5 305.6h.8M463.0 307.0h.8M464.2 308.7h.8M461.4 306.2h.8M463.4 310.5h.8M459.1 304.3h.8M463.2 307.7h.8M466.1 305.6h.8M455.3 302.4h.8M464.4 305.6h.8M478.9 306.0h.8M469.1 307.8h.8M459.5 303.9h.8M463.3 309.2h.8M473.2 304.4h.8M456.9 308.4h.8M474.0 303.3h.8M477.7 303.8h.8M471.5 305.3h.8M463.6 304.9h.8M471.1 307.0h.8M471.9 305.1h.8M459.8 310.7h.8M478.5 304.9h.8M457.6 309.5h.8M467.0 306.1h.8M472.2 306.4h.8M466.8 310.0h.8M452.2 308.1h.8M458.8 306.6h.8M464.8 306.6h.8M483.1 304.2h.8M472.6 306.9h.8M468.2 304.8h.8M470.7 306.3h.8M476.6 307.1h.8M460.8 300.3h.8M477.1 306.4h.8M467.3 304.7h.8M484.4 307.7h.8M466.7 305.2h.8M470.2 308.5h.8M469.8 307.7h.8M467.9 306.6h.8M456.7 306.8h.8M466.4 305.8h.8M464.2 306.7h.8M461.7 305.8h.8M456.3 311.3h.8M459.4 303.9h.8M462.0 305.4h.8M458.1 301.4h.8M478.1 307.4h.8M463.2 307.3h.8M457.8 303.1h.8M468.5 307.0h.8M460.9 306.3h.8M473.8 305.9h.8M467.3 307.1h.8M456.6 307.0h.8M461.3 302.4h.8M472.6 305.2h.8M473.4 309.7h.8M453.7 304.1h.8M474.0 308.4h.8M468.9 306.6h.8M471.1 307.1h.8M456.5 308.1h.8M473.3 304.8h.8M459.2 305.4h.8M461.6 307.3h.8M471.8 305.7h.8M463.7 302.5h.8M462.8 304.1h.8M461.9 306.9h.8M459.5 305.3h.8M457.5 306.0h.8M463.9 308.2h.8M451.5 308.7h.8M470.8 304.7h.8M460.9 306.7h.8M469.9 305.5h.8M464.8 306.1h.8M457.9 307.0h.8M470.3 305.9h.8M457.5 306.5h.8M465.2 306.7h.8M462.9 307.9h.8M474.1 307.2h.8M467.7 308.4h.8M465.7 305.7h.8M455.3 306.6h.8M475.0 303.5h.8M471.8 303.1h.8M468.2 309.6h.8M466.3 303.6h.8M468.1 305.6h.8M471.9 304.6h.8M453.1 305.8h.8M470.4 307.8h.8M468.0 305.9h.8M471.1 305.3h.8M462.6 306.7h.8M474.1 304.5h.8M469.7 304.5h.8M460.5 306.7h.8M456.1 304.8h.8M457.1 305.3h.8M459.2 311.1h.8M470.5 305.9h.8M456.0 301.8h.8M469.2 304.6h.8M473.8 304.8h.8M456.2 305.3h.8M454.6 303.8h.8M471.3 304.6h.8M471.1 304.6h.8M464.2 305.0h.8M461.9 304.9h.8M477.1 305.3h.8M451.4 310.2h.8M475.3 307.7h.8M465.2 305.7h.8M462.4 306.5h.8M469.4 305.8h.8M459.8 304.4h.8M478.4 308.7h.8M456.7 305.2h.8M465.6 307.2h.8M465.1 306.5h.8M468.6 308.1h.8M456.2 308.8h.8M469.2 306.9h.8M454.7 306.2h.8M464.0 307.4h.8M471.0 307.1h.8M456.3 309.1h.8M466.4 307.9h.8M465.8 304.6h.8M485.5 306.2h.8M471.6 304.8h.8M464.3 308.3h.8M469.3 309.3h.8M474.9 303.4h.8M454.4 309.0h.8M470.4 305.2h.8M463.7 305.0h.8M479.3 304.9h.8M455.6 308.4h.8M465.3 306.8h.8M463.0 306.1h.8M451.9 307.9h.8M460.8 305.5h.8M468.3 308.4h.8M470.0 307.8h.8M459.1 307.0h.8M468.9 307.7h.8M461.3 305.9h.8M462.1 308.5h.8M474.0 304.7h.8M464.9 306.5h.8M459.2 306.2h.8M472.4 307.2h.8M460.8 305.0h.8M465.0 303.2h.8M468.2 306.1h.8M455.9 306.1h.8M460.9 305.8h.8M459.3 309.1h.8M458.7 307.9h.8M467.4 308.8h.8M465.4 306.1h.8M466.4 302.3h.8M483.9 304.6h.8M463.5 303.9h.8M464.8 309.3h.8M460.2 307.2h.8M473.6 307.5h.8M462.8 302.8h.8M468.9 307.0h.8M463.4 305.3h.8M479.0 302.2h.8M462.0 305.0h.8M454.2 305.3h.8M459.9 308.8h.8M452.8 304.1h.8M467.8 302.9h.8M450.9 305.6h.8M456.8 304.6h.8M464.7 307.0h.8M461.0 305.8h.8M471.2 305.4h.8M471.4 304.6h.8M469.5 308.3h.8M463.4 305.5h.8M464.7 307.0h.8M456.8 306.6h.8M461.5 309.1h.8M452.9 308.0h.8M463.5 304.7h.8M466.9 305.5h.8M466.2 306.5h.8M474.9 304.7h.8M478.4 300.1h.8M479.5 307.6h.8M477.6 305.8h.8M468.0 303.9h.8M475.9 303.2h.8M459.9 306.4h.8M467.6 306.6h.8M457.2 305.8h.8M469.5 308.1h.8M471.6 306.5h.8M463.9 305.1h.8M462.0 306.1h.8M469.8 304.8h.8M481.2 303.2h.8M472.0 305.3h.8M464.8 305.4h.8M477.3 304.8h.8M470.0 306.0h.8M471.5 306.9h.8M478.2 303.9h.8M459.7 309.7h.8M475.4 305.6h.8M463.7 306.7h.8M475.6 304.0h.8M476.7 305.3h.8M463.2 305.4h.8M456.0 305.5h.8M459.2 306.9h.8M471.3 305.8h.8M467.3 306.8h.8M477.9 306.5h.8M477.6 305.3h.8M468.5 304.6h.8M470.3 304.1h.8M469.4 304.6h.8M463.2 308.6h.8M467.0 307.5h.8M464.1 302.5h.8M476.9 305.1h.8M461.0 308.1h.8M457.4 305.1h.8M474.4 304.2h.8M474.3 305.0h.8M464.3 306.3h.8M462.1 308.3h.8M474.0 305.7h.8M470.4 306.8h.8M478.4 302.3h.8M473.5 307.4h.8M463.5 306.2h.8M463.3 308.6h.8M457.3 307.7h.8M475.5 306.6h.8M462.3 305.3h.8M474.0 303.7h.8M453.6 306.2h.8M454.7 307.6h.8M459.3 308.3h.8M465.0 303.3h.8M460.1 305.1h.8M459.6 308.8h.8M458.4 307.2h.8M461.5 307.4h.8M455.2 303.6h.8M469.7 308.6h.8M455.5 306.0h.8M462.1 304.4h.8M473.1 305.7h.8M455.5 306.2h.8M475.8 304.1h.8M462.0 304.7h.8M467.1 304.9h.8M472.5 304.1h.8M455.0 307.5h.8M468.0 306.4h.8M461.6 305.4h.8M459.9 306.0h.8M462.5 307.3h.8M465.9 307.1h.8M478.1 304.8h.8M463.7 306.9h.8M481.6 304.5h.8M478.5 307.6h.8M458.5 307.2h.8M475.8 305.6h.8M467.1 310.2h.8M468.5 310.1h.8M459.2 309.6h.8M462.1 301.6h.8M459.7 305.5h.8M465.6 307.5h.8M471.0 306.8h.8M460.3 309.8h.8M474.8 305.6h.8M461.6 306.2h.8M464.2 304.8h.8M465.8 304.8h.8M470.7 304.5h.8M469.6 306.5h.8M467.1 307.0h.8M458.2 311.5h.8M460.7 307.8h.8M466.1 305.2h.8M478.9 307.5h.8M463.8 307.2h.8M471.0 308.8h.8M473.5 305.3h.8M464.0 303.9h.8M467.9 307.6h.8M463.0 307.5h.8M466.9 305.1h.8M456.8 308.7h.8M484.9 306.0h.8M457.8 304.5h.8M467.8 307.2h.8M477.3 300.7h.8M479.8 305.6h.8M466.9 306.7h.8M463.2 305.6h.8M473.8 302.2h.8M465.1 307.2h.8M453.6 306.4h.8M477.4 306.1h.8M471.2 307.1h.8M467.6 306.6h.8M459.8 306.0h.8M479.8 302.9h.8M464.7 303.6h.8M461.9 304.8h.8M456.7 307.0h.8M458.8 307.5h.8M479.5 300.3h.8M464.7 302.0h.8M465.0 306.8h.8M467.5 308.3h.8M467.1 302.6h.8M477.2 303.6h.8M465.2 306.7h.8M459.3 306.6h.8M477.1 302.1h.8M453.4 305.9h.8M464.7 303.6h.8M468.9 303.3h.8M470.2 305.7h.8M467.1 303.4h.8M464.3 307.1h.8M452.8 304.7h.8M473.2 309.5h.8M470.9 305.6h.8M457.8 305.7h.8M464.1 307.0h.8M464.0 311.0h.8M475.9 301.2h.8M457.2 306.5h.8M473.3 306.4h.8M476.1 306.6h.8M485.2 306.5h.8M469.4 308.8h.8M462.6 305.1h.8M458.4 306.9h.8M469.3 307.7h.8M476.8 306.6h.8M475.2 305.0h.8M458.7 307.9h.8M473.6 308.2h.8M464.7 305.2h.8M463.2 306.9h.8M465.6 305.7h.8M467.9 305.3h.8M468.5 304.7h.8M454.4 306.1h.8M480.2 303.6h.8M472.9 308.3h.8M461.9 306.8h.8M477.5 305.7h.8M451.0 305.7h.8M460.4 306.6h.8M468.1 305.1h.8M463.6 304.5h.8M470.3 306.2h.8M468.6 304.9h.8M469.7 305.2h.8M468.2 305.6h.8M461.0 304.1h.8M452.0 304.1h.8M453.6 305.1h.8M464.4 303.8h.8M469.1 310.0h.8M475.3 303.2h.8M465.2 304.8h.8M471.7 302.8h.8M468.3 306.3h.8M470.2 306.6h.8M467.1 302.4h.8M463.6 304.3h.8M470.0 305.3h.8M467.1 308.1h.8M465.2 309.4h.8M472.3 302.7h.8M461.6 308.7h.8M462.2 308.6h.8M461.8 306.0h.8M473.7 302.5h.8M466.6 305.1h.8M467.3 309.3h.8M469.7 303.1h.8M473.2 304.7h.8M467.2 308.2h.8M463.7 308.0h.8M467.3 304.1h.8M463.7 303.4h.8M474.9 305.8h.8M473.3 303.4h.8M472.4 303.3h.8M468.1 305.9h.8M461.6 306.9h.8M466.3 304.3h.8M460.4 303.7h.8M476.3 305.7h.8M463.3 307.5h.8M459.5 304.1h.8M468.7 309.0h.8M468.3 306.2h.8M479.1 302.2h.8M489.0 302.5h.8M465.4 303.4h.8M456.9 306.0h.8M484.3 303.1h.8M461.4 306.8h.8M458.4 305.9h.8M472.1 301.3h.8M463.7 305.5h.8M462.2 306.0h.8M452.5 305.9h.8M462.1 304.2h.8M475.5 309.5h.8M472.0 303.9h.8M476.7 306.4h.8M459.9 307.6h.8M461.7 307.4h.8M472.9 307.9h.8M458.1 306.2h.8M466.0 303.6h.8M469.1 307.2h.8M455.6 305.5h.8M457.7 303.9h.8M458.0 309.2h.8M461.0 305.5h.8M473.4 307.6h.8M476.6 301.3h.8M471.7 302.2h.8M461.2 305.4h.8M461.7 310.2h.8M464.7 308.4h.8M464.6 306.0h.8M469.8 306.7h.8M469.8 302.3h.8M469.8 306.4h.8M470.5 305.6h.8M469.1 303.2h.8M474.5 303.1h.8M476.5 307.4h.8M465.5 305.4h.8M471.8 305.1h.8M457.1 307.1h.8M456.8 305.6h.8M479.5 306.9h.8M462.6 306.1h.8M461.1 306.3h.8M455.1 308.0h.8M466.1 304.8h.8M461.4 311.5h.8M462.7 305.2h.8M461.6 305.3h.8M475.8 306.8h.8M469.1 306.6h.8M457.5 301.7h.8M477.3 306.8h.8M467.6 306.5h.8M467.5 306.0h.8M464.0 301.7h.8M470.3 305.9h.8M473.3 306.2h.8M463.9 307.3h.8M467.4 305.0h.8M463.2 305.3h.8M463.8 305.2h.8M473.4 311.4h.8M465.1 308.3h.8M451.2 300.4h.8M462.4 305.9h.8M460.4 303.6h.8M459.6 305.3h.8M467.2 305.3h.8M457.0 305.8h.8M477.3 303.6h.8M466.5 308.0h.8M460.0 305.2h.8M487.7 307.3h.8M462.0 306.5h.8M466.8 306.3h.8M469.5 305.2h.8M467.1 303.2h.8M463.6 309.1h.8M467.8 304.6h.8M467.0 308.0h.8M453.2 304.2h.8M461.0 305.4h.8M465.3 304.9h.8M466.8 306.1h.8M457.3 305.2h.8M456.7 307.1h.8M480.3 305.3h.8M474.6 303.4h.8M467.9 305.6h.8M470.9 305.9h.8M484.4 304.2h.8M482.1 304.1h.8M480.9 305.8h.8M485.3 307.6h.8M477.7 306.0h.8M483.3 304.3h.8M480.3 301.0h.8M484.4 301.3h.8M475.7 302.6h.8M481.8 301.4h.8M481.3 304.9h.8M479.5 303.2h.8M482.0 306.5h.8M476.7 302.0h.8M476.0 302.5h.8M477.8 303.8h.8M467.5 308.9h.8M474.9 303.6h.8M469.2 301.0h.8M473.9 305.2h.8M483.2 299.4h.8M480.1 307.2h.8M477.6 306.2h.8M480.6 301.7h.8M484.0 301.9h.8M480.8 302.9h.8M477.9 304.5h.8M485.6 299.3h.8M473.4 305.0h.8M483.9 302.9h.8M478.1 305.3h.8M486.9 300.9h.8M471.0 304.5h.8M482.8 300.5h.8M484.6 305.3h.8M482.9 301.6h.8M472.5 306.4h.8M480.3 305.3h.8M472.3 298.4h.8M484.6 305.4h.8M477.6 304.2h.8M481.3 305.3h.8M478.1 303.0h.8M474.1 307.0h.8M479.5 296.4h.8M480.7 302.5h.8M472.6 303.8h.8M472.6 303.9h.8M476.3 305.5h.8M473.9 300.7h.8M476.0 301.4h.8M482.7 303.0h.8M470.7 303.3h.8M478.9 303.9h.8M469.8 305.0h.8M480.5 306.0h.8M484.5 302.9h.8M472.5 304.1h.8M482.2 301.5h.8M485.3 301.0h.8M473.4 306.6h.8M478.5 304.8h.8M477.5 304.3h.8M476.1 308.6h.8M482.3 303.2h.8M481.4 305.5h.8M476.4 304.8h.8M480.0 302.6h.8M475.1 304.1h.8M477.5 303.3h.8M469.3 305.6h.8M482.3 303.7h.8M487.5 304.7h.8M477.2 302.8h.8M481.5 302.8h.8M470.9 305.4h.8M477.5 303.7h.8M482.1 304.0h.8M489.1 300.9h.8M478.5 304.8h.8M476.8 303.2h.8M487.7 299.5h.8M480.7 299.9h.8M480.7 299.5h.8M473.2 307.4h.8M486.7 303.2h.8M465.4 308.2h.8M480.2 301.4h.8M477.2 301.3h.8M478.5 303.9h.8M479.6 305.7h.8M475.8 299.6h.8M473.2 302.1h.8M477.2 303.3h.8M478.8 307.1h.8M479.1 301.6h.8M477.5 302.3h.8M477.8 305.5h.8M473.4 306.4h.8M487.9 306.1h.8M487.1 303.0h.8M472.3 309.4h.8M478.7 304.5h.8M477.2 302.2h.8M482.1 300.5h.8M472.1 306.2h.8M477.1 302.4h.8M481.5 306.8h.8M477.6 303.9h.8M481.8 305.7h.8M484.1 304.8h.8M475.7 305.6h.8M479.0 300.2h.8M485.2 304.4h.8M485.8 302.9h.8M482.6 303.3h.8M479.8 305.9h.8M479.3 305.3h.8M478.8 306.7h.8M482.2 299.9h.8M487.3 303.8h.8M476.5 303.0h.8M488.9 302.8h.8M481.5 304.9h.8M476.0 308.3h.8M489.5 300.8h.8M484.7 299.6h.8M477.3 304.4h.8M479.3 305.2h.8M481.0 304.5h.8M478.3 304.8h.8M476.2 308.7h.8M479.3 306.7h.8M479.5 303.6h.8M478.1 301.3h.8M489.3 303.4h.8M479.7 302.9h.8M485.4 302.4h.8M476.7 303.1h.8M486.7 303.6h.8M478.3 302.7h.8M485.4 303.7h.8M477.4 306.2h.8M483.4 301.2h.8M484.7 305.6h.8M477.8 301.3h.8M484.4 302.5h.8M478.0 303.5h.8M477.7 306.0h.8M473.6 305.9h.8M484.8 305.5h.8M482.6 304.1h.8M478.0 303.9h.8M474.7 308.3h.8M478.4 301.9h.8M483.1 306.7h.8M480.4 303.1h.8M473.5 306.2h.8M477.8 302.7h.8M482.0 300.7h.8M482.7 298.2h.8M476.0 301.3h.8M477.8 305.9h.8M472.6 307.9h.8M475.7 303.4h.8M483.9 301.7h.8M486.2 302.5h.8M478.6 302.0h.8M484.7 303.0h.8M476.7 302.3h.8M475.9 304.2h.8M475.5 306.2h.8M478.9 302.7h.8M481.3 306.8h.8M468.8 306.3h.8M484.4 303.5h.8M483.1 300.1h.8M475.4 306.7h.8M478.6 304.2h.8M482.1 304.4h.8M481.3 302.6h.8M477.6 307.1h.8M476.6 301.2h.8M477.3 306.2h.8M487.9 303.1h.8M476.0 305.8h.8M480.5 306.4h.8M481.6 305.3h.8M481.6 304.5h.8M474.6 304.3h.8M486.9 305.8h.8M483.8 304.2h.8M478.5 304.8h.8M477.5 306.6h.8M477.6 302.6h.8M471.2 308.5h.8M475.4 302.7h.8M481.1 307.6h.8M482.4 302.8h.8M481.9 301.8h.8M477.9 304.2h.8M479.2 305.7h.8M481.7 307.7h.8M483.2 302.8h.8M480.4 302.0h.8M476.1 303.7h.8M484.1 301.8h.8M471.5 302.9h.8M473.3 304.4h.8M477.6 301.7h.8M475.3 303.6h.8M481.0 305.0h.8M485.6 302.5h.8M482.2 303.7h.8M473.8 303.4h.8M489.8 302.1h.8M487.2 304.6h.8M487.2 302.4h.8M483.7 302.7h.8M473.8 302.2h.8M481.3 300.2h.8M480.9 301.8h.8M480.9 300.8h.8M483.3 302.9h.8M471.7 301.9h.8M479.5 300.4h.8M480.8 304.8h.8M476.0 307.5h.8M486.2 303.7h.8M481.4 304.7h.8M477.9 307.0h.8M476.6 298.9h.8M479.3 304.9h.8M483.2 301.0h.8M485.9 301.2h.8M482.2 305.1h.8M480.1 306.3h.8M476.8 308.8h.8M481.6 302.7h.8M491.8 302.1h.8M471.3 308.2h.8M486.7 301.7h.8M474.4 307.1h.8M479.5 301.9h.8M476.9 304.5h.8M484.0 306.7h.8M496.6 306.5h.8M491.5 303.0h.8M499.4 301.9h.8M497.7 297.0h.8M501.9 304.8h.8M487.4 300.2h.8M497.9 295.5h.8M492.4 302.2h.8M503.5 302.8h.8M488.7 293.5h.8M496.7 298.2h.8M510.5 298.4h.8M501.0 304.3h.8M509.9 301.6h.8M502.2 308.3h.8M497.9 292.4h.8M495.9 298.7h.8M507.9 301.4h.8M507.2 300.4h.8M500.5 297.6h.8M493.1 302.2h.8M502.4 302.5h.8M497.2 298.2h.8M502.4 302.6h.8M511.8 296.3h.8M506.0 303.8h.8M498.7 300.6h.8M499.9 306.5h.8M498.8 304.1h.8M503.1 299.2h.8M504.6 303.7h.8M498.0 303.6h.8M487.2 294.5h.8M498.5 300.7h.8M491.8 306.3h.8M498.1 300.7h.8M500.0 303.2h.8M496.9 303.2h.8M495.4 293.7h.8M503.2 300.7h.8M505.4 291.7h.8M500.9 297.3h.8M499.2 298.3h.8M498.1 297.2h.8M506.2 292.7h.8M490.6 301.5h.8M511.9 296.8h.8M495.0 295.0h.8M494.3 305.3h.8M504.2 303.9h.8M502.3 301.0h.8M496.9 295.9h.8M503.9 310.6h.8M498.1 305.4h.8M496.2 300.2h.8M510.1 299.7h.8M503.9 297.6h.8M511.2 294.8h.8M503.5 299.0h.8M501.4 301.6h.8M507.9 303.7h.8M506.4 301.6h.8M494.1 305.7h.8M509.2 302.1h.8M504.9 299.0h.8M491.9 304.2h.8M496.0 308.2h.8M504.3 299.9h.8M496.7 300.5h.8M494.4 298.4h.8M509.5 298.7h.8M510.9 299.6h.8M502.7 296.1h.8M498.5 298.1h.8M492.2 308.3h.8M503.7 299.7h.8M493.9 300.2h.8M494.1 295.9h.8M499.2 309.2h.8M490.1 302.4h.8M497.1 287.6h.8M492.0 299.4h.8M500.6 296.8h.8M510.6 302.3h.8M496.6 293.0h.8M501.2 297.1h.8M506.2 295.5h.8M507.2 298.0h.8M501.4 298.8h.8M503.9 304.9h.8M497.1 296.1h.8M511.2 304.1h.8M511.3 304.1h.8M501.0 307.0h.8M496.3 298.2h.8M497.9 302.9h.8M495.3 299.3h.8M495.3 299.0h.8M506.7 304.8h.8M498.9 310.9h.8M496.1 302.0h.8M497.4 290.5h.8M493.3 305.3h.8M499.5 301.2h.8M507.5 300.1h.8M496.5 297.4h.8M494.7 302.4h.8M497.5 302.2h.8M491.5 298.2h.8M512.2 301.6h.8M499.6 305.1h.8M501.8 306.6h.8M493.4 303.3h.8M494.0 302.9h.8M495.2 301.8h.8M502.9 296.9h.8M501.6 295.4h.8M505.8 303.9h.8M499.2 303.0h.8M514.1 299.3h.8M489.3 301.5h.8M497.5 296.7h.8M505.4 304.3h.8M503.7 307.0h.8M496.5 298.2h.8M502.6 288.4h.8M484.2 301.5h.8M498.9 300.3h.8M494.6 301.0h.8M506.3 297.3h.8M503.5 299.3h.8M499.2 300.5h.8M509.0 302.3h.8M504.2 300.7h.8M487.6 304.1h.8M500.0 300.4h.8M497.2 293.4h.8M508.9 307.9h.8M509.3 292.1h.8M503.4 294.9h.8M499.1 297.8h.8M496.5 296.7h.8M497.3 303.3h.8M509.6 304.0h.8M500.1 299.4h.8M498.7 299.9h.8M496.5 299.2h.8M505.1 299.0h.8M495.4 299.5h.8M500.6 299.7h.8M498.6 303.0h.8M499.9 295.7h.8M503.5 296.9h.8M504.6 303.5h.8M503.0 301.3h.8M492.2 299.2h.8M500.9 302.8h.8M493.5 299.3h.8M491.1 300.8h.8M500.6 300.5h.8M509.8 303.2h.8M499.0 297.5h.8M497.5 303.4h.8M505.5 297.8h.8M499.4 298.1h.8M504.1 300.8h.8M495.9 296.2h.8M507.7 294.0h.8M489.5 286.8h.8M512.0 297.7h.8M505.1 302.4h.8M505.0 304.9h.8M497.4 299.9h.8M505.9 302.4h.8M495.7 296.8h.8M491.6 301.1h.8M497.0 293.3h.8M496.8 301.4h.8M501.2 299.1h.8M501.1 302.8h.8M493.1 296.5h.8M505.8 303.2h.8M491.9 296.9h.8M508.6 303.2h.8M499.3 304.4h.8M508.2 306.1h.8M491.9 294.4h.8M497.1 299.8h.8M498.0 301.1h.8M508.8 304.7h.8M506.0 300.0h.8M509.9 302.0h.8M501.5 299.9h.8M489.3 309.3h.8M500.0 303.9h.8M513.5 299.2h.8M493.2 304.4h.8M504.3 294.3h.8M507.8 297.0h.8M498.4 289.8h.8M498.2 298.1h.8M498.0 299.8h.8M513.9 297.9h.8M504.2 296.8h.8M507.3 297.1h.8M508.2 301.1h.8M507.3 294.3h.8M506.4 296.3h.8M504.6 299.8h.8M499.8 297.6h.8M510.3 294.6h.8M502.1 299.1h.8M502.0 299.9h.8M498.1 292.7h.8M505.0 296.6h.8M504.6 299.8h.8M508.3 296.0h.8M501.2 291.5h.8M498.3 297.7h.8M504.2 292.8h.8M507.0 296.9h.8M508.5 296.0h.8M507.9 293.8h.8M493.9 294.7h.8M506.5 298.2h.8M493.8 297.4h.8M506.4 301.8h.8M506.9 298.5h.8M495.3 298.1h.8M493.4 296.2h.8M501.3 294.2h.8M498.1 296.6h.8M506.0 295.2h.8M504.6 299.0h.8M503.0 302.5h.8M501.5 294.9h.8M493.7 300.1h.8M506.4 296.5h.8M504.6 296.6h.8M507.4 297.0h.8M504.2 296.8h.8M498.7 290.7h.8M505.8 293.5h.8M505.1 298.8h.8M512.4 294.9h.8M503.8 299.7h.8M499.8 295.3h.8M505.3 302.9h.8M508.4 299.7h.8M498.3 298.9h.8M508.7 293.4h.8M503.1 296.5h.8M506.3 292.1h.8M506.6 297.0h.8M501.8 291.0h.8M492.8 295.5h.8M506.3 298.2h.8M506.8 292.2h.8M504.1 300.8h.8M495.4 298.9h.8M499.5 298.6h.8M503.6 292.4h.8M497.9 300.6h.8M502.5 300.5h.8M504.8 299.5h.8M501.1 297.6h.8M501.2 299.6h.8M500.2 300.2h.8M510.9 293.6h.8M502.2 298.5h.8M511.9 300.3h.8M503.5 292.1h.8M507.2 295.3h.8M504.0 298.2h.8M496.1 300.0h.8M507.6 298.6h.8M506.0 298.0h.8M496.2 295.6h.8M507.1 296.1h.8M503.2 298.1h.8M503.5 297.7h.8M505.5 297.0h.8M497.6 296.2h.8M507.8 295.1h.8M505.4 297.9h.8M498.7 289.0h.8M503.0 294.8h.8M500.0 299.7h.8M499.3 298.0h.8M503.7 297.6h.8M512.9 291.4h.8M507.8 296.6h.8M501.7 295.1h.8M503.3 297.1h.8M498.5 301.6h.8M499.4 296.6h.8M496.8 297.4h.8" stroke="#111" stroke-width="0.8" fill="none"/>
<line x1="489.30" y1="270.30" x2="489.30" y2="313.00" stroke="#808080" stroke-width="0.75" />
<line x1="449.80" y1="301.50" x2="515.20" y2="301.50" stroke="#808080" stroke-width="0.75" />
<text x="451.60" y="270.00" font-size="4.6" text-anchor="start" fill="#6a6a6a" >201 30503-HUT DMSO</text>
<text x="482.70" y="322.30" font-size="4.6" text-anchor="middle" fill="#6a6a6a" >ANEXINA APC-A</text>
<text transform="translate(440.00,291.15) rotate(-90)" font-size="3.8" text-anchor="middle" fill="#444" >7AAD PE-A</text>
<line x1="448.20" y1="312.00" x2="449.80" y2="312.00" stroke="#333" stroke-width="0.7" />
<text x="446.40" y="313.20" font-size="3.0" text-anchor="end" fill="#555" >10</text>
<line x1="448.20" y1="304.26" x2="449.80" y2="304.26" stroke="#333" stroke-width="0.7" />
<text x="446.40" y="305.46" font-size="3.0" text-anchor="end" fill="#555" >10</text>
<line x1="448.20" y1="296.52" x2="449.80" y2="296.52" stroke="#333" stroke-width="0.7" />
<text x="446.40" y="297.72" font-size="3.0" text-anchor="end" fill="#555" >10</text>
<line x1="448.20" y1="288.78" x2="449.80" y2="288.78" stroke="#333" stroke-width="0.7" />
<text x="446.40" y="289.98" font-size="3.0" text-anchor="end" fill="#555" >10</text>
<line x1="448.20" y1="281.04" x2="449.80" y2="281.04" stroke="#333" stroke-width="0.7" />
<text x="446.40" y="282.24" font-size="3.0" text-anchor="end" fill="#555" >10</text>
<line x1="448.20" y1="273.30" x2="449.80" y2="273.30" stroke="#333" stroke-width="0.7" />
<text x="446.40" y="274.50" font-size="3.0" text-anchor="end" fill="#555" >10</text>
<line x1="451.80" y1="313.00" x2="451.80" y2="314.60" stroke="#333" stroke-width="0.7" />
<text x="451.80" y="317.40" font-size="3.2" text-anchor="middle" fill="#555" >10</text>
<line x1="466.90" y1="313.00" x2="466.90" y2="314.60" stroke="#333" stroke-width="0.7" />
<text x="466.90" y="317.40" font-size="3.2" text-anchor="middle" fill="#555" >10</text>
<line x1="482.00" y1="313.00" x2="482.00" y2="314.60" stroke="#333" stroke-width="0.7" />
<text x="482.00" y="317.40" font-size="3.2" text-anchor="middle" fill="#555" >10</text>
<line x1="497.10" y1="313.00" x2="497.10" y2="314.60" stroke="#333" stroke-width="0.7" />
<text x="497.10" y="317.40" font-size="3.2" text-anchor="middle" fill="#555" >10</text>
<line x1="512.20" y1="313.00" x2="512.20" y2="314.60" stroke="#333" stroke-width="0.7" />
<text x="512.20" y="317.40" font-size="3.2" text-anchor="middle" fill="#555" >10</text>
<text x="494.30" y="306.30" font-size="3.8" text-anchor="start" fill="#333" >Q4</text>
<text x="478.30" y="295.00" font-size="3.8" text-anchor="start" fill="#333" >Q1</text>
<text transform="translate(432.80,292.50) rotate(-90) scale(0.9,1)" font-size="11.1" text-anchor="middle" font-weight="bold" fill="#000" >DMSO</text>
<rect x="433.30" y="324.30" width="83.30" height="60.10" fill="#fff" stroke="#8c8c8c" stroke-width="1"/>
<rect x="449.80" y="330.50" width="65.40" height="42.70" fill="none" stroke="#7a7a7a" stroke-width="0.8"/>
<line x1="449.80" y1="330.50" x2="449.80" y2="373.20" stroke="#333" stroke-width="1.0" />
<line x1="449.80" y1="373.20" x2="515.20" y2="373.20" stroke="#333" stroke-width="1.0" />
<polygon points="455,370 487,370 488,364 480,362 458,363" fill="#111" filter="url(#bl2)"/>
<path d="M492.9 368.1h.8M502.7 360.7h.8M512.6 362.5h.8M511.8 371.1h.8M480.9 357.9h.8M495.8 369.8h.8M493.5 368.2h.8M496.6 367.2h.8M508.1 361.6h.8M464.9 362.4h.8M474.7 357.4h.8M484.6 366.4h.8M458.1 355.9h.8M499.8 358.8h.8M481.0 369.4h.8M504.9 364.7h.8M495.7 350.2h.8M496.0 364.8h.8M465.3 363.9h.8M494.4 362.5h.8M499.7 367.2h.8M488.0 361.8h.8M468.6 368.4h.8M478.2 364.5h.8M511.4 366.7h.8M467.2 362.6h.8M476.0 355.3h.8M474.6 365.8h.8M492.6 362.0h.8M490.0 357.5h.8M475.1 362.2h.8M499.7 361.5h.8M484.6 364.6h.8M510.4 357.1h.8M495.6 363.9h.8M486.1 364.2h.8M455.9 363.1h.8M483.5 357.2h.8M500.5 362.4h.8M481.8 366.6h.8M472.7 359.6h.8M500.2 367.1h.8M464.3 356.0h.8M468.3 363.5h.8M483.4 359.8h.8M471.3 359.7h.8M481.4 368.6h.8M497.0 369.5h.8M500.1 366.6h.8M505.7 365.1h.8M511.5 368.3h.8M482.8 365.5h.8M481.2 359.7h.8M494.0 357.7h.8M484.7 369.6h.8M489.1 366.9h.8M497.3 364.8h.8M488.8 365.9h.8M471.9 365.7h.8M470.2 359.5h.8M477.9 356.7h.8M456.1 364.8h.8M495.1 366.1h.8M498.9 359.5h.8M498.3 357.6h.8M480.7 366.5h.8M452.5 369.3h.8M472.1 363.9h.8M502.6 363.7h.8M501.9 360.6h.8M496.5 352.8h.8M511.0 359.9h.8M473.5 363.1h.8M513.9 359.7h.8M486.8 361.3h.8M472.4 356.9h.8M496.4 366.3h.8M475.3 364.1h.8M494.2 364.8h.8M484.5 363.2h.8M491.5 358.0h.8M484.8 366.7h.8M478.3 369.2h.8M483.3 357.8h.8M482.4 356.6h.8M496.7 355.5h.8M487.3 361.9h.8M482.3 365.0h.8M491.6 360.4h.8M500.0 360.9h.8M501.2 369.3h.8M493.0 367.4h.8M466.0 365.7h.8M463.5 362.2h.8M498.1 350.4h.8M474.8 359.4h.8M472.2 363.1h.8M497.1 357.6h.8M477.2 354.3h.8M475.9 353.2h.8M463.3 365.2h.8M500.9 359.2h.8M492.6 359.3h.8M503.9 371.2h.8M476.9 360.8h.8M511.7 370.4h.8M486.8 366.0h.8M461.9 361.6h.8M482.5 362.3h.8M491.7 355.6h.8M459.7 363.3h.8M498.5 365.3h.8M487.9 355.4h.8M479.6 355.7h.8M498.5 364.0h.8M480.9 368.6h.8M500.9 366.0h.8M496.2 366.5h.8M482.6 365.0h.8M488.3 361.8h.8M455.0 369.8h.8M480.2 368.7h.8M470.9 362.1h.8M503.2 362.7h.8M492.5 357.3h.8M468.9 370.9h.8M489.5 362.6h.8M465.2 358.1h.8M470.7 362.8h.8M485.2 360.1h.8M476.4 363.5h.8M505.5 356.4h.8M464.6 368.3h.8M464.5 361.1h.8M488.9 371.6h.8M454.8 349.3h.8M485.7 368.1h.8M489.3 359.2h.8M490.0 353.3h.8M500.0 370.0h.8M483.8 366.9h.8" stroke="#666" stroke-width="0.8" fill="none"/>
<path d="M459.6 369.9h.8M463.3 365.4h.8M462.2 363.5h.8M475.0 371.0h.8M456.3 366.6h.8M473.0 365.9h.8M455.1 367.7h.8M477.9 367.2h.8M459.5 366.4h.8M451.9 366.9h.8M479.8 369.2h.8M468.2 367.9h.8M464.4 367.3h.8M463.7 367.3h.8M464.4 367.4h.8M475.2 367.0h.8M457.5 368.0h.8M466.8 366.0h.8M474.0 365.3h.8M477.3 368.1h.8M462.9 365.6h.8M467.9 365.2h.8M477.4 362.5h.8M470.3 366.3h.8M459.3 368.3h.8M464.7 367.9h.8M465.1 366.4h.8M473.6 368.9h.8M477.9 367.0h.8M482.1 366.3h.8M456.9 363.3h.8M456.2 365.3h.8M453.2 367.7h.8M469.3 366.9h.8M471.1 366.8h.8M466.8 366.4h.8M469.4 364.8h.8M480.3 370.1h.8M469.3 371.5h.8M460.4 368.8h.8M454.7 368.2h.8M462.4 369.0h.8M470.0 368.9h.8M474.4 368.0h.8M466.6 370.2h.8M472.2 368.0h.8M481.7 366.5h.8M484.5 369.2h.8M469.7 364.1h.8M479.8 366.4h.8M469.9 367.2h.8M477.5 368.3h.8M452.9 365.7h.8M472.1 367.3h.8M476.1 368.1h.8M483.4 365.6h.8M480.6 367.8h.8M471.7 368.4h.8M466.1 368.4h.8M467.2 368.4h.8M462.3 369.3h.8M455.6 365.7h.8M468.6 367.5h.8M462.0 366.2h.8M471.3 369.1h.8M480.5 366.1h.8M468.4 366.4h.8M455.6 366.1h.8M479.0 364.3h.8M494.3 368.9h.8M484.4 367.4h.8M483.1 365.9h.8M480.3 368.5h.8M476.0 368.5h.8M474.2 368.3h.8M479.6 367.8h.8M474.6 367.9h.8M470.3 365.3h.8M453.2 365.0h.8M458.1 364.1h.8M475.2 366.4h.8M475.9 366.1h.8M472.4 366.6h.8M471.6 371.1h.8M483.2 369.5h.8M471.6 370.5h.8M476.4 368.8h.8M458.7 365.8h.8M470.6 366.6h.8M464.5 363.0h.8M462.5 366.8h.8M471.8 364.9h.8M467.9 370.6h.8M470.5 363.1h.8M467.4 367.0h.8M480.3 367.4h.8M481.2 367.7h.8M479.4 369.7h.8M482.7 367.4h.8M458.3 367.4h.8M473.3 365.6h.8M476.4 366.7h.8M476.1 367.4h.8M460.8 369.1h.8M486.8 368.8h.8M471.6 363.6h.8M471.9 366.9h.8M462.1 363.2h.8M473.0 368.9h.8M475.4 371.6h.8M452.3 367.7h.8M468.8 369.8h.8M468.8 365.1h.8M468.6 367.9h.8M462.6 365.4h.8M471.4 368.8h.8M467.0 368.0h.8M464.6 366.3h.8M470.8 368.9h.8M483.1 366.8h.8M473.1 370.9h.8M476.5 366.3h.8M472.7 364.2h.8M462.8 364.3h.8M478.2 366.1h.8M469.9 367.2h.8M467.3 364.7h.8M486.2 363.1h.8M468.8 368.4h.8M467.3 366.8h.8M471.8 367.5h.8M466.2 369.2h.8M473.6 370.0h.8M469.9 363.0h.8M454.6 366.0h.8M473.1 363.8h.8M464.2 369.5h.8M472.1 365.6h.8M468.2 367.2h.8M465.4 366.4h.8M463.5 367.5h.8M483.1 369.9h.8M458.2 371.6h.8M468.1 364.2h.8M456.0 367.3h.8M471.2 365.7h.8M462.1 366.6h.8M471.4 368.4h.8M474.0 362.3h.8M463.9 367.5h.8M472.4 368.6h.8M456.1 370.1h.8M458.7 366.6h.8M465.1 366.1h.8M462.3 368.6h.8M476.1 367.7h.8M458.0 365.8h.8M468.6 367.8h.8M464.3 366.5h.8M492.2 367.1h.8M466.5 362.1h.8M462.6 370.3h.8M476.6 364.6h.8M476.0 367.4h.8M462.2 368.6h.8M463.8 366.4h.8M469.3 367.4h.8M465.3 367.6h.8M469.2 367.4h.8M472.6 365.7h.8M457.2 366.9h.8M479.9 367.7h.8M471.1 365.5h.8M459.2 364.5h.8M461.1 366.3h.8M455.7 366.8h.8M455.4 368.3h.8M468.9 363.5h.8M464.4 367.5h.8M472.5 368.6h.8M466.1 366.7h.8M467.1 368.1h.8M463.1 366.7h.8M470.4 366.3h.8M459.7 369.7h.8M473.5 365.2h.8M486.3 365.5h.8M461.6 366.3h.8M473.8 370.0h.8M481.1 368.1h.8M469.7 368.3h.8M462.3 365.6h.8M473.8 367.4h.8M471.2 365.0h.8M471.3 364.1h.8M477.2 367.0h.8M463.6 366.1h.8M463.1 369.7h.8M469.3 367.5h.8M460.8 364.4h.8M471.2 366.1h.8M473.6 369.1h.8M468.2 368.1h.8M470.7 367.5h.8M464.7 367.5h.8M473.0 367.2h.8M465.2 364.1h.8M459.9 370.1h.8M478.0 367.6h.8M471.7 366.7h.8M475.1 368.9h.8M467.0 367.6h.8M477.5 363.9h.8M461.0 365.9h.8M459.1 366.1h.8M461.8 366.2h.8M473.3 364.7h.8M470.0 369.8h.8M470.8 364.6h.8M463.9 369.3h.8M466.9 365.8h.8M476.0 365.6h.8M459.5 368.2h.8M469.3 365.7h.8M473.2 369.2h.8M478.6 367.2h.8M473.2 368.0h.8M456.3 370.3h.8M463.4 365.9h.8M462.0 365.1h.8M478.7 367.0h.8M464.2 363.4h.8M470.6 366.9h.8M460.2 366.8h.8M453.3 368.3h.8M458.6 368.0h.8M470.0 362.8h.8M459.5 365.7h.8M476.0 368.2h.8M474.6 370.4h.8M466.7 366.0h.8M452.9 365.0h.8M474.1 365.3h.8M461.6 368.9h.8M480.4 363.4h.8M473.3 367.0h.8M477.0 366.3h.8M468.1 369.8h.8M464.0 367.9h.8M474.7 366.8h.8M476.8 368.1h.8M476.4 363.6h.8M460.2 367.6h.8M479.3 369.9h.8M469.3 365.5h.8M459.7 363.1h.8M464.9 368.2h.8M468.6 364.1h.8M468.3 367.1h.8M462.7 369.9h.8M473.0 369.2h.8M470.1 365.1h.8M478.5 369.2h.8M464.1 364.4h.8M476.2 365.9h.8M459.1 366.9h.8M474.0 365.5h.8M469.5 369.0h.8M475.7 363.9h.8M475.4 370.6h.8M477.1 366.8h.8M472.4 363.9h.8M464.1 366.0h.8M487.1 367.0h.8M460.8 370.4h.8M479.8 363.7h.8M467.5 363.6h.8M478.2 362.5h.8M485.2 364.9h.8M460.2 371.3h.8M473.8 367.7h.8M476.6 365.0h.8M476.7 366.5h.8M473.7 367.5h.8M481.1 364.4h.8M457.2 368.3h.8M489.6 368.1h.8M467.8 368.4h.8M458.8 367.2h.8M454.7 367.3h.8M475.4 370.4h.8M464.9 368.9h.8M480.8 364.9h.8M466.8 363.3h.8M461.6 367.9h.8M451.7 366.4h.8M475.4 369.9h.8M463.9 362.4h.8M460.4 368.2h.8M469.0 368.4h.8M466.6 368.3h.8M460.8 365.1h.8M467.8 363.5h.8M479.8 366.5h.8M460.7 365.3h.8M460.9 367.3h.8M466.0 368.8h.8M459.3 366.9h.8M456.2 366.1h.8M480.9 366.8h.8M476.8 366.9h.8M459.8 365.3h.8M459.5 367.7h.8M483.5 368.7h.8M460.8 367.3h.8M461.4 371.8h.8M463.0 369.4h.8M457.6 368.6h.8M458.6 366.1h.8M470.6 367.3h.8M468.7 366.9h.8M461.8 366.8h.8M468.6 365.1h.8M474.0 367.4h.8M462.7 369.6h.8M464.2 363.2h.8M480.0 366.3h.8M481.8 367.9h.8M461.5 369.3h.8M473.1 368.9h.8M469.5 370.2h.8M477.1 366.3h.8M456.2 366.9h.8M469.7 365.0h.8M467.5 370.0h.8M465.1 369.3h.8M461.1 365.1h.8M477.2 366.7h.8M471.0 369.1h.8M483.2 364.5h.8M474.2 367.5h.8M470.4 370.6h.8M467.1 365.8h.8M473.5 362.9h.8M472.3 365.2h.8M471.9 365.5h.8M473.5 366.5h.8M463.0 368.1h.8M475.6 363.8h.8M458.0 366.5h.8M465.9 369.7h.8M482.8 368.0h.8M478.6 366.4h.8M457.4 367.6h.8M454.0 370.3h.8M471.3 369.4h.8M463.6 363.8h.8M467.4 368.0h.8M467.3 366.0h.8M469.8 366.6h.8M481.1 364.4h.8M471.4 363.9h.8M468.8 367.9h.8M472.0 367.6h.8M462.6 364.1h.8M477.3 366.3h.8M457.3 370.2h.8M475.5 361.3h.8M491.4 367.3h.8M455.2 369.0h.8M471.9 369.5h.8M469.2 363.6h.8M467.7 366.1h.8M471.6 366.6h.8M473.9 364.5h.8M464.4 366.0h.8M472.7 363.6h.8M469.1 371.8h.8M453.6 369.1h.8M470.0 369.0h.8M469.6 367.5h.8M472.3 367.9h.8M458.7 366.7h.8M484.8 369.9h.8M461.8 365.1h.8M467.6 369.2h.8M477.0 365.8h.8M454.8 369.4h.8M481.9 368.4h.8M474.2 368.2h.8M485.0 369.2h.8M481.5 364.7h.8M464.6 367.0h.8M468.9 366.9h.8M490.9 366.6h.8M467.4 366.8h.8M466.1 364.1h.8M478.7 367.1h.8M472.2 367.1h.8M462.4 363.8h.8M466.6 368.1h.8M468.0 368.5h.8M462.3 366.4h.8M470.4 366.8h.8M470.6 369.9h.8M465.5 367.3h.8M463.5 368.1h.8M471.0 365.5h.8M460.4 364.6h.8M466.6 367.3h.8M464.8 366.8h.8M470.2 371.8h.8M479.2 371.7h.8M470.2 367.4h.8M485.9 367.8h.8M474.7 366.0h.8M464.4 368.6h.8M463.9 365.7h.8M456.2 367.6h.8M468.2 368.1h.8M461.6 364.5h.8M478.6 367.1h.8M475.9 364.7h.8M457.9 361.9h.8M471.6 369.0h.8M480.5 370.6h.8M453.3 364.8h.8M464.5 365.4h.8M467.2 365.4h.8M456.4 366.9h.8M470.1 365.4h.8M469.3 364.4h.8M466.2 366.3h.8M465.1 366.8h.8M458.1 364.3h.8M461.9 368.5h.8M460.8 365.1h.8M486.2 366.5h.8M465.7 365.2h.8M481.7 368.1h.8M471.3 370.2h.8M458.7 363.6h.8M478.6 367.9h.8M464.6 368.6h.8M468.2 371.0h.8M458.1 367.7h.8M477.5 368.8h.8M465.9 366.2h.8M465.3 368.4h.8M465.5 366.7h.8M477.9 366.8h.8M471.1 366.8h.8M469.1 362.5h.8M460.9 367.7h.8M463.5 365.8h.8M469.5 371.6h.8M462.4 365.1h.8M453.5 367.9h.8M468.5 365.3h.8M465.5 369.0h.8M477.8 367.7h.8M479.0 369.1h.8M465.0 368.6h.8M470.4 368.6h.8M471.4 371.3h.8M458.1 367.7h.8M459.6 371.7h.8M464.5 366.3h.8M468.8 366.9h.8M483.8 366.9h.8M471.2 369.2h.8M482.1 365.1h.8M471.6 364.3h.8M473.3 369.9h.8M464.5 366.4h.8M479.3 367.9h.8M476.0 366.1h.8M466.3 366.2h.8M482.6 364.0h.8M464.5 370.2h.8M468.4 364.8h.8M471.0 366.6h.8M467.9 368.0h.8M475.8 364.0h.8M470.7 370.1h.8M457.4 366.8h.8M458.9 368.4h.8M461.7 366.3h.8M465.4 367.9h.8M457.7 364.1h.8M470.6 369.8h.8M464.6 367.8h.8M471.3 367.2h.8M468.8 365.9h.8M466.9 369.5h.8M472.8 369.6h.8M462.7 367.2h.8M463.4 364.3h.8M476.8 366.4h.8M471.1 364.1h.8M466.8 366.8h.8M465.6 369.1h.8M472.9 367.3h.8M471.0 366.1h.8M462.8 366.4h.8M460.1 366.7h.8M468.0 369.3h.8M465.2 372.0h.8M464.5 367.3h.8M468.7 365.7h.8M468.4 363.4h.8M478.6 365.8h.8M468.7 363.3h.8M473.9 364.4h.8M480.7 364.9h.8M462.6 368.4h.8M480.0 362.9h.8M454.4 370.3h.8M472.8 363.9h.8M465.2 368.4h.8M465.6 370.1h.8M462.8 367.3h.8M478.9 370.0h.8M471.0 368.2h.8M466.0 366.9h.8M464.0 367.8h.8M476.2 364.9h.8M458.9 367.1h.8M486.2 367.5h.8M470.1 366.9h.8M454.5 365.5h.8M482.0 362.7h.8M484.4 364.5h.8M481.9 366.7h.8M474.0 365.9h.8M465.1 367.4h.8M466.2 364.8h.8M466.5 368.3h.8M462.3 367.7h.8M457.3 367.2h.8M459.0 368.6h.8M459.9 368.3h.8M451.8 367.4h.8M478.4 365.3h.8M469.4 365.2h.8M473.1 368.6h.8M478.8 369.7h.8M480.2 365.5h.8M469.9 368.1h.8M470.6 364.3h.8M486.4 372.3h.8M469.4 361.6h.8M484.7 366.6h.8M488.5 364.8h.8M473.5 368.6h.8M456.5 366.3h.8M473.2 368.4h.8M472.3 361.6h.8M482.7 363.8h.8M472.3 368.9h.8M460.5 363.7h.8M471.2 366.1h.8M468.1 366.6h.8M467.9 367.6h.8M464.3 366.9h.8M464.0 365.2h.8M471.9 365.3h.8M473.5 366.9h.8M478.2 368.2h.8M451.6 366.9h.8M474.6 367.2h.8M469.3 369.2h.8M474.7 364.2h.8M469.7 369.1h.8M470.2 364.3h.8M475.6 368.2h.8M478.8 367.4h.8M469.9 368.8h.8M459.4 370.6h.8M472.4 367.5h.8M475.4 368.6h.8M468.0 365.4h.8M476.7 368.9h.8M472.2 365.7h.8M469.8 365.0h.8M490.7 365.6h.8M476.5 370.4h.8M461.5 365.9h.8M457.5 367.3h.8M467.0 367.0h.8M469.2 366.0h.8M469.9 366.9h.8M462.7 366.3h.8M464.0 364.3h.8M468.7 363.1h.8M473.5 366.9h.8M470.3 369.4h.8M477.1 366.1h.8M471.9 369.5h.8M467.5 367.8h.8M472.5 364.8h.8M471.3 366.2h.8M466.6 367.9h.8M474.5 365.1h.8M466.7 366.6h.8M460.7 367.8h.8M467.1 365.5h.8M477.0 366.8h.8M458.9 366.8h.8M467.3 367.6h.8M488.3 368.1h.8M481.3 366.6h.8M472.9 368.0h.8M468.0 367.5h.8M465.0 368.4h.8M461.1 370.6h.8M467.8 367.8h.8M470.1 363.6h.8M472.6 365.2h.8M470.6 366.1h.8M466.6 363.8h.8M457.6 365.8h.8M459.7 367.5h.8M456.8 367.4h.8M473.6 365.4h.8M460.6 366.3h.8M475.7 369.9h.8M487.5 367.2h.8M474.2 367.4h.8M468.7 364.8h.8M465.8 369.3h.8M480.8 365.7h.8M454.9 370.9h.8M469.1 367.9h.8M467.4 363.2h.8M471.6 365.0h.8M466.4 365.7h.8M466.6 372.0h.8M481.9 362.9h.8M455.6 365.9h.8M463.1 368.6h.8M482.4 365.5h.8M473.8 366.6h.8M451.8 369.4h.8M483.9 365.3h.8M474.3 365.9h.8M468.0 366.0h.8M467.7 367.1h.8M463.6 367.6h.8M457.7 368.7h.8M460.6 363.1h.8M476.0 366.3h.8M464.3 368.9h.8M468.6 371.0h.8M472.5 364.0h.8M464.5 365.6h.8M466.4 370.5h.8M492.3 370.6h.8M472.8 368.1h.8M470.3 362.4h.8M480.9 371.1h.8M464.4 366.9h.8M462.7 366.6h.8M461.4 364.6h.8M479.3 362.9h.8M477.8 364.6h.8M466.7 362.8h.8M474.5 364.9h.8M490.4 365.0h.8M471.0 368.4h.8M460.5 365.3h.8M459.7 368.2h.8M471.4 369.1h.8M456.5 365.1h.8M467.9 366.1h.8M471.6 369.3h.8M470.0 365.3h.8M468.5 365.5h.8M463.2 370.9h.8M474.7 370.8h.8M467.1 366.9h.8M458.0 367.5h.8M475.2 368.4h.8M458.8 367.2h.8M476.8 366.0h.8M475.0 365.9h.8M468.8 365.8h.8M456.1 365.3h.8M470.4 366.4h.8M468.8 365.8h.8M476.5 366.6h.8M472.3 366.0h.8M480.1 366.8h.8M472.6 371.6h.8M472.6 363.7h.8M463.1 367.7h.8M457.5 363.9h.8M467.9 363.7h.8M478.3 367.9h.8M466.2 369.5h.8M463.0 364.5h.8M476.7 367.0h.8M466.9 369.1h.8M467.7 368.3h.8M470.8 369.4h.8M473.6 366.0h.8M481.9 366.2h.8M483.9 364.3h.8M469.4 362.3h.8M473.4 369.8h.8M465.5 368.0h.8M467.0 370.0h.8M471.8 367.7h.8M478.4 363.8h.8M474.9 367.3h.8M480.1 367.1h.8M474.1 366.9h.8M460.4 365.9h.8M467.4 364.2h.8M468.5 366.0h.8M484.6 366.5h.8M470.0 367.2h.8M474.9 363.6h.8M453.9 370.3h.8M461.7 365.1h.8M479.0 367.6h.8M462.0 368.5h.8M459.2 370.4h.8M466.2 367.7h.8M468.9 371.0h.8M460.7 366.8h.8M487.4 362.7h.8M464.7 367.6h.8M467.1 367.9h.8M478.9 364.6h.8M463.3 369.7h.8M485.8 361.4h.8M473.6 369.1h.8M463.1 365.2h.8M459.2 366.6h.8M459.1 368.5h.8M463.0 368.1h.8M455.5 368.8h.8M474.7 369.0h.8M471.3 371.8h.8M477.3 367.1h.8M482.8 366.3h.8M470.3 370.4h.8M465.0 367.0h.8M471.1 367.4h.8M467.0 369.1h.8M487.6 366.2h.8M456.3 366.0h.8M457.0 364.4h.8M460.1 369.2h.8M470.3 368.5h.8M468.0 369.1h.8M465.5 369.7h.8M476.6 367.5h.8M456.3 364.7h.8M471.2 364.8h.8M467.5 366.7h.8M480.9 365.6h.8M470.1 366.0h.8M462.5 367.9h.8M477.3 364.0h.8M481.9 371.6h.8M470.3 368.1h.8M460.0 366.2h.8M471.7 366.8h.8M480.9 365.2h.8M466.9 368.1h.8M468.4 366.5h.8M468.0 367.8h.8M452.4 372.4h.8M475.4 364.8h.8M461.2 364.7h.8M472.8 363.1h.8M490.1 365.9h.8M456.9 371.3h.8M469.0 368.0h.8M467.4 366.5h.8M486.7 362.9h.8M471.2 365.5h.8M466.1 366.9h.8M453.2 368.3h.8M470.8 368.2h.8M463.9 368.5h.8M465.0 368.6h.8M480.6 368.3h.8M456.6 367.2h.8M460.1 371.0h.8M470.7 364.4h.8M455.9 369.7h.8M460.4 367.9h.8M466.2 366.7h.8M465.2 367.0h.8M482.9 365.2h.8M473.5 368.0h.8M463.3 364.7h.8M461.4 368.2h.8M470.4 369.1h.8M472.2 367.2h.8M469.2 367.5h.8M469.4 368.4h.8M461.6 369.2h.8M483.0 366.8h.8M473.9 364.6h.8M469.9 364.0h.8M477.6 367.1h.8M478.3 369.3h.8M462.7 368.7h.8M482.4 371.6h.8M468.1 368.1h.8M463.6 368.3h.8M474.2 370.0h.8M467.8 367.1h.8M473.3 366.7h.8M486.9 362.4h.8M454.3 366.0h.8M475.0 367.0h.8M472.7 363.9h.8M474.2 368.1h.8M483.2 368.7h.8M463.7 365.5h.8M459.3 366.0h.8M468.2 369.6h.8M483.3 367.2h.8M474.2 366.7h.8M457.9 368.1h.8M462.8 363.7h.8M461.8 370.1h.8M459.1 369.8h.8M457.3 366.9h.8M473.4 366.2h.8M460.7 367.0h.8M483.5 368.4h.8M470.8 368.2h.8M479.3 369.7h.8M466.7 365.2h.8M460.6 367.1h.8M466.5 367.0h.8M463.7 372.1h.8M463.0 370.0h.8M461.6 365.4h.8M458.9 364.8h.8M454.9 365.3h.8M467.0 368.4h.8M453.6 367.9h.8M468.1 367.0h.8M474.8 369.4h.8M466.5 369.6h.8M469.7 365.1h.8M473.6 369.0h.8M471.1 366.9h.8M466.9 368.4h.8M453.4 367.6h.8M457.9 365.9h.8M470.8 369.6h.8M468.9 365.1h.8M492.6 367.7h.8M462.7 365.8h.8M478.2 371.4h.8M469.9 364.3h.8M476.6 367.2h.8M465.5 367.4h.8M459.0 367.4h.8M472.1 369.5h.8M486.5 365.7h.8M472.3 365.4h.8M470.1 369.4h.8M474.7 366.4h.8M484.7 368.8h.8M479.7 367.2h.8M480.7 366.7h.8M476.6 367.1h.8M469.0 363.8h.8M477.6 368.2h.8M463.6 367.2h.8M474.3 368.3h.8M451.0 370.1h.8M460.1 370.9h.8M479.0 367.3h.8M470.9 367.6h.8M465.5 370.1h.8M463.2 365.9h.8M467.0 363.8h.8M478.1 364.6h.8M482.3 369.0h.8M486.7 365.8h.8M466.4 366.1h.8M476.0 365.2h.8M466.2 362.3h.8M469.5 367.4h.8M486.5 365.3h.8M477.5 368.2h.8M476.8 364.7h.8M477.5 367.4h.8M481.8 371.5h.8M462.9 366.2h.8M482.5 363.6h.8M472.0 370.1h.8M475.5 366.9h.8M464.1 363.2h.8M473.7 365.8h.8M465.7 367.7h.8M451.1 366.8h.8M463.6 371.1h.8M468.0 369.4h.8M460.4 363.7h.8M476.9 366.3h.8M457.2 369.2h.8M473.6 363.4h.8M467.0 371.2h.8M470.1 364.2h.8M461.7 369.9h.8M482.4 368.5h.8M455.7 368.7h.8M461.8 366.0h.8M464.7 369.3h.8M473.6 368.2h.8M465.2 365.9h.8M478.6 365.7h.8M466.6 368.2h.8M467.5 369.1h.8M474.1 368.4h.8M489.6 365.9h.8M487.7 364.3h.8M462.1 361.8h.8M463.1 365.3h.8M475.4 369.7h.8M489.7 365.9h.8M478.6 366.6h.8M452.6 358.3h.8M465.9 362.9h.8M476.8 365.0h.8M474.9 365.6h.8M473.4 365.0h.8M472.7 370.8h.8M472.4 364.1h.8M462.1 367.3h.8M476.3 364.4h.8M461.0 363.6h.8M484.8 367.6h.8M472.0 366.1h.8M486.2 368.2h.8M468.2 369.6h.8M474.3 366.4h.8M465.8 367.0h.8M481.4 364.0h.8M454.3 368.4h.8M478.5 370.1h.8M474.2 363.8h.8M476.4 367.4h.8M460.1 363.6h.8M455.3 367.2h.8M457.6 367.8h.8M467.7 368.4h.8M476.9 365.1h.8M465.7 368.6h.8M463.3 369.2h.8M474.4 368.9h.8M463.7 368.7h.8M467.2 367.5h.8M474.7 365.8h.8M468.7 361.9h.8M462.9 368.3h.8M459.4 362.5h.8M456.3 366.4h.8M475.1 368.1h.8M456.4 367.9h.8M458.2 369.3h.8M472.6 365.7h.8M464.9 366.8h.8M463.9 369.5h.8M471.8 365.8h.8M473.1 364.1h.8M470.5 366.3h.8M464.0 366.9h.8M471.1 363.9h.8M476.1 365.7h.8M472.2 370.5h.8M459.5 370.5h.8M465.9 371.1h.8M461.8 369.2h.8M464.0 369.7h.8M477.0 367.7h.8M461.7 369.2h.8M472.4 364.7h.8M474.0 366.6h.8M468.0 364.9h.8M470.9 368.8h.8M461.7 368.7h.8M453.1 367.2h.8M471.4 365.0h.8M470.4 364.2h.8M485.5 367.8h.8M478.6 365.0h.8M480.8 366.7h.8M479.2 367.9h.8M472.0 369.3h.8M463.9 366.1h.8M478.6 368.0h.8M464.4 364.7h.8M482.0 360.1h.8M477.0 366.7h.8M457.8 367.9h.8M473.2 371.9h.8M471.6 361.6h.8M461.0 368.6h.8M464.9 366.9h.8M468.3 370.1h.8M471.9 366.7h.8M463.5 369.2h.8M463.1 367.9h.8M472.7 368.6h.8M475.8 367.6h.8M486.1 368.7h.8M462.6 365.1h.8M463.1 369.8h.8M459.6 370.4h.8M472.7 365.7h.8M460.5 366.8h.8M475.6 366.8h.8M475.2 367.4h.8M480.7 366.0h.8M467.9 364.6h.8M466.3 364.9h.8M456.1 366.5h.8M474.9 362.2h.8M458.2 364.0h.8M472.2 368.2h.8M471.8 366.6h.8M462.5 367.4h.8M461.7 366.5h.8M472.5 366.5h.8M479.3 362.3h.8M455.5 369.1h.8M464.2 366.0h.8M464.4 366.9h.8M467.7 367.8h.8M476.9 371.0h.8M451.0 366.8h.8M461.5 367.5h.8M460.5 367.1h.8M471.4 366.9h.8M471.0 368.4h.8M460.1 366.9h.8M477.9 369.0h.8M477.4 365.2h.8M463.4 369.1h.8M469.1 367.6h.8M466.1 368.9h.8M470.5 364.9h.8M472.2 366.2h.8M466.8 368.2h.8M470.3 365.8h.8M459.1 366.0h.8M467.9 364.4h.8M463.8 372.0h.8M463.6 367.1h.8M458.6 366.3h.8M471.1 367.3h.8M454.7 367.1h.8M460.8 369.3h.8M468.2 370.4h.8M472.1 364.5h.8M477.1 366.0h.8M468.1 367.2h.8M458.1 369.5h.8M470.3 364.8h.8M457.4 368.0h.8M479.3 367.9h.8M471.7 366.1h.8M478.3 368.2h.8M462.3 365.7h.8M474.9 369.7h.8M499.1 361.9h.8M487.1 366.4h.8M484.0 370.2h.8M480.3 364.0h.8M492.6 365.6h.8M488.6 364.0h.8M484.8 365.4h.8M487.0 363.2h.8M489.9 368.1h.8M482.5 363.3h.8M485.6 370.6h.8M480.5 369.0h.8M481.8 363.9h.8M490.1 363.6h.8M484.8 366.7h.8M490.3 364.5h.8M492.3 362.0h.8M482.6 367.1h.8M488.1 360.4h.8M483.6 366.9h.8M484.3 369.3h.8M477.6 367.0h.8M481.0 362.1h.8M483.9 365.1h.8M483.1 363.9h.8M489.0 361.8h.8M482.1 362.4h.8M490.5 360.5h.8M493.1 361.3h.8M484.8 368.8h.8M480.0 369.1h.8M478.9 365.2h.8M487.6 365.3h.8M486.6 365.4h.8M492.4 359.8h.8M481.8 367.7h.8M478.1 364.8h.8M496.5 365.8h.8M487.4 364.7h.8M484.2 363.1h.8M480.9 363.6h.8M479.0 366.5h.8M487.0 362.5h.8M485.6 361.8h.8M486.8 363.9h.8M484.7 365.5h.8M491.2 364.3h.8M481.9 366.0h.8M486.9 365.9h.8M490.0 362.1h.8M479.4 367.6h.8M479.7 367.1h.8M497.9 365.4h.8M478.1 364.5h.8M486.9 364.0h.8M488.3 364.9h.8M486.6 366.0h.8M477.6 369.2h.8M478.3 364.3h.8M473.6 367.3h.8M486.9 363.8h.8M479.4 361.1h.8M487.7 361.8h.8M483.3 365.9h.8M484.7 366.1h.8M492.9 365.1h.8M480.2 365.9h.8M483.9 363.3h.8M488.1 363.5h.8M486.1 366.3h.8M494.9 361.6h.8M488.4 369.3h.8M492.6 364.2h.8M481.5 366.1h.8M482.1 364.7h.8M476.8 366.0h.8M475.5 369.2h.8M487.5 363.6h.8M485.2 365.3h.8M483.8 366.0h.8M484.2 366.3h.8M481.2 366.0h.8M493.0 361.6h.8M481.2 368.0h.8M486.5 365.1h.8M485.9 363.9h.8M482.5 366.7h.8M485.9 366.4h.8M487.2 369.8h.8M485.4 368.2h.8M485.8 370.1h.8M489.7 362.4h.8M492.6 362.2h.8M489.8 362.3h.8M486.7 365.1h.8M491.8 358.7h.8M475.9 369.2h.8M488.6 363.2h.8M485.5 360.9h.8M483.2 363.9h.8M489.3 364.8h.8M484.3 367.9h.8M481.9 367.5h.8M483.9 366.4h.8M483.6 368.6h.8M483.0 370.2h.8M488.8 362.4h.8M482.9 368.6h.8M492.1 360.9h.8M485.8 366.4h.8M496.4 364.4h.8M484.1 367.4h.8M485.4 363.0h.8M484.8 364.6h.8M484.0 365.5h.8M486.8 362.9h.8M488.3 360.8h.8M488.2 365.6h.8M487.1 361.2h.8M482.7 366.1h.8M487.3 366.4h.8M477.7 366.6h.8M490.2 361.4h.8M479.2 365.2h.8M483.8 364.8h.8M491.0 364.6h.8M475.9 368.8h.8M485.5 367.0h.8M484.9 368.4h.8M485.7 363.9h.8M479.3 368.4h.8M484.4 361.2h.8M489.1 367.3h.8M475.1 368.4h.8M488.2 368.5h.8M490.9 362.2h.8M487.2 366.4h.8M478.0 369.9h.8M487.4 366.6h.8M480.8 367.9h.8M484.8 364.5h.8M485.2 365.9h.8M477.8 366.6h.8M486.8 361.0h.8M493.2 369.5h.8M488.3 364.5h.8M480.1 363.6h.8M479.2 368.4h.8M480.9 366.4h.8M482.9 367.6h.8M491.1 366.1h.8M488.2 367.0h.8M493.2 361.5h.8M486.3 363.4h.8M485.3 364.6h.8M485.6 366.7h.8M478.8 360.4h.8M486.4 367.3h.8M483.2 368.9h.8M495.9 363.2h.8M484.0 366.6h.8M488.7 361.0h.8M487.4 359.9h.8M479.9 366.7h.8M486.5 362.1h.8M485.3 368.1h.8M477.2 368.0h.8M491.1 360.8h.8M490.8 365.1h.8M483.5 365.5h.8M484.9 365.3h.8M484.1 363.7h.8M489.4 368.2h.8M484.1 368.6h.8M481.3 363.0h.8M488.1 365.1h.8M487.2 362.5h.8M483.1 367.9h.8M492.7 364.2h.8M486.9 358.7h.8M481.9 368.8h.8M494.2 361.4h.8M472.9 368.8h.8M478.8 365.5h.8M482.1 364.9h.8M480.4 367.6h.8M486.5 361.8h.8M477.5 371.5h.8M487.7 365.1h.8M476.9 371.8h.8M480.0 366.5h.8M486.6 363.2h.8M485.6 364.0h.8M475.2 364.0h.8M482.0 364.6h.8M487.1 368.6h.8M483.9 370.5h.8M482.9 365.9h.8M483.9 361.5h.8M484.7 364.8h.8M481.0 367.7h.8M486.9 364.1h.8M480.8 366.7h.8M481.1 364.0h.8M482.6 367.9h.8M483.6 365.1h.8M483.4 366.9h.8M484.2 367.3h.8M484.2 367.3h.8M483.5 363.8h.8M486.9 364.3h.8M482.8 369.0h.8M482.6 363.9h.8M483.3 368.9h.8M478.6 369.2h.8M487.4 363.8h.8M483.3 363.9h.8M475.3 365.0h.8M478.2 362.8h.8M482.8 367.0h.8M480.4 365.4h.8M481.2 365.5h.8M486.8 367.7h.8M487.7 365.5h.8M491.5 365.6h.8M487.2 366.1h.8M488.8 362.1h.8M480.6 366.3h.8M476.4 366.3h.8M483.3 366.3h.8M488.1 367.6h.8M473.6 368.0h.8M486.5 368.3h.8M481.9 366.8h.8M484.1 363.2h.8M486.0 367.3h.8M483.1 365.8h.8M490.0 363.8h.8M483.3 366.2h.8M486.9 365.8h.8M490.7 365.1h.8M479.1 362.6h.8M484.3 369.3h.8M485.0 364.2h.8M486.1 366.2h.8M490.7 361.1h.8M488.4 365.0h.8M488.7 367.0h.8M474.2 369.5h.8M487.1 363.0h.8M484.2 367.8h.8M477.6 368.8h.8M488.6 368.6h.8M480.8 364.6h.8M489.5 363.7h.8M486.7 358.8h.8M496.1 358.7h.8M476.9 368.0h.8M487.1 362.9h.8M474.2 368.7h.8M485.8 362.9h.8M485.4 363.8h.8M479.9 367.9h.8M484.7 365.4h.8M478.8 364.8h.8M483.4 364.1h.8M486.4 365.0h.8M483.7 365.1h.8M486.7 367.2h.8M479.6 368.5h.8M489.0 366.3h.8M482.1 366.3h.8M494.8 360.2h.8M488.7 363.9h.8M492.6 364.0h.8M488.8 363.0h.8M482.4 369.5h.8M478.7 365.3h.8M483.5 362.6h.8M487.7 361.8h.8M484.9 364.7h.8M474.2 367.7h.8M477.4 366.8h.8M473.6 366.2h.8M488.6 365.1h.8M490.1 368.0h.8M488.2 364.1h.8M484.2 366.8h.8M478.8 364.0h.8M484.7 369.4h.8M479.4 366.9h.8M481.4 367.6h.8M486.4 364.9h.8M489.0 363.8h.8M476.8 371.8h.8M484.2 366.1h.8M488.5 362.6h.8M482.5 364.0h.8M487.5 365.7h.8M498.9 355.1h.8M492.1 357.5h.8M488.5 360.1h.8M499.6 357.9h.8M485.6 363.6h.8M500.0 359.6h.8M503.3 353.0h.8M500.9 356.9h.8M499.8 355.7h.8M507.2 354.3h.8M493.7 356.2h.8M495.9 356.1h.8M487.8 364.4h.8M497.2 359.7h.8M505.0 356.2h.8M494.7 356.9h.8M496.5 358.4h.8M496.6 357.7h.8M498.5 355.0h.8M504.7 353.0h.8M498.4 356.0h.8M506.7 353.3h.8M491.4 359.6h.8M503.5 353.4h.8M488.9 360.3h.8M502.7 350.7h.8M503.8 359.3h.8M496.4 359.9h.8M496.7 354.9h.8M494.7 360.0h.8M490.1 360.2h.8M493.2 360.2h.8M514.2 351.5h.8M488.9 364.1h.8M495.6 357.8h.8M500.9 357.8h.8M499.1 357.8h.8M498.8 355.2h.8M502.9 357.3h.8M492.3 356.8h.8M493.6 359.7h.8M507.1 354.5h.8M475.7 365.2h.8M498.0 358.0h.8M487.4 361.1h.8M498.5 358.6h.8M503.1 358.5h.8M493.0 358.8h.8M494.6 359.8h.8M511.1 352.9h.8M498.7 355.8h.8M489.0 364.2h.8M497.0 360.5h.8M503.2 354.8h.8M499.3 355.6h.8M501.9 355.9h.8M502.9 357.9h.8M493.7 360.7h.8M500.6 355.7h.8M499.5 359.2h.8M498.7 359.1h.8M500.0 359.1h.8M496.8 357.5h.8M501.9 352.1h.8M494.2 361.8h.8M492.6 363.0h.8M508.5 352.7h.8M492.6 360.4h.8M503.8 358.4h.8M508.0 352.5h.8M503.5 354.6h.8M505.0 355.8h.8M507.4 353.8h.8M503.3 353.4h.8M491.1 361.2h.8M498.4 359.0h.8M513.3 350.6h.8M489.7 359.0h.8M493.5 361.4h.8M500.3 356.2h.8M502.3 355.7h.8M499.4 357.0h.8M488.5 362.7h.8M498.9 361.2h.8M498.4 356.4h.8M498.9 356.0h.8M497.5 357.2h.8M500.0 355.2h.8M497.0 357.3h.8M491.1 360.2h.8M502.4 357.2h.8M499.9 356.7h.8M504.2 354.7h.8M502.3 352.9h.8M489.6 359.6h.8M505.5 354.3h.8M500.9 354.6h.8M487.5 366.6h.8M509.0 356.4h.8M497.8 356.5h.8M499.5 356.6h.8M494.6 354.6h.8M499.3 353.2h.8M494.3 356.4h.8M511.4 350.2h.8M495.1 359.4h.8M495.6 359.0h.8M504.1 354.1h.8M501.3 356.1h.8M488.8 361.7h.8M490.5 362.4h.8M497.8 358.0h.8M504.6 353.6h.8M492.4 362.3h.8M502.7 356.5h.8M484.2 363.0h.8M491.3 359.1h.8M486.6 359.1h.8M494.8 359.5h.8M494.3 358.7h.8M498.4 359.8h.8M493.8 359.4h.8M503.5 353.4h.8M490.6 359.7h.8M507.6 353.0h.8M489.2 357.7h.8M499.0 359.1h.8M492.4 359.1h.8M490.2 359.3h.8M504.9 353.9h.8M490.6 361.5h.8M499.7 356.8h.8M512.1 352.6h.8M505.9 352.3h.8M497.4 360.1h.8M503.1 357.2h.8M487.6 361.1h.8M509.6 355.7h.8M476.4 362.6h.8M507.4 355.3h.8M507.2 349.1h.8M498.5 358.8h.8M506.5 352.6h.8M505.3 356.1h.8M494.3 361.8h.8M506.8 355.7h.8M494.7 359.4h.8M497.7 360.6h.8M512.0 352.9h.8M493.1 358.2h.8M508.8 354.0h.8M493.2 359.1h.8M495.2 358.4h.8M510.7 351.4h.8M495.7 353.1h.8M501.5 357.9h.8M512.5 350.8h.8M495.8 357.7h.8M489.1 361.0h.8M492.4 359.4h.8M499.0 358.5h.8M498.4 361.7h.8M500.3 357.6h.8M501.7 356.0h.8M504.8 355.2h.8M488.4 360.4h.8M508.5 350.6h.8M510.5 352.9h.8M499.8 359.1h.8M499.6 356.1h.8M482.4 362.5h.8M489.6 362.1h.8M498.7 355.6h.8M506.4 355.9h.8M513.9 351.9h.8M489.2 361.2h.8M503.4 357.0h.8M488.5 362.1h.8M502.8 356.4h.8M486.4 361.3h.8M497.1 357.5h.8M504.5 354.3h.8M484.8 358.9h.8M501.4 354.8h.8M497.7 359.6h.8M494.2 359.0h.8M487.6 359.5h.8M502.2 358.0h.8M493.3 359.1h.8M500.4 355.9h.8M498.5 356.7h.8M502.3 355.0h.8M494.6 356.5h.8M492.5 357.1h.8M497.0 359.7h.8M488.8 359.6h.8M492.5 360.5h.8M495.8 357.8h.8M491.1 359.7h.8M495.5 357.1h.8M508.1 354.5h.8M496.9 358.5h.8M494.2 359.0h.8M506.2 355.1h.8M496.0 358.5h.8M490.0 360.1h.8M495.1 358.3h.8M507.8 353.8h.8M506.4 354.3h.8M487.2 363.9h.8M494.1 358.8h.8M505.9 356.9h.8M499.2 359.3h.8M494.5 360.0h.8M491.5 361.8h.8M494.0 360.2h.8M489.4 363.4h.8M509.7 352.5h.8M498.5 355.7h.8M496.6 355.5h.8M503.2 355.4h.8M506.4 354.3h.8M496.4 356.7h.8M502.6 355.5h.8M489.4 358.3h.8M504.9 354.7h.8M497.5 356.8h.8M494.2 359.0h.8M499.4 354.9h.8M484.3 363.0h.8M506.1 353.2h.8M488.2 362.3h.8M493.6 359.2h.8M509.9 352.9h.8M507.6 352.4h.8M484.9 361.9h.8M495.2 359.8h.8M501.2 352.8h.8M490.0 359.9h.8M492.8 358.4h.8M495.6 358.7h.8M487.2 360.1h.8M491.5 362.1h.8M496.8 355.4h.8M501.5 357.8h.8M486.4 359.9h.8M501.2 356.3h.8M502.4 358.6h.8M502.8 357.4h.8M494.5 361.3h.8M493.0 360.0h.8M483.5 362.4h.8M503.6 353.7h.8M494.6 355.1h.8M495.5 356.2h.8M498.4 356.5h.8M493.1 358.8h.8M495.0 358.7h.8M496.1 360.2h.8M505.6 350.2h.8M507.6 353.4h.8M500.6 354.9h.8M502.4 356.8h.8M494.0 357.1h.8M501.7 356.8h.8M491.5 356.3h.8M490.0 361.3h.8M507.1 352.3h.8M493.9 357.2h.8M500.5 355.1h.8M510.1 353.8h.8M496.6 357.3h.8M505.3 354.0h.8M495.3 358.7h.8M505.6 357.0h.8M495.6 356.3h.8M491.5 359.7h.8M502.6 351.2h.8M502.7 356.4h.8M499.5 354.4h.8M498.8 356.3h.8M491.4 361.1h.8M507.0 354.3h.8M502.2 357.6h.8M498.3 356.6h.8M508.7 352.3h.8M496.0 358.9h.8M495.1 357.0h.8M505.9 354.4h.8M493.2 358.4h.8M502.3 357.2h.8M499.6 358.9h.8M498.1 360.2h.8M504.6 353.0h.8M497.5 358.2h.8M498.1 355.8h.8M501.5 356.0h.8M487.7 359.3h.8M495.4 360.1h.8M497.9 357.8h.8M504.9 354.4h.8M498.3 357.2h.8M504.6 353.8h.8M500.9 355.1h.8M498.8 359.0h.8M492.7 360.4h.8M498.8 357.6h.8M501.9 356.1h.8M501.7 359.1h.8M493.4 357.4h.8M503.5 356.0h.8M512.2 350.9h.8M503.3 354.5h.8M494.9 357.7h.8M492.6 358.0h.8M496.0 358.0h.8M498.6 358.6h.8M492.0 359.7h.8M492.2 361.1h.8M491.9 359.2h.8M492.8 361.3h.8M489.9 358.7h.8M495.6 357.8h.8M491.9 361.8h.8M494.5 355.3h.8M496.9 355.7h.8M493.7 358.3h.8M492.0 359.1h.8M495.5 359.5h.8M495.1 360.5h.8M510.0 354.2h.8M496.5 361.4h.8M498.9 359.2h.8M494.5 356.7h.8M507.5 352.3h.8M491.1 360.4h.8M491.9 361.0h.8M498.8 356.8h.8M494.4 361.4h.8M507.7 355.6h.8M489.3 363.7h.8M499.0 360.0h.8M501.9 354.8h.8M486.9 360.7h.8M506.5 353.4h.8M509.6 350.8h.8M502.7 355.5h.8M488.7 361.7h.8M495.5 358.0h.8M484.0 361.2h.8M493.7 358.9h.8M492.6 363.1h.8M495.4 358.8h.8M496.0 360.4h.8M502.2 357.6h.8M487.7 361.8h.8M497.2 358.9h.8M493.7 359.4h.8M491.5 359.4h.8M500.7 355.6h.8M492.4 359.4h.8M500.4 357.2h.8M490.1 359.8h.8M490.2 358.8h.8M503.0 355.1h.8M504.1 357.8h.8M506.6 355.4h.8M491.4 364.1h.8M503.4 356.9h.8M500.6 357.1h.8M495.4 355.6h.8M510.4 357.1h.8M501.4 357.3h.8M498.0 358.8h.8M497.1 357.7h.8M502.4 352.9h.8M507.7 353.1h.8M501.9 357.0h.8M509.1 356.1h.8M489.2 359.3h.8M499.3 354.2h.8M502.4 355.6h.8M492.7 361.0h.8M491.7 358.7h.8M498.0 359.0h.8M496.7 357.4h.8M499.4 356.3h.8M485.3 364.0h.8M501.4 358.1h.8M498.9 358.0h.8M486.6 359.6h.8M484.8 364.6h.8M493.2 361.6h.8M501.0 355.6h.8M497.3 356.4h.8M494.9 359.3h.8M502.6 354.9h.8M487.1 363.7h.8M490.3 361.7h.8M487.5 360.0h.8M484.2 364.0h.8M501.0 361.6h.8M510.8 352.7h.8M483.8 362.6h.8M499.6 357.5h.8M498.9 355.4h.8M495.7 361.6h.8M494.1 358.3h.8M489.6 359.7h.8M506.1 355.0h.8M494.3 358.3h.8M503.4 354.4h.8M492.3 359.2h.8M480.2 366.4h.8M492.2 361.0h.8M497.7 359.3h.8M494.1 363.2h.8M501.6 355.7h.8M499.9 353.2h.8M489.9 357.1h.8M495.9 362.0h.8M500.1 354.2h.8M487.1 362.4h.8M502.1 355.5h.8M507.8 354.1h.8M511.7 353.6h.8M512.0 347.5h.8M503.0 356.9h.8M508.1 354.6h.8M500.5 357.1h.8M499.2 358.0h.8M508.9 350.5h.8M494.7 356.3h.8M493.7 359.6h.8M499.0 357.8h.8M502.8 356.4h.8M495.5 358.3h.8M490.4 359.7h.8M497.0 358.5h.8M486.8 363.7h.8M497.2 355.2h.8M496.6 359.0h.8M498.4 356.6h.8M503.2 353.6h.8M506.3 353.8h.8M504.7 356.1h.8M500.5 353.0h.8M501.0 348.1h.8M506.4 355.1h.8M505.0 354.1h.8M505.3 355.9h.8M504.1 354.3h.8M506.8 349.0h.8M509.3 351.5h.8M502.5 351.3h.8M508.4 352.0h.8M508.2 350.6h.8M506.6 348.7h.8M505.0 356.2h.8M504.3 353.4h.8M500.5 357.2h.8M505.2 354.1h.8M504.7 350.4h.8M504.8 352.2h.8M502.8 352.6h.8M502.9 351.8h.8M497.5 350.5h.8M506.7 353.5h.8M505.1 354.0h.8M510.9 353.9h.8M506.2 352.8h.8M506.8 354.6h.8M499.3 358.3h.8M508.6 354.2h.8M504.0 352.7h.8M503.6 356.3h.8M503.8 348.9h.8M505.1 350.9h.8M506.4 353.3h.8M503.3 349.1h.8M504.8 349.8h.8M505.2 353.4h.8M504.6 353.4h.8M504.6 357.1h.8M500.6 350.3h.8M509.1 349.9h.8M507.6 352.4h.8M505.8 349.5h.8M504.6 352.6h.8M499.5 353.0h.8M504.4 347.4h.8M506.2 352.1h.8M501.3 355.8h.8M505.4 350.1h.8M503.1 353.7h.8M504.1 354.7h.8M502.1 353.6h.8M507.0 354.3h.8M503.3 350.6h.8M502.4 353.2h.8M499.7 359.9h.8M504.9 355.9h.8M504.8 356.2h.8M504.9 355.5h.8M508.6 353.7h.8M502.0 354.0h.8M506.1 352.2h.8M505.0 354.7h.8M499.7 354.3h.8M510.4 351.3h.8M509.2 351.8h.8M504.8 352.1h.8M505.6 351.1h.8M503.9 352.4h.8M503.0 352.8h.8M508.6 350.9h.8M506.2 351.1h.8M502.3 352.9h.8M504.8 355.4h.8M507.7 353.2h.8M503.8 356.3h.8M501.9 351.1h.8M507.8 353.9h.8M507.5 352.4h.8M507.8 355.8h.8M500.1 354.2h.8M508.5 350.4h.8M502.9 353.8h.8M507.5 352.9h.8M500.9 353.5h.8M505.4 352.0h.8M508.6 347.7h.8M506.0 351.5h.8M507.3 352.2h.8M510.6 353.4h.8M504.1 348.9h.8M504.9 352.8h.8M510.2 353.8h.8M506.2 350.7h.8M506.3 350.6h.8M501.6 354.0h.8M504.4 349.7h.8M509.0 355.9h.8M507.0 348.9h.8M503.2 350.6h.8M506.4 361.3h.8M508.3 352.7h.8M503.2 349.5h.8M503.6 353.4h.8M505.0 354.2h.8M507.2 350.1h.8M508.1 353.0h.8M510.3 352.6h.8M504.6 352.6h.8M509.2 354.2h.8M509.1 355.5h.8M506.6 358.6h.8M505.4 352.4h.8M508.9 350.1h.8M506.6 355.4h.8M503.1 348.3h.8M501.6 355.7h.8M512.9 350.7h.8M490.2 364.2h.8M504.0 370.1h.8M499.8 365.8h.8M499.7 365.7h.8M499.3 365.7h.8M490.4 366.6h.8M498.5 368.9h.8M493.9 370.6h.8M488.8 362.1h.8M499.4 367.4h.8M496.4 366.6h.8M499.1 368.6h.8M503.2 365.1h.8M490.5 367.5h.8M495.3 367.0h.8M486.2 369.0h.8M504.7 368.9h.8M502.5 369.6h.8M497.9 369.1h.8M501.9 369.2h.8M499.8 367.7h.8M493.0 368.9h.8M494.7 369.6h.8M503.0 372.4h.8M498.5 364.8h.8M494.7 364.5h.8M498.6 367.9h.8M497.5 362.4h.8M489.4 361.4h.8M503.5 369.4h.8M497.0 366.8h.8M488.0 366.8h.8M494.7 365.4h.8M501.6 361.9h.8M497.5 370.3h.8M500.6 363.5h.8M483.1 372.0h.8M503.6 367.4h.8M495.4 368.9h.8M502.0 368.2h.8M495.1 368.5h.8M496.9 365.2h.8M506.1 372.3h.8M504.0 365.1h.8M493.9 363.8h.8M496.2 371.8h.8M501.4 368.0h.8M498.0 369.3h.8M496.1 364.8h.8M492.2 364.5h.8M499.6 366.9h.8M495.2 368.4h.8M496.2 363.0h.8M501.5 368.5h.8M505.3 370.4h.8M494.0 366.6h.8M493.4 361.4h.8M500.5 365.9h.8M501.7 368.4h.8M502.6 366.4h.8M505.6 369.2h.8M498.7 366.7h.8M496.7 366.7h.8M495.3 370.3h.8M501.0 371.6h.8M502.9 367.7h.8M500.7 367.2h.8M499.8 369.8h.8M498.9 365.6h.8M493.1 366.1h.8M498.9 366.8h.8M499.1 372.0h.8M489.4 368.2h.8M500.0 363.8h.8M500.6 372.3h.8M497.2 369.3h.8M495.6 370.8h.8M494.5 368.0h.8M493.7 365.8h.8M502.7 367.8h.8M501.4 363.2h.8M491.2 365.3h.8M506.4 371.4h.8M508.0 366.6h.8M500.0 369.0h.8M495.8 369.7h.8M496.9 369.4h.8M488.3 364.9h.8M501.4 365.1h.8M499.5 366.3h.8M491.5 365.2h.8M511.7 368.2h.8M496.6 371.6h.8M498.4 364.7h.8M501.0 365.4h.8M496.8 368.3h.8M497.1 366.3h.8M495.7 367.0h.8M484.7 368.4h.8M502.8 368.6h.8M499.2 367.7h.8M488.5 369.7h.8M500.4 364.9h.8M491.5 366.2h.8M490.6 360.6h.8M495.1 366.2h.8M497.6 371.5h.8M492.6 363.4h.8M496.5 369.9h.8M504.1 370.7h.8" stroke="#111" stroke-width="0.8" fill="none"/>
<line x1="489.30" y1="330.50" x2="489.30" y2="373.20" stroke="#808080" stroke-width="0.75" />
<line x1="449.80" y1="361.70" x2="515.20" y2="361.70" stroke="#808080" stroke-width="0.75" />
<text x="451.60" y="330.20" font-size="4.6" text-anchor="start" fill="#6a6a6a" >20130503-HUT IC 50_001</text>
<text x="482.70" y="382.40" font-size="4.6" text-anchor="middle" fill="#6a6a6a" >ANEXINA APC-A</text>
<text transform="translate(440.00,351.35) rotate(-90)" font-size="3.8" text-anchor="middle" fill="#444" >7AAD PE-A</text>
<line x1="448.20" y1="372.20" x2="449.80" y2="372.20" stroke="#333" stroke-width="0.7" />
<text x="446.40" y="373.40" font-size="3.0" text-anchor="end" fill="#555" >10</text>
<line x1="448.20" y1="364.46" x2="449.80" y2="364.46" stroke="#333" stroke-width="0.7" />
<text x="446.40" y="365.66" font-size="3.0" text-anchor="end" fill="#555" >10</text>
<line x1="448.20" y1="356.72" x2="449.80" y2="356.72" stroke="#333" stroke-width="0.7" />
<text x="446.40" y="357.92" font-size="3.0" text-anchor="end" fill="#555" >10</text>
<line x1="448.20" y1="348.98" x2="449.80" y2="348.98" stroke="#333" stroke-width="0.7" />
<text x="446.40" y="350.18" font-size="3.0" text-anchor="end" fill="#555" >10</text>
<line x1="448.20" y1="341.24" x2="449.80" y2="341.24" stroke="#333" stroke-width="0.7" />
<text x="446.40" y="342.44" font-size="3.0" text-anchor="end" fill="#555" >10</text>
<line x1="448.20" y1="333.50" x2="449.80" y2="333.50" stroke="#333" stroke-width="0.7" />
<text x="446.40" y="334.70" font-size="3.0" text-anchor="end" fill="#555" >10</text>
<line x1="451.80" y1="373.20" x2="451.80" y2="374.80" stroke="#333" stroke-width="0.7" />
<text x="451.80" y="377.60" font-size="3.2" text-anchor="middle" fill="#555" >10</text>
<line x1="466.90" y1="373.20" x2="466.90" y2="374.80" stroke="#333" stroke-width="0.7" />
<text x="466.90" y="377.60" font-size="3.2" text-anchor="middle" fill="#555" >10</text>
<line x1="482.00" y1="373.20" x2="482.00" y2="374.80" stroke="#333" stroke-width="0.7" />
<text x="482.00" y="377.60" font-size="3.2" text-anchor="middle" fill="#555" >10</text>
<line x1="497.10" y1="373.20" x2="497.10" y2="374.80" stroke="#333" stroke-width="0.7" />
<text x="497.10" y="377.60" font-size="3.2" text-anchor="middle" fill="#555" >10</text>
<line x1="512.20" y1="373.20" x2="512.20" y2="374.80" stroke="#333" stroke-width="0.7" />
<text x="512.20" y="377.60" font-size="3.2" text-anchor="middle" fill="#555" >10</text>
<text x="494.30" y="366.50" font-size="3.8" text-anchor="start" fill="#333" >Q4</text>
<text x="478.30" y="355.20" font-size="3.8" text-anchor="start" fill="#333" >Q1</text>
<text transform="translate(432.80,352.65) rotate(-90) scale(0.9,1)" font-size="11.1" text-anchor="middle" font-weight="bold" fill="#000" >1x IC50</text>
<rect x="433.30" y="384.40" width="83.30" height="60.90" fill="#fff" stroke="#8c8c8c" stroke-width="1"/>
<rect x="449.80" y="390.60" width="65.40" height="42.70" fill="none" stroke="#7a7a7a" stroke-width="0.8"/>
<line x1="449.80" y1="390.60" x2="449.80" y2="433.30" stroke="#333" stroke-width="1.0" />
<line x1="449.80" y1="433.30" x2="515.20" y2="433.30" stroke="#333" stroke-width="1.0" />
<polygon points="456,431.5 490,431.5 493,425 484,422 460,425" fill="#111" filter="url(#bl2)"/>
<path d="M489.3 424.1h.8M460.0 427.3h.8M499.5 423.5h.8M482.4 425.9h.8M494.1 426.4h.8M493.8 416.4h.8M478.4 415.8h.8M474.7 423.2h.8M491.1 420.4h.8M513.9 424.9h.8M494.8 420.2h.8M507.9 422.6h.8M474.4 422.9h.8M504.9 420.0h.8M483.6 428.2h.8M482.7 428.3h.8M506.4 421.5h.8M468.6 418.1h.8M507.1 426.6h.8M488.3 422.0h.8M503.9 421.6h.8M461.9 429.1h.8M491.2 423.8h.8M484.2 429.7h.8M479.4 431.5h.8M475.1 428.3h.8M463.5 428.6h.8M471.7 422.7h.8M498.9 420.1h.8M495.4 423.9h.8M507.6 428.3h.8M490.9 423.0h.8M472.9 430.8h.8M483.3 417.7h.8M474.4 414.7h.8M473.3 421.7h.8M490.8 428.3h.8M500.0 415.0h.8M479.4 426.8h.8M492.3 423.8h.8M474.5 427.3h.8M485.5 422.6h.8M485.1 422.7h.8M491.7 429.2h.8M488.0 420.7h.8M485.0 423.1h.8M494.6 427.6h.8M512.7 428.2h.8M460.2 419.7h.8M467.0 425.3h.8M478.0 430.6h.8M496.6 419.9h.8M471.7 431.0h.8M498.8 413.7h.8M475.0 426.6h.8M465.5 423.8h.8M473.0 415.7h.8M478.6 421.2h.8M491.1 415.5h.8M490.8 422.0h.8M461.6 429.7h.8M479.7 425.9h.8M511.3 425.8h.8M501.5 424.9h.8M477.5 424.8h.8M461.9 426.2h.8M499.8 425.9h.8M476.0 418.0h.8M474.9 422.4h.8M473.9 424.5h.8M479.2 424.5h.8M452.7 418.8h.8M486.2 423.6h.8M492.9 421.2h.8M499.6 424.9h.8M485.8 423.9h.8M503.3 423.7h.8M511.2 424.4h.8M490.4 423.8h.8M491.3 426.1h.8M476.7 427.7h.8M488.4 419.9h.8M474.5 419.8h.8M490.7 420.5h.8M511.9 421.8h.8M472.4 419.4h.8M485.0 423.1h.8M501.3 420.3h.8M491.8 428.5h.8M482.0 415.4h.8M490.3 428.8h.8M492.8 423.9h.8M455.9 431.7h.8M483.6 418.0h.8M481.2 424.6h.8M487.2 419.4h.8M502.4 426.9h.8M480.2 418.1h.8M466.3 429.0h.8M487.8 431.8h.8M450.6 430.3h.8M493.9 421.2h.8M500.5 420.6h.8M482.1 426.4h.8M489.0 425.2h.8M489.9 428.9h.8M473.0 414.1h.8M471.9 412.1h.8M485.8 425.4h.8M474.2 421.4h.8M490.6 423.9h.8M499.3 422.6h.8M475.8 416.7h.8M459.7 425.1h.8M491.4 421.8h.8M505.7 410.7h.8M496.7 418.0h.8M481.1 422.7h.8M474.5 422.4h.8M486.4 427.3h.8M499.5 419.2h.8M494.1 421.8h.8M500.6 421.0h.8M503.5 419.5h.8M479.0 428.0h.8M502.6 428.1h.8M486.3 428.4h.8M473.3 427.8h.8M492.7 423.1h.8M475.0 429.0h.8M454.6 423.0h.8M464.0 422.1h.8M479.4 419.8h.8M476.7 425.2h.8M483.4 421.8h.8M496.1 419.7h.8M462.8 428.6h.8M479.9 431.3h.8M491.8 416.7h.8" stroke="#666" stroke-width="0.8" fill="none"/>
<path d="M473.6 429.5h.8M471.2 425.4h.8M478.6 432.5h.8M477.1 428.4h.8M474.4 431.0h.8M465.4 431.3h.8M473.1 428.9h.8M475.0 429.1h.8M461.5 431.9h.8M465.8 427.8h.8M476.3 428.2h.8M469.6 427.6h.8M476.8 427.0h.8M455.9 424.8h.8M462.7 429.1h.8M484.9 429.7h.8M463.9 425.4h.8M478.9 429.5h.8M470.1 429.8h.8M476.5 429.6h.8M483.8 424.9h.8M464.2 427.2h.8M474.2 429.4h.8M478.5 427.9h.8M479.0 428.0h.8M478.1 429.7h.8M483.6 425.0h.8M461.5 426.7h.8M462.5 429.3h.8M480.3 427.6h.8M481.3 430.4h.8M464.8 429.9h.8M484.9 427.3h.8M473.5 429.8h.8M475.8 428.3h.8M470.6 426.6h.8M490.1 431.9h.8M469.3 426.5h.8M475.0 432.0h.8M471.2 426.6h.8M480.1 429.0h.8M462.8 427.9h.8M472.3 425.9h.8M473.6 431.3h.8M481.2 431.2h.8M478.2 428.2h.8M476.9 431.2h.8M471.2 429.6h.8M464.6 428.5h.8M466.0 426.0h.8M454.0 427.4h.8M472.7 426.8h.8M472.4 430.4h.8M454.7 428.2h.8M476.6 429.7h.8M488.9 428.9h.8M483.1 427.2h.8M461.9 427.2h.8M466.5 430.5h.8M478.3 428.5h.8M462.0 428.8h.8M466.7 427.6h.8M453.7 432.0h.8M497.4 428.6h.8M492.8 427.5h.8M498.4 428.4h.8M452.7 428.5h.8M478.8 432.3h.8M480.5 432.5h.8M472.7 425.0h.8M472.5 426.5h.8M479.2 423.7h.8M461.2 425.8h.8M472.0 430.8h.8M467.9 425.5h.8M465.9 428.1h.8M482.4 428.7h.8M484.6 422.0h.8M455.6 430.6h.8M458.0 427.1h.8M475.9 429.0h.8M473.8 428.1h.8M452.6 424.8h.8M462.5 426.2h.8M466.3 424.6h.8M469.7 429.6h.8M466.0 431.5h.8M473.0 430.6h.8M462.1 429.0h.8M456.8 424.2h.8M453.5 427.6h.8M474.1 427.6h.8M481.4 428.7h.8M471.0 428.8h.8M480.6 432.1h.8M456.8 428.7h.8M466.2 428.5h.8M494.5 428.0h.8M466.2 426.4h.8M481.1 429.1h.8M463.7 431.8h.8M468.5 429.0h.8M469.2 428.8h.8M451.1 425.7h.8M458.1 423.5h.8M459.3 427.3h.8M469.0 428.3h.8M466.6 430.9h.8M468.5 426.5h.8M484.6 428.2h.8M481.9 429.7h.8M468.2 430.7h.8M456.3 425.7h.8M466.9 423.0h.8M466.6 428.0h.8M453.5 426.1h.8M483.4 429.9h.8M473.0 431.5h.8M471.9 431.3h.8M481.5 427.2h.8M477.0 431.0h.8M473.8 427.5h.8M479.8 431.1h.8M470.8 429.7h.8M472.3 429.1h.8M474.6 427.6h.8M478.3 429.3h.8M488.3 429.2h.8M472.1 425.7h.8M493.5 427.9h.8M465.9 427.8h.8M471.0 428.2h.8M487.9 427.4h.8M468.7 427.4h.8M477.0 424.7h.8M480.9 427.6h.8M456.7 431.9h.8M457.7 430.1h.8M471.1 426.9h.8M454.4 426.8h.8M478.5 428.3h.8M465.2 430.7h.8M471.3 428.6h.8M462.3 425.3h.8M466.3 429.1h.8M466.8 429.2h.8M468.4 427.9h.8M470.5 429.3h.8M468.9 427.4h.8M480.7 431.1h.8M482.4 430.1h.8M475.5 428.7h.8M478.5 426.9h.8M469.6 429.2h.8M469.4 425.6h.8M470.0 427.5h.8M464.5 429.9h.8M481.6 428.6h.8M459.4 428.0h.8M469.0 426.0h.8M464.8 428.8h.8M465.0 429.4h.8M457.8 429.9h.8M463.9 428.7h.8M471.1 427.3h.8M481.3 424.4h.8M472.9 429.9h.8M468.4 428.3h.8M459.4 428.3h.8M472.5 427.1h.8M471.0 427.6h.8M460.6 428.2h.8M463.0 430.4h.8M463.0 431.6h.8M470.6 428.3h.8M463.5 429.4h.8M460.5 424.9h.8M475.1 423.7h.8M482.2 427.2h.8M486.6 428.9h.8M487.3 425.1h.8M466.4 429.0h.8M465.2 428.5h.8M469.2 429.9h.8M485.2 423.5h.8M477.1 425.8h.8M487.2 425.0h.8M462.4 429.5h.8M469.1 429.9h.8M474.5 426.6h.8M454.4 431.0h.8M468.6 428.1h.8M467.7 427.8h.8M463.5 428.5h.8M473.3 425.6h.8M454.9 429.6h.8M479.6 427.2h.8M469.1 427.2h.8M474.8 428.2h.8M465.2 426.7h.8M475.3 429.2h.8M466.4 429.3h.8M472.6 423.8h.8M464.9 428.9h.8M483.5 429.3h.8M458.3 430.4h.8M468.0 430.2h.8M456.7 424.7h.8M454.7 429.7h.8M482.8 428.9h.8M472.6 428.1h.8M472.8 426.1h.8M483.2 430.2h.8M480.5 428.2h.8M479.3 430.6h.8M496.2 430.8h.8M463.3 426.6h.8M479.6 429.5h.8M476.4 428.5h.8M462.6 428.7h.8M456.1 429.0h.8M493.9 430.0h.8M462.2 426.4h.8M495.2 429.8h.8M465.6 429.7h.8M467.5 426.0h.8M472.3 429.5h.8M484.0 425.6h.8M485.8 427.8h.8M450.7 430.6h.8M480.9 429.6h.8M479.3 426.4h.8M476.1 424.7h.8M487.7 429.3h.8M476.0 428.6h.8M477.3 428.8h.8M461.4 427.6h.8M451.4 426.4h.8M469.2 429.2h.8M493.6 424.7h.8M492.3 427.4h.8M466.5 428.2h.8M493.2 426.0h.8M467.0 429.6h.8M480.6 429.3h.8M472.1 430.6h.8M460.9 431.9h.8M465.9 429.2h.8M461.5 427.0h.8M481.0 429.7h.8M469.0 430.2h.8M503.8 422.9h.8M453.4 430.7h.8M462.5 428.4h.8M486.5 424.6h.8M477.7 427.7h.8M485.9 429.1h.8M463.3 427.4h.8M471.4 432.2h.8M471.9 427.2h.8M466.9 430.3h.8M467.8 432.3h.8M480.0 428.7h.8M472.0 427.7h.8M486.4 427.9h.8M473.8 425.4h.8M468.9 428.8h.8M470.1 428.5h.8M481.1 430.0h.8M479.0 427.1h.8M465.7 428.4h.8M454.6 425.2h.8M474.3 428.4h.8M471.8 431.1h.8M468.6 425.5h.8M477.8 431.6h.8M455.8 428.5h.8M480.8 428.5h.8M466.3 430.6h.8M453.4 428.3h.8M464.3 428.2h.8M458.1 428.8h.8M483.6 429.4h.8M457.7 427.2h.8M463.2 425.1h.8M478.5 429.5h.8M469.1 431.7h.8M478.3 427.1h.8M471.4 428.1h.8M470.9 431.4h.8M483.9 426.2h.8M491.1 424.8h.8M478.0 431.1h.8M472.4 429.6h.8M464.3 431.7h.8M468.9 427.2h.8M455.7 426.1h.8M476.0 428.5h.8M488.7 429.8h.8M474.4 426.7h.8M476.6 425.2h.8M463.2 431.5h.8M473.8 425.8h.8M464.5 428.1h.8M474.2 428.9h.8M479.4 421.8h.8M478.4 424.2h.8M466.3 428.7h.8M481.8 427.0h.8M457.4 426.6h.8M458.3 427.3h.8M463.7 431.0h.8M476.8 428.1h.8M474.2 432.0h.8M468.1 425.9h.8M471.3 425.7h.8M473.3 430.4h.8M467.3 430.5h.8M467.4 429.8h.8M479.3 430.3h.8M480.8 429.6h.8M478.2 430.5h.8M476.1 429.8h.8M474.0 428.3h.8M452.5 428.3h.8M471.4 427.2h.8M466.5 431.3h.8M468.4 423.4h.8M465.7 428.2h.8M483.7 429.1h.8M476.4 427.3h.8M465.3 424.9h.8M477.6 428.5h.8M463.8 428.6h.8M482.4 430.6h.8M479.2 431.1h.8M473.6 428.5h.8M471.1 429.6h.8M453.7 429.1h.8M471.5 426.5h.8M465.4 431.1h.8M467.1 428.3h.8M486.3 426.3h.8M470.7 427.5h.8M465.8 428.1h.8M476.7 427.9h.8M480.7 430.1h.8M460.2 428.6h.8M469.3 425.6h.8M453.0 430.7h.8M474.1 431.2h.8M487.0 430.2h.8M474.9 431.3h.8M469.8 427.6h.8M481.0 429.9h.8M465.9 427.6h.8M467.3 427.4h.8M465.0 427.3h.8M472.4 428.6h.8M479.1 422.9h.8M472.5 432.2h.8M471.6 427.2h.8M491.3 427.3h.8M478.1 429.0h.8M469.6 426.2h.8M472.7 428.9h.8M489.5 425.1h.8M455.4 429.7h.8M455.9 422.1h.8M467.7 431.0h.8M452.6 425.1h.8M486.1 426.5h.8M462.1 428.1h.8M487.3 428.0h.8M479.0 428.1h.8M460.2 429.0h.8M452.7 430.8h.8M454.7 428.8h.8M475.2 426.8h.8M490.7 428.5h.8M475.5 425.2h.8M465.9 429.0h.8M478.6 429.8h.8M456.9 425.1h.8M459.7 431.0h.8M453.3 425.7h.8M472.2 428.3h.8M470.3 426.6h.8M474.5 428.2h.8M469.1 429.0h.8M468.7 428.0h.8M482.4 430.0h.8M471.8 428.8h.8M484.8 425.5h.8M451.5 428.5h.8M453.6 426.1h.8M473.2 428.9h.8M467.5 426.7h.8M456.2 426.8h.8M462.7 428.4h.8M480.3 427.8h.8M459.5 429.4h.8M483.2 429.1h.8M466.4 427.6h.8M467.7 426.1h.8M480.2 427.7h.8M490.4 431.1h.8M466.1 426.7h.8M453.1 428.5h.8M474.9 427.6h.8M469.8 429.5h.8M463.0 428.3h.8M468.3 431.8h.8M477.7 428.2h.8M460.6 428.1h.8M462.9 427.6h.8M474.5 430.2h.8M481.1 427.1h.8M472.8 428.4h.8M481.1 430.5h.8M473.4 429.6h.8M451.0 429.2h.8M469.4 428.4h.8M473.7 425.8h.8M467.1 430.3h.8M478.0 428.9h.8M476.5 426.7h.8M486.0 423.9h.8M467.5 426.8h.8M466.3 428.9h.8M472.1 430.6h.8M490.0 429.6h.8M461.7 428.5h.8M463.2 426.7h.8M466.9 430.6h.8M463.0 429.2h.8M463.4 430.4h.8M482.6 425.3h.8M478.4 426.5h.8M474.3 428.3h.8M479.5 425.7h.8M490.0 429.2h.8M464.5 431.3h.8M484.6 429.6h.8M466.0 426.7h.8M462.1 432.0h.8M471.6 428.4h.8M467.4 431.2h.8M467.4 430.4h.8M453.2 426.7h.8M474.3 426.4h.8M490.2 423.9h.8M474.9 429.7h.8M475.5 428.3h.8M473.7 427.1h.8M470.8 432.5h.8M470.8 430.9h.8M484.6 427.2h.8M490.2 425.2h.8M466.0 428.3h.8M468.4 429.8h.8M469.9 429.8h.8M462.9 425.0h.8M489.2 429.1h.8M475.0 425.9h.8M475.6 428.4h.8M475.9 428.8h.8M481.5 431.6h.8M467.5 427.6h.8M478.3 425.3h.8M463.9 427.7h.8M468.3 428.0h.8M459.2 429.7h.8M466.5 425.9h.8M474.4 431.9h.8M456.1 428.4h.8M492.7 428.1h.8M463.9 432.0h.8M473.3 430.6h.8M487.5 429.9h.8M456.0 426.0h.8M468.8 427.1h.8M469.3 424.3h.8M454.9 430.1h.8M469.1 429.4h.8M467.1 428.5h.8M455.9 432.4h.8M481.5 425.5h.8M466.5 429.3h.8M466.8 428.4h.8M473.1 424.4h.8M478.5 429.5h.8M461.3 428.1h.8M470.1 427.9h.8M471.5 425.1h.8M471.6 429.4h.8M474.9 429.5h.8M465.3 428.8h.8M480.6 428.7h.8M473.2 428.6h.8M476.3 425.6h.8M470.4 430.4h.8M462.0 429.8h.8M466.4 427.6h.8M459.8 426.5h.8M482.7 425.3h.8M472.4 425.5h.8M491.2 430.1h.8M463.1 426.0h.8M468.2 429.3h.8M487.6 431.7h.8M461.2 429.0h.8M480.2 426.9h.8M466.3 430.6h.8M457.2 428.6h.8M470.3 427.9h.8M471.2 424.9h.8M479.2 427.5h.8M485.1 426.7h.8M468.4 431.2h.8M463.7 427.7h.8M459.3 426.9h.8M463.7 429.1h.8M473.5 427.7h.8M457.4 429.0h.8M477.1 428.4h.8M484.7 427.5h.8M479.4 429.1h.8M484.2 432.1h.8M459.4 424.5h.8M481.3 429.2h.8M474.4 427.5h.8M463.5 431.2h.8M475.7 427.3h.8M471.5 429.2h.8M458.0 427.1h.8M476.1 428.8h.8M457.3 429.2h.8M490.8 429.9h.8M457.8 427.5h.8M464.8 426.8h.8M462.8 427.2h.8M470.1 425.7h.8M480.2 429.2h.8M490.4 430.4h.8M480.6 429.7h.8M469.9 426.1h.8M477.7 428.7h.8M464.5 429.4h.8M474.3 427.1h.8M485.4 427.4h.8M472.3 430.9h.8M465.8 427.8h.8M475.6 427.8h.8M466.0 426.0h.8M473.3 427.7h.8M479.2 430.8h.8M470.8 430.2h.8M464.0 432.1h.8M465.5 428.2h.8M467.3 427.4h.8M478.9 428.5h.8M462.2 430.2h.8M471.4 429.8h.8M473.1 427.5h.8M453.1 427.9h.8M462.2 431.2h.8M468.9 431.8h.8M493.9 431.1h.8M494.7 426.5h.8M466.1 426.2h.8M457.7 425.7h.8M479.9 426.8h.8M467.8 429.8h.8M467.0 432.0h.8M482.9 430.1h.8M487.6 429.7h.8M472.9 431.0h.8M481.4 425.5h.8M482.0 430.8h.8M472.7 431.7h.8M459.4 429.0h.8M464.2 426.7h.8M473.8 425.3h.8M470.8 430.1h.8M463.6 426.1h.8M476.6 430.6h.8M480.1 427.4h.8M467.0 431.6h.8M479.8 429.3h.8M473.4 428.2h.8M477.1 430.1h.8M471.5 429.1h.8M457.3 428.2h.8M486.8 429.0h.8M457.5 427.5h.8M472.0 431.7h.8M492.3 428.5h.8M469.6 428.8h.8M460.1 431.5h.8M459.2 430.2h.8M466.5 426.3h.8M474.3 432.2h.8M459.1 429.0h.8M464.2 430.9h.8M456.5 425.8h.8M467.3 425.7h.8M480.8 425.3h.8M471.7 427.5h.8M480.8 427.4h.8M469.1 432.3h.8M477.5 431.3h.8M485.1 429.7h.8M474.1 424.9h.8M454.0 427.7h.8M473.9 431.0h.8M463.4 427.8h.8M491.6 426.1h.8M469.2 428.3h.8M464.1 431.9h.8M455.3 427.9h.8M454.4 427.0h.8M486.4 424.1h.8M454.5 428.6h.8M474.6 427.0h.8M475.4 428.1h.8M467.2 428.8h.8M483.2 426.0h.8M479.5 429.2h.8M468.9 427.0h.8M474.4 430.3h.8M461.7 430.2h.8M471.4 430.4h.8M473.7 428.1h.8M473.1 430.0h.8M456.7 428.6h.8M466.3 428.6h.8M480.9 430.6h.8M485.2 430.6h.8M468.9 426.8h.8M496.6 427.1h.8M467.5 429.5h.8M462.9 428.9h.8M473.1 427.4h.8M460.8 428.6h.8M475.3 426.4h.8M472.4 428.8h.8M462.2 429.5h.8M457.5 430.6h.8M464.0 430.8h.8M472.0 428.7h.8M457.8 430.2h.8M475.3 429.0h.8M471.3 430.1h.8M475.6 429.4h.8M479.7 428.2h.8M487.0 425.2h.8M454.7 429.8h.8M470.8 425.2h.8M459.1 427.0h.8M483.6 430.0h.8M454.6 425.6h.8M472.4 425.8h.8M464.9 427.3h.8M471.5 429.8h.8M464.0 427.4h.8M473.7 432.2h.8M475.1 427.8h.8M480.3 428.3h.8M457.4 430.0h.8M487.3 426.1h.8M478.6 425.9h.8M470.2 428.3h.8M467.6 428.3h.8M477.8 427.4h.8M468.8 427.9h.8M473.7 427.1h.8M478.8 429.2h.8M465.2 425.7h.8M468.4 430.8h.8M477.4 428.6h.8M491.1 432.0h.8M476.2 431.6h.8M468.5 427.8h.8M473.3 424.4h.8M471.3 427.4h.8M484.4 429.8h.8M486.5 427.6h.8M485.7 428.9h.8M476.3 429.4h.8M458.5 430.6h.8M466.6 430.0h.8M470.6 426.4h.8M468.0 429.2h.8M468.1 432.3h.8M483.1 428.8h.8M467.5 431.7h.8M471.5 431.1h.8M457.6 424.1h.8M478.7 430.6h.8M469.5 428.2h.8M475.6 429.7h.8M470.3 428.6h.8M473.4 430.9h.8M478.1 422.8h.8M474.6 427.9h.8M481.8 430.1h.8M465.9 428.4h.8M460.2 428.8h.8M464.0 431.3h.8M483.9 427.8h.8M462.3 431.4h.8M457.7 427.8h.8M467.3 429.1h.8M471.6 426.5h.8M479.8 429.4h.8M474.3 432.0h.8M489.7 429.1h.8M467.0 427.9h.8M469.9 426.2h.8M464.1 427.4h.8M476.3 430.2h.8M465.0 426.2h.8M470.8 424.6h.8M468.8 429.0h.8M475.0 427.6h.8M475.2 430.2h.8M467.6 426.2h.8M466.0 429.2h.8M473.8 424.8h.8M456.2 425.0h.8M489.0 429.5h.8M472.8 425.9h.8M477.2 423.1h.8M487.0 429.4h.8M470.6 429.1h.8M480.0 424.1h.8M473.9 425.7h.8M467.0 428.1h.8M466.8 426.9h.8M472.8 427.6h.8M473.7 430.2h.8M462.5 428.1h.8M462.5 430.3h.8M478.3 430.8h.8M481.6 428.8h.8M461.1 426.9h.8M483.1 428.8h.8M479.0 427.3h.8M480.8 425.0h.8M464.2 428.8h.8M481.5 430.7h.8M479.5 431.2h.8M478.0 430.4h.8M462.3 425.8h.8M466.0 431.3h.8M484.5 426.1h.8M468.3 428.7h.8M476.8 429.3h.8M485.8 429.1h.8M468.9 428.0h.8M481.8 428.0h.8M476.3 427.6h.8M459.4 423.8h.8M468.1 426.8h.8M479.1 427.7h.8M461.8 430.1h.8M466.5 428.7h.8M463.4 431.9h.8M473.9 428.0h.8M470.1 423.9h.8M483.5 428.5h.8M482.6 426.7h.8M485.4 427.1h.8M466.1 428.6h.8M469.5 428.8h.8M472.5 428.2h.8M475.4 427.6h.8M484.2 430.0h.8M459.7 427.4h.8M467.8 430.6h.8M451.8 431.0h.8M451.6 427.1h.8M462.5 427.8h.8M478.8 430.6h.8M470.0 428.1h.8M461.4 431.1h.8M455.5 427.1h.8M467.9 429.5h.8M464.9 429.0h.8M465.7 429.5h.8M469.7 426.4h.8M455.6 426.3h.8M470.6 430.1h.8M482.1 430.7h.8M491.5 430.7h.8M488.9 430.3h.8M474.2 424.7h.8M480.7 428.2h.8M467.2 425.6h.8M483.5 428.5h.8M466.8 426.8h.8M470.1 429.5h.8M477.0 428.8h.8M473.2 428.7h.8M466.8 431.1h.8M469.7 427.3h.8M488.1 426.4h.8M466.5 428.8h.8M469.3 428.3h.8M480.6 430.8h.8M459.3 426.2h.8M477.8 426.3h.8M459.1 430.4h.8M476.0 429.4h.8M485.0 430.8h.8M466.4 427.5h.8M475.2 427.6h.8M473.6 430.5h.8M473.6 425.4h.8M487.4 428.4h.8M474.5 424.9h.8M470.6 425.7h.8M486.8 427.5h.8M457.3 428.3h.8M461.8 428.7h.8M461.7 424.7h.8M469.1 427.9h.8M463.0 430.0h.8M479.4 428.3h.8M470.2 429.3h.8M480.1 428.9h.8M459.9 429.9h.8M494.6 429.9h.8M474.2 427.3h.8M455.8 429.7h.8M476.7 429.5h.8M472.5 431.4h.8M469.9 424.4h.8M469.6 428.9h.8M478.7 429.8h.8M477.9 429.5h.8M474.0 426.0h.8M467.8 430.8h.8M487.3 422.7h.8M469.5 427.6h.8M479.5 424.2h.8M465.4 428.9h.8M463.0 424.7h.8M489.5 428.0h.8M471.6 429.9h.8M489.9 427.0h.8M469.5 427.8h.8M480.4 430.6h.8M486.7 427.6h.8M458.9 427.1h.8M452.0 429.3h.8M460.5 429.5h.8M485.7 428.3h.8M469.6 428.6h.8M464.7 429.3h.8M468.4 428.9h.8M462.8 429.7h.8M474.3 426.6h.8M470.2 425.4h.8M456.8 426.1h.8M474.9 427.7h.8M470.5 429.1h.8M468.1 428.1h.8M462.8 429.9h.8M459.5 428.3h.8M474.8 427.5h.8M492.1 429.1h.8M474.9 424.8h.8M475.1 425.9h.8M476.5 429.3h.8M469.7 427.3h.8M462.8 427.1h.8M486.3 426.7h.8M467.8 429.4h.8M457.3 427.6h.8M482.2 429.1h.8M476.4 430.1h.8M470.6 423.3h.8M478.4 429.8h.8M485.0 426.0h.8M480.3 431.7h.8M469.7 427.9h.8M460.8 429.9h.8M473.3 429.7h.8M470.3 428.6h.8M464.9 430.9h.8M469.4 431.3h.8M479.8 426.9h.8M459.7 430.8h.8M474.8 427.7h.8M481.2 424.1h.8M476.6 427.7h.8M478.2 427.2h.8M466.1 430.0h.8M474.6 425.3h.8M476.1 430.1h.8M454.5 426.4h.8M459.5 426.4h.8M460.9 426.4h.8M468.3 431.4h.8M466.8 430.6h.8M481.1 427.6h.8M474.8 430.7h.8M473.1 432.1h.8M474.7 432.0h.8M460.9 429.0h.8M465.3 427.6h.8M468.6 429.7h.8M456.4 424.7h.8M478.3 429.2h.8M480.2 430.4h.8M474.0 427.4h.8M475.8 426.5h.8M457.8 427.8h.8M493.0 426.4h.8M484.1 428.1h.8M487.9 427.4h.8M459.1 427.1h.8M468.8 429.7h.8M463.6 429.0h.8M494.2 428.6h.8M463.3 428.5h.8M467.4 429.1h.8M462.8 427.8h.8M478.1 428.5h.8M451.6 431.0h.8M462.4 429.3h.8M461.7 430.2h.8M465.1 431.4h.8M471.8 423.7h.8M459.5 430.0h.8M478.2 430.7h.8M475.8 427.5h.8M472.0 428.6h.8M470.9 430.7h.8M461.5 427.8h.8M483.9 428.2h.8M476.2 427.3h.8M471.3 431.4h.8M486.7 428.6h.8M464.4 431.8h.8M451.9 428.1h.8M481.2 428.2h.8M470.1 428.4h.8M461.3 427.6h.8M473.9 424.8h.8M462.7 422.0h.8M480.1 428.8h.8M454.2 425.2h.8M463.7 432.1h.8M475.5 426.0h.8M465.7 424.9h.8M461.2 424.7h.8M488.6 430.0h.8M483.6 429.5h.8M463.3 430.7h.8M475.5 426.9h.8M454.3 428.4h.8M458.6 427.9h.8M480.3 429.7h.8M472.1 427.9h.8M472.6 426.4h.8M478.4 432.0h.8M464.6 425.1h.8M470.8 424.7h.8M490.5 428.3h.8M474.9 428.9h.8M465.6 426.8h.8M471.4 430.9h.8M485.7 427.8h.8M465.6 427.6h.8M474.4 426.3h.8M480.3 427.9h.8M463.0 430.0h.8M485.0 426.5h.8M468.8 428.1h.8M476.0 430.2h.8M469.5 426.4h.8M464.7 430.4h.8M489.2 428.9h.8M482.2 426.9h.8M458.0 426.4h.8M500.4 431.3h.8M460.7 426.8h.8M467.0 425.6h.8M476.6 426.0h.8M468.3 429.8h.8M468.2 430.7h.8M465.4 431.1h.8M464.0 427.2h.8M456.0 429.2h.8M477.6 428.5h.8M485.1 429.9h.8M474.2 424.8h.8M468.9 429.3h.8M458.7 431.7h.8M474.0 431.8h.8M458.2 432.5h.8M484.5 428.8h.8M467.2 432.1h.8M460.8 428.0h.8M482.0 428.3h.8M462.5 425.9h.8M465.7 431.3h.8M498.3 426.3h.8M458.4 429.9h.8M468.9 427.5h.8M469.2 431.5h.8M478.5 426.8h.8M475.8 425.7h.8M482.0 423.9h.8M466.3 430.5h.8M488.0 429.6h.8M450.8 428.0h.8M480.1 429.9h.8M474.6 427.2h.8M451.2 427.4h.8M472.3 427.0h.8M462.0 429.3h.8M467.3 428.9h.8M481.5 426.9h.8M480.7 425.9h.8M479.6 429.4h.8M475.7 430.1h.8M472.9 424.5h.8M487.7 429.0h.8M472.8 428.6h.8M474.7 427.9h.8M457.1 425.8h.8M498.6 423.3h.8M481.3 430.6h.8M489.6 421.0h.8M483.1 424.0h.8M494.8 424.7h.8M486.3 424.3h.8M483.5 426.0h.8M481.5 428.6h.8M487.2 427.2h.8M497.4 422.8h.8M493.2 414.7h.8M482.2 426.7h.8M482.5 428.9h.8M485.8 424.5h.8M475.0 429.8h.8M484.8 428.9h.8M491.0 423.5h.8M493.1 422.4h.8M482.9 425.7h.8M486.4 427.8h.8M483.6 422.7h.8M496.1 424.7h.8M485.6 425.4h.8M478.0 431.7h.8M484.6 419.5h.8M487.1 426.1h.8M491.9 424.1h.8M489.3 423.6h.8M487.4 424.0h.8M503.0 420.7h.8M488.7 418.6h.8M487.6 426.1h.8M492.2 419.1h.8M487.5 428.9h.8M486.7 424.3h.8M491.5 423.3h.8M484.6 423.6h.8M477.4 427.8h.8M491.3 425.2h.8M483.3 426.9h.8M481.5 421.7h.8M491.7 420.0h.8M479.4 425.9h.8M485.9 429.3h.8M494.2 428.6h.8M489.0 419.7h.8M480.1 427.3h.8M479.5 427.9h.8M494.2 424.4h.8M477.6 430.3h.8M498.4 424.5h.8M502.3 418.4h.8M487.1 427.0h.8M494.0 427.0h.8M487.0 422.8h.8M486.7 422.9h.8M488.5 423.4h.8M492.6 421.3h.8M493.5 420.9h.8M495.4 425.9h.8M487.7 423.9h.8M490.0 425.2h.8M481.7 428.1h.8M476.6 424.3h.8M480.6 427.0h.8M482.8 419.4h.8M494.5 421.1h.8M485.9 425.9h.8M490.1 425.5h.8M480.0 427.5h.8M493.8 425.0h.8M496.9 418.1h.8M495.3 418.6h.8M481.1 426.9h.8M502.2 424.0h.8M487.1 425.0h.8M494.6 419.3h.8M485.8 423.4h.8M495.2 424.1h.8M489.8 427.4h.8M486.4 422.4h.8M493.5 418.0h.8M489.6 424.0h.8M478.1 427.6h.8M482.7 429.7h.8M492.6 425.7h.8M493.9 422.9h.8M494.7 424.4h.8M491.4 426.5h.8M500.0 416.6h.8M485.1 421.2h.8M480.3 428.4h.8M482.0 425.5h.8M484.5 428.1h.8M497.8 422.2h.8M483.8 424.0h.8M486.8 420.3h.8M480.5 427.0h.8M489.5 424.6h.8M490.0 421.9h.8M487.3 421.9h.8M489.4 418.6h.8M491.1 424.3h.8M485.5 425.6h.8M494.2 423.0h.8M499.7 424.7h.8M488.7 423.8h.8M480.8 423.4h.8M489.2 424.5h.8M490.1 428.5h.8M490.5 424.9h.8M486.6 421.9h.8M485.2 425.0h.8M492.3 425.2h.8M481.8 425.8h.8M492.6 419.3h.8M486.5 420.9h.8M483.8 428.8h.8M490.2 429.9h.8M481.8 428.7h.8M487.0 420.4h.8M489.2 424.8h.8M486.4 428.2h.8M486.1 427.0h.8M488.0 423.0h.8M490.3 426.8h.8M496.7 425.4h.8M477.8 423.6h.8M486.4 428.2h.8M476.6 427.9h.8M480.9 428.6h.8M494.3 422.1h.8M496.2 424.4h.8M487.1 428.7h.8M500.9 420.8h.8M489.6 425.0h.8M493.0 422.1h.8M486.7 428.1h.8M487.3 428.3h.8M489.7 428.8h.8M497.0 418.9h.8M492.3 422.7h.8M484.5 427.8h.8M494.5 424.2h.8M494.7 427.2h.8M490.3 425.6h.8M491.1 427.9h.8M482.9 425.7h.8M480.9 424.9h.8M490.3 423.0h.8M483.6 425.1h.8M494.9 428.4h.8M488.9 422.3h.8M489.3 422.5h.8M490.1 425.9h.8M499.8 419.3h.8M487.4 422.4h.8M494.6 420.2h.8M496.0 427.4h.8M477.9 430.2h.8M502.0 421.1h.8M487.8 430.2h.8M486.9 424.6h.8M482.7 427.8h.8M496.1 420.2h.8M493.2 424.6h.8M497.6 421.7h.8M483.6 426.4h.8M491.0 423.0h.8M482.6 427.8h.8M478.6 423.9h.8M487.5 421.0h.8M491.2 419.3h.8M487.0 426.0h.8M496.3 420.0h.8M489.9 427.4h.8M483.3 426.8h.8M495.0 425.8h.8M487.8 425.6h.8M483.9 427.2h.8M490.8 422.4h.8M502.6 422.5h.8M483.2 426.0h.8M491.2 420.9h.8M482.8 428.0h.8M487.8 424.5h.8M494.5 422.1h.8M479.2 423.8h.8M487.3 424.2h.8M485.9 422.7h.8M477.6 426.7h.8M490.7 424.6h.8M492.0 431.7h.8M481.1 424.7h.8M489.2 417.6h.8M492.4 423.1h.8M507.3 419.2h.8M487.6 424.7h.8M486.8 423.0h.8M494.8 423.7h.8M490.1 423.3h.8M476.7 426.3h.8M474.6 426.4h.8M490.3 423.2h.8M488.7 428.8h.8M491.5 426.4h.8M486.2 424.1h.8M479.7 430.9h.8M495.0 422.5h.8M490.9 424.5h.8M496.4 423.8h.8M487.6 421.8h.8M473.4 422.0h.8M486.7 428.2h.8M483.8 425.0h.8M491.9 428.0h.8M474.0 427.9h.8M485.2 427.6h.8M485.8 420.3h.8M473.9 423.7h.8M485.6 422.2h.8M479.8 432.2h.8M479.0 426.1h.8M495.4 422.6h.8M475.8 427.8h.8M487.9 428.3h.8M483.1 421.6h.8M485.7 422.1h.8M489.3 426.0h.8M487.6 424.5h.8M480.6 422.7h.8M489.9 427.9h.8M493.0 429.9h.8M482.0 420.2h.8M487.7 425.3h.8M482.9 420.6h.8M496.3 417.1h.8M491.1 426.0h.8M496.0 422.2h.8M493.7 422.3h.8M492.5 427.0h.8M487.9 419.7h.8M490.6 415.5h.8M496.5 420.5h.8M484.7 428.2h.8M493.4 424.5h.8M484.5 427.4h.8M488.9 423.3h.8M483.2 427.1h.8M483.4 429.4h.8M477.1 424.6h.8M489.1 419.5h.8M499.4 417.6h.8M484.3 424.3h.8M489.1 428.1h.8M485.4 423.8h.8M495.9 422.4h.8M492.8 423.4h.8M484.9 423.6h.8M482.0 423.9h.8M489.1 424.1h.8M492.8 423.5h.8M490.5 421.4h.8M478.1 430.0h.8M498.9 420.8h.8M493.3 420.6h.8M482.5 427.1h.8M493.2 424.7h.8M494.8 422.9h.8M487.1 425.0h.8M482.6 424.9h.8M477.9 423.9h.8M492.8 421.7h.8M474.1 425.0h.8M492.8 423.0h.8M487.5 426.3h.8M495.1 421.8h.8M489.5 429.7h.8M491.7 422.0h.8M482.9 424.6h.8M495.1 416.9h.8M491.9 422.3h.8M491.9 424.0h.8M478.4 425.7h.8M475.8 427.3h.8M483.3 428.3h.8M476.8 428.3h.8M482.0 424.7h.8M477.6 432.4h.8M486.6 425.1h.8M502.0 416.0h.8M487.4 422.1h.8M486.3 423.8h.8M491.1 425.7h.8M488.4 427.7h.8M486.0 421.5h.8M477.6 429.6h.8M485.8 426.4h.8M492.4 420.8h.8M495.9 424.4h.8M498.0 423.8h.8M481.0 428.0h.8M488.8 420.3h.8M493.3 422.4h.8M490.5 428.4h.8M496.0 421.2h.8M492.5 426.2h.8M489.0 427.3h.8M491.5 422.3h.8M496.6 421.5h.8M485.1 424.2h.8M477.1 430.4h.8M480.6 421.4h.8M490.0 417.9h.8M486.3 427.0h.8M490.1 425.0h.8M486.2 422.3h.8M489.8 426.2h.8M487.6 427.3h.8M473.2 425.9h.8M471.9 427.6h.8M489.0 420.7h.8M484.7 425.1h.8M483.0 425.2h.8M493.9 423.0h.8M494.4 424.0h.8M484.8 425.6h.8M493.6 421.4h.8M484.0 429.0h.8M493.1 424.9h.8M484.8 424.9h.8M490.4 425.0h.8M493.4 420.0h.8M493.5 420.3h.8M482.1 424.7h.8M484.7 428.3h.8M495.4 428.4h.8M483.8 426.0h.8M496.1 417.6h.8M492.9 428.4h.8M494.0 420.9h.8M487.5 425.1h.8M483.9 422.7h.8M495.1 420.2h.8M494.5 419.8h.8M483.2 419.4h.8M484.1 424.5h.8M493.2 419.1h.8M488.0 427.7h.8M493.0 427.3h.8M487.2 420.5h.8M488.1 425.9h.8M481.7 425.3h.8M487.9 430.7h.8M484.0 423.4h.8M486.8 423.0h.8M488.3 423.0h.8M480.4 424.6h.8M476.3 432.3h.8M496.5 421.9h.8M489.3 426.1h.8M490.0 421.5h.8M482.7 428.2h.8M486.4 426.1h.8M485.6 427.6h.8M487.1 425.4h.8M491.5 417.9h.8M493.6 426.7h.8M485.1 420.7h.8M490.4 421.4h.8M482.0 430.5h.8M487.3 421.7h.8M480.1 427.7h.8M490.1 425.1h.8M481.1 424.4h.8M487.9 423.4h.8M488.4 423.4h.8M487.7 425.1h.8M492.0 427.0h.8M487.8 418.9h.8M496.8 417.9h.8M489.6 427.4h.8M491.8 427.2h.8M488.1 430.6h.8M491.3 419.0h.8M492.5 422.4h.8M494.6 420.8h.8M493.2 419.5h.8M486.3 424.6h.8M495.0 420.4h.8M490.0 427.1h.8M477.0 431.8h.8M487.5 425.2h.8M499.9 421.2h.8M492.4 426.8h.8M497.0 425.5h.8M484.3 426.5h.8M479.3 423.4h.8M486.2 424.1h.8M496.0 416.7h.8M512.1 408.3h.8M503.8 412.0h.8M502.3 413.8h.8M488.0 416.8h.8M508.4 416.7h.8M498.0 417.4h.8M502.5 411.8h.8M504.6 423.0h.8M496.8 413.9h.8M495.9 418.8h.8M497.8 422.6h.8M504.5 413.5h.8M501.7 415.1h.8M494.5 423.5h.8M498.8 416.0h.8M510.1 411.9h.8M507.2 406.8h.8M504.9 411.9h.8M497.3 420.6h.8M512.5 405.5h.8M509.5 412.1h.8M496.6 421.2h.8M499.1 415.8h.8M498.4 417.1h.8M496.4 421.4h.8M511.8 409.5h.8M495.3 418.6h.8M494.6 419.6h.8M501.1 416.5h.8M494.8 420.0h.8M491.0 419.8h.8M498.9 417.6h.8M505.9 413.9h.8M492.9 421.1h.8M499.0 419.5h.8M511.7 416.1h.8M499.8 414.4h.8M501.6 415.8h.8M494.7 415.1h.8M508.2 410.9h.8M507.3 416.7h.8M493.4 420.9h.8M499.4 413.3h.8M495.6 419.3h.8M506.8 412.1h.8M498.5 420.4h.8M497.1 416.4h.8M489.2 422.8h.8M495.0 416.5h.8M496.7 416.4h.8M505.4 411.2h.8M506.0 415.3h.8M497.3 424.2h.8M493.2 416.9h.8M479.7 419.4h.8M494.9 419.0h.8M505.5 414.4h.8M494.5 416.7h.8M511.5 410.8h.8M512.3 411.4h.8M497.4 417.1h.8M503.5 417.6h.8M497.4 419.5h.8M490.9 416.5h.8M488.7 420.6h.8M495.2 420.9h.8M497.5 416.9h.8M497.8 414.0h.8M491.1 425.9h.8M504.0 411.4h.8M491.3 421.7h.8M484.4 417.4h.8M496.6 416.9h.8M505.4 411.8h.8M490.9 422.0h.8M493.1 420.3h.8M486.5 421.7h.8M512.8 407.6h.8M499.5 416.9h.8M500.9 416.2h.8M505.1 413.0h.8M493.3 420.4h.8M501.5 411.4h.8M505.2 413.7h.8M506.8 414.1h.8M491.1 419.8h.8M504.8 417.7h.8M498.7 419.3h.8M509.2 413.8h.8M510.1 414.4h.8M493.2 416.5h.8M494.1 424.1h.8M508.2 411.0h.8M499.7 422.7h.8M494.2 419.5h.8M497.5 420.4h.8M486.7 423.6h.8M501.3 419.5h.8M503.0 416.7h.8M493.3 420.6h.8M496.4 423.4h.8M502.2 416.1h.8M501.1 416.7h.8M497.2 419.9h.8M499.9 414.6h.8M506.3 416.3h.8M508.0 412.5h.8M506.6 418.3h.8M504.6 416.1h.8M499.7 412.9h.8M492.8 419.9h.8M507.4 415.3h.8M496.2 419.2h.8M499.2 415.4h.8M499.8 419.4h.8M492.0 419.3h.8M499.7 414.4h.8M493.5 421.0h.8M496.4 422.8h.8M501.1 411.5h.8M496.2 413.5h.8M497.8 421.9h.8M514.3 419.7h.8M507.0 413.2h.8M495.5 417.9h.8M492.5 417.8h.8M502.5 416.3h.8M501.4 416.0h.8M489.6 423.0h.8M500.2 419.1h.8M501.1 413.9h.8M506.7 416.3h.8M498.2 419.7h.8M503.2 414.4h.8M501.6 414.3h.8M509.5 411.8h.8M506.8 419.0h.8M500.5 418.6h.8M510.4 407.6h.8M491.6 421.1h.8M509.7 415.7h.8M495.6 419.9h.8M512.3 409.7h.8M500.8 415.2h.8M496.4 418.1h.8M485.2 421.7h.8M488.1 419.6h.8M496.1 421.5h.8M492.4 422.7h.8M497.2 416.2h.8M488.3 422.5h.8M499.5 419.4h.8M495.8 413.3h.8M503.9 419.0h.8M500.3 417.3h.8M503.5 416.3h.8M503.7 417.9h.8M503.8 410.9h.8M502.9 415.0h.8M493.1 422.5h.8M495.5 420.1h.8M495.2 420.7h.8M509.4 410.8h.8M494.6 421.9h.8M493.8 422.6h.8M502.8 413.5h.8M496.2 422.3h.8M506.0 414.9h.8M501.6 419.3h.8M495.8 419.8h.8M503.3 419.3h.8M497.5 417.7h.8M502.0 415.7h.8M498.3 419.3h.8M496.7 417.8h.8M501.9 416.6h.8M497.5 417.9h.8M491.7 418.7h.8M495.1 416.3h.8M510.6 418.2h.8M498.4 417.5h.8M499.1 416.5h.8M496.2 421.2h.8M503.8 412.0h.8M501.6 414.2h.8M504.5 413.2h.8M502.2 414.2h.8M498.8 418.6h.8M504.9 411.3h.8M496.2 416.5h.8M488.3 422.8h.8M498.5 416.9h.8M494.4 424.3h.8M493.9 412.7h.8M497.6 418.9h.8M492.5 419.9h.8M484.0 423.3h.8M500.5 414.4h.8M492.4 417.5h.8M496.3 421.5h.8M500.7 415.1h.8M496.6 420.6h.8M495.3 416.7h.8M505.4 414.8h.8M509.2 412.5h.8M497.9 419.1h.8M501.4 416.6h.8M493.4 418.1h.8M494.7 418.0h.8M509.0 410.8h.8M503.3 416.9h.8M489.2 424.4h.8M501.6 417.4h.8M501.4 419.1h.8M502.7 414.2h.8M495.7 416.7h.8M494.6 417.1h.8M501.6 419.0h.8M498.6 420.4h.8M507.9 415.5h.8M488.6 415.1h.8M507.5 415.2h.8M490.2 419.3h.8M501.6 416.3h.8M491.0 420.8h.8M489.7 420.8h.8M504.3 415.9h.8M496.0 420.5h.8M513.5 410.5h.8M500.9 412.9h.8M505.5 410.4h.8M498.5 420.1h.8M504.1 406.6h.8M494.4 413.0h.8M497.9 414.0h.8M493.1 419.2h.8M500.4 419.5h.8M509.7 414.7h.8M491.1 412.4h.8M489.3 418.6h.8M505.4 411.2h.8M509.0 415.3h.8M500.5 419.0h.8M495.0 422.0h.8M500.7 415.2h.8M494.5 413.9h.8M497.7 419.4h.8M497.2 417.0h.8M512.0 419.6h.8M490.5 424.4h.8M499.8 417.1h.8M494.2 418.8h.8M502.1 417.3h.8M496.0 417.3h.8M504.5 419.1h.8M497.0 419.7h.8M505.2 415.8h.8M493.6 419.9h.8M500.6 413.8h.8M500.4 416.8h.8M495.1 423.5h.8M502.2 413.8h.8M508.4 412.7h.8M493.0 416.8h.8M507.5 410.7h.8M502.3 417.3h.8M496.0 420.7h.8M507.3 413.7h.8M500.0 418.8h.8M500.6 420.3h.8M505.4 415.0h.8M501.6 415.3h.8M504.7 413.1h.8M499.8 413.8h.8M500.4 418.1h.8M488.4 425.9h.8M488.5 423.6h.8M497.3 420.2h.8M504.6 415.8h.8M507.1 413.2h.8M501.8 415.4h.8M495.3 416.2h.8M502.7 420.5h.8M494.1 418.2h.8M495.2 420.1h.8M486.0 423.5h.8M494.9 416.5h.8M501.8 416.8h.8M502.1 419.4h.8M490.2 424.2h.8M503.8 421.9h.8M509.7 414.2h.8M486.4 423.5h.8M510.8 414.6h.8M499.5 413.9h.8M500.4 412.9h.8M494.5 418.3h.8M503.0 414.1h.8M499.6 417.1h.8M501.9 417.8h.8M503.4 414.8h.8M501.2 414.8h.8M491.5 419.1h.8M499.9 411.6h.8M505.5 415.6h.8M489.0 419.0h.8M493.8 413.5h.8M487.8 423.4h.8M486.0 429.0h.8M509.9 417.0h.8M503.5 418.6h.8M509.4 410.4h.8M511.1 410.1h.8M497.6 411.0h.8M497.7 413.4h.8M506.3 413.0h.8M506.7 415.6h.8M497.3 419.6h.8M497.1 414.8h.8M485.7 418.7h.8M504.2 420.5h.8M496.7 416.8h.8M509.3 412.6h.8M502.4 416.0h.8M482.8 420.7h.8M502.3 416.3h.8M498.0 414.2h.8M501.0 415.8h.8M492.9 419.4h.8M501.8 422.1h.8M507.8 411.2h.8M505.6 410.3h.8M483.3 422.0h.8M513.7 413.1h.8M495.0 420.2h.8M485.2 422.8h.8M493.1 416.6h.8M497.2 416.0h.8M502.3 412.6h.8M502.8 417.1h.8M505.8 416.3h.8M505.0 417.7h.8M509.0 416.1h.8M508.4 409.8h.8M498.2 421.8h.8M495.7 420.9h.8M507.6 417.4h.8M495.7 419.5h.8M499.1 419.2h.8M486.4 422.7h.8M508.4 413.4h.8M507.3 417.8h.8M501.1 415.4h.8M496.0 415.4h.8M496.9 417.8h.8M506.9 412.2h.8M495.1 419.0h.8M498.5 421.1h.8M500.2 420.8h.8M500.7 409.5h.8M498.8 414.5h.8M500.1 414.4h.8M506.6 413.4h.8M497.5 423.8h.8M497.7 416.7h.8M497.6 420.1h.8M501.8 416.3h.8M508.4 411.7h.8M505.3 417.0h.8M502.3 414.7h.8M499.1 420.5h.8M480.7 429.4h.8M493.4 422.4h.8M503.9 416.5h.8M503.8 414.0h.8M511.7 412.2h.8M506.0 413.9h.8M497.8 421.0h.8M493.1 419.9h.8M494.1 415.1h.8M507.1 414.0h.8M486.9 422.4h.8M498.5 418.7h.8M498.1 418.5h.8M499.2 417.9h.8M496.8 420.8h.8M491.6 415.9h.8M488.1 420.3h.8M500.9 418.2h.8M505.7 410.3h.8M488.9 423.5h.8M512.8 413.3h.8M499.1 420.2h.8M511.9 414.7h.8M501.6 415.5h.8M496.2 417.5h.8M491.5 421.6h.8M507.5 413.0h.8M505.7 416.4h.8M499.2 417.2h.8M510.8 410.3h.8M495.2 418.0h.8M494.7 420.9h.8M504.4 414.4h.8M504.7 410.1h.8M500.9 423.2h.8M507.0 411.2h.8M506.4 412.5h.8M504.5 417.0h.8M490.0 426.4h.8M490.2 420.0h.8M505.0 416.6h.8M501.7 415.4h.8M505.9 415.5h.8M497.8 421.1h.8M511.3 410.6h.8M497.3 415.3h.8M491.6 421.2h.8M507.1 410.1h.8M498.5 418.6h.8M496.0 421.2h.8M504.5 415.0h.8M508.6 414.4h.8M508.1 415.3h.8M498.4 421.9h.8M495.3 420.1h.8M497.9 415.7h.8M491.0 424.1h.8M509.8 415.9h.8M486.2 424.8h.8M501.0 418.3h.8M502.1 417.8h.8M503.5 418.5h.8M501.3 415.0h.8M484.5 424.5h.8M485.1 421.8h.8M500.0 416.7h.8M494.8 424.1h.8M490.1 424.6h.8M498.1 417.5h.8M507.3 413.5h.8M501.8 413.6h.8M506.6 412.0h.8M507.1 411.7h.8M510.4 409.3h.8M504.7 413.6h.8M506.5 414.9h.8M498.4 411.3h.8M507.3 417.6h.8M510.2 409.2h.8M510.3 409.5h.8M508.0 410.9h.8M502.8 414.6h.8M508.8 411.1h.8M504.5 409.7h.8M506.6 415.5h.8M505.7 411.9h.8M505.8 408.2h.8M505.9 410.1h.8M510.7 412.6h.8M511.0 411.8h.8M507.6 416.4h.8M508.5 412.3h.8M508.5 413.1h.8M510.5 410.2h.8M505.7 409.3h.8M510.8 414.1h.8M506.1 413.8h.8M512.9 414.5h.8M506.8 409.1h.8M508.8 420.2h.8M510.7 411.1h.8M502.3 415.1h.8M504.5 410.8h.8M513.7 410.8h.8M506.4 420.3h.8M512.3 404.8h.8M509.5 411.3h.8M507.6 410.2h.8M508.0 414.1h.8M506.2 414.5h.8M509.4 408.5h.8M512.5 412.6h.8M509.7 416.5h.8M507.0 419.5h.8M504.4 408.8h.8M506.0 417.8h.8M512.0 414.6h.8M504.1 410.9h.8M506.5 412.4h.8M503.6 412.2h.8M505.6 413.4h.8M504.1 410.4h.8M507.5 414.1h.8M507.3 412.6h.8M506.6 410.1h.8M505.8 409.4h.8M508.7 413.3h.8M506.6 409.4h.8M505.8 411.5h.8M510.2 411.0h.8M507.7 410.0h.8M509.0 411.2h.8M504.5 406.1h.8M506.0 410.9h.8M510.6 408.2h.8M505.2 408.2h.8M509.4 412.9h.8M505.9 413.9h.8M507.5 410.5h.8M506.9 413.9h.8M509.8 417.4h.8M507.9 412.2h.8M507.3 409.5h.8M506.5 413.7h.8M505.9 411.1h.8M503.2 413.9h.8M510.2 412.0h.8M507.6 412.6h.8M507.2 411.4h.8M510.0 418.9h.8M510.1 412.9h.8M505.9 408.3h.8M510.1 411.4h.8M508.7 410.4h.8M499.6 418.4h.8M503.4 413.8h.8M510.5 407.0h.8M507.6 411.7h.8M502.4 417.3h.8M505.6 413.6h.8M507.1 417.8h.8M504.3 410.8h.8M507.9 414.2h.8M507.0 415.5h.8M510.5 413.3h.8M502.9 409.1h.8M502.1 410.6h.8M509.7 417.0h.8M507.6 414.7h.8M505.9 411.1h.8M509.2 407.0h.8M506.4 409.4h.8M507.8 413.8h.8M507.6 416.2h.8M507.3 415.9h.8M507.7 405.8h.8M506.9 409.3h.8M505.9 404.7h.8M506.3 411.0h.8M503.7 411.3h.8M509.5 412.2h.8M509.1 409.3h.8M512.2 409.2h.8M503.3 412.6h.8M508.8 416.0h.8M509.3 415.0h.8M502.4 412.6h.8M505.2 405.5h.8M511.5 408.4h.8M500.3 430.6h.8M495.5 425.0h.8M503.7 428.0h.8M497.9 428.4h.8M498.7 429.9h.8M497.9 431.0h.8M496.9 423.9h.8M493.1 429.7h.8M492.5 428.7h.8M500.8 426.0h.8M496.9 424.2h.8M490.8 429.5h.8M498.1 424.7h.8M494.9 425.9h.8M495.4 426.1h.8M494.5 424.0h.8M495.0 431.7h.8M496.0 430.0h.8M495.3 426.7h.8M504.2 428.8h.8M494.2 430.1h.8M490.1 423.5h.8M495.5 426.7h.8M497.5 424.2h.8M499.1 427.4h.8M495.7 429.0h.8M495.2 431.2h.8M492.6 428.9h.8M496.2 421.1h.8M492.1 426.5h.8M499.2 424.1h.8M494.1 426.5h.8M489.8 426.4h.8M501.7 430.8h.8M491.8 425.7h.8M493.4 421.5h.8M508.1 425.7h.8M498.4 426.5h.8M495.4 423.3h.8M491.6 427.5h.8M493.5 430.0h.8M494.2 429.1h.8M499.4 424.3h.8M502.9 427.3h.8M509.1 426.3h.8M502.0 430.1h.8M489.4 423.2h.8M489.6 430.5h.8M496.9 430.8h.8M491.4 430.3h.8M496.7 429.8h.8M500.0 428.3h.8M503.7 423.7h.8M495.0 431.1h.8M491.7 430.2h.8M497.1 428.9h.8M485.0 425.3h.8M500.3 424.4h.8M500.8 430.1h.8M482.3 428.3h.8M491.2 424.7h.8M488.9 428.9h.8M504.1 426.5h.8M488.8 431.2h.8M500.7 428.1h.8M490.0 424.3h.8M504.5 425.1h.8M488.1 427.6h.8M500.9 425.7h.8M497.4 430.7h.8M504.0 428.2h.8M498.3 429.7h.8M493.3 430.3h.8M497.3 425.7h.8M496.4 427.1h.8M494.5 430.1h.8M500.8 430.9h.8M494.6 430.0h.8M491.5 431.1h.8M494.2 422.7h.8M500.5 424.0h.8M492.5 427.8h.8M499.0 427.6h.8M498.9 428.8h.8M488.6 431.7h.8M504.0 426.2h.8M500.4 427.1h.8M492.7 427.1h.8M487.1 426.0h.8M500.2 431.1h.8M499.2 428.7h.8M493.6 430.9h.8M506.3 429.1h.8M505.6 428.4h.8M495.7 430.7h.8M497.5 427.3h.8M494.2 428.4h.8M496.7 423.1h.8M498.7 429.4h.8M499.5 430.7h.8M500.7 427.0h.8M491.3 429.4h.8M499.0 426.4h.8M495.6 429.4h.8M504.7 426.2h.8M492.3 428.0h.8M493.0 426.5h.8M492.2 431.6h.8M499.1 428.6h.8M499.9 430.6h.8M492.2 429.8h.8M493.9 423.5h.8M498.9 426.3h.8" stroke="#111" stroke-width="0.8" fill="none"/>
<line x1="489.30" y1="390.60" x2="489.30" y2="433.30" stroke="#808080" stroke-width="0.75" />
<line x1="449.80" y1="421.80" x2="515.20" y2="421.80" stroke="#808080" stroke-width="0.75" />
<text x="451.60" y="390.30" font-size="4.6" text-anchor="start" fill="#6a6a6a" >201 30503-HUT 2X</text>
<text x="482.70" y="443.30" font-size="4.6" text-anchor="middle" fill="#6a6a6a" >ANEXINA APC-A</text>
<text transform="translate(440.00,411.45) rotate(-90)" font-size="3.8" text-anchor="middle" fill="#444" >7AAD PE-A</text>
<line x1="448.20" y1="432.30" x2="449.80" y2="432.30" stroke="#333" stroke-width="0.7" />
<text x="446.40" y="433.50" font-size="3.0" text-anchor="end" fill="#555" >10</text>
<line x1="448.20" y1="424.56" x2="449.80" y2="424.56" stroke="#333" stroke-width="0.7" />
<text x="446.40" y="425.76" font-size="3.0" text-anchor="end" fill="#555" >10</text>
<line x1="448.20" y1="416.82" x2="449.80" y2="416.82" stroke="#333" stroke-width="0.7" />
<text x="446.40" y="418.02" font-size="3.0" text-anchor="end" fill="#555" >10</text>
<line x1="448.20" y1="409.08" x2="449.80" y2="409.08" stroke="#333" stroke-width="0.7" />
<text x="446.40" y="410.28" font-size="3.0" text-anchor="end" fill="#555" >10</text>
<line x1="448.20" y1="401.34" x2="449.80" y2="401.34" stroke="#333" stroke-width="0.7" />
<text x="446.40" y="402.54" font-size="3.0" text-anchor="end" fill="#555" >10</text>
<line x1="448.20" y1="393.60" x2="449.80" y2="393.60" stroke="#333" stroke-width="0.7" />
<text x="446.40" y="394.80" font-size="3.0" text-anchor="end" fill="#555" >10</text>
<line x1="451.80" y1="433.30" x2="451.80" y2="434.90" stroke="#333" stroke-width="0.7" />
<text x="451.80" y="437.70" font-size="3.2" text-anchor="middle" fill="#555" >10</text>
<line x1="466.90" y1="433.30" x2="466.90" y2="434.90" stroke="#333" stroke-width="0.7" />
<text x="466.90" y="437.70" font-size="3.2" text-anchor="middle" fill="#555" >10</text>
<line x1="482.00" y1="433.30" x2="482.00" y2="434.90" stroke="#333" stroke-width="0.7" />
<text x="482.00" y="437.70" font-size="3.2" text-anchor="middle" fill="#555" >10</text>
<line x1="497.10" y1="433.30" x2="497.10" y2="434.90" stroke="#333" stroke-width="0.7" />
<text x="497.10" y="437.70" font-size="3.2" text-anchor="middle" fill="#555" >10</text>
<line x1="512.20" y1="433.30" x2="512.20" y2="434.90" stroke="#333" stroke-width="0.7" />
<text x="512.20" y="437.70" font-size="3.2" text-anchor="middle" fill="#555" >10</text>
<text x="494.30" y="426.60" font-size="3.8" text-anchor="start" fill="#333" >Q4</text>
<text x="478.30" y="415.30" font-size="3.8" text-anchor="start" fill="#333" >Q1</text>
<text transform="translate(432.80,413.15) rotate(-90) scale(0.9,1)" font-size="11.1" text-anchor="middle" font-weight="bold" fill="#000" >2x IC50</text>
<text x="-0.50" y="488.80" font-size="17" text-anchor="start" font-weight="bold" fill="#000" >E</text>
<rect x="63.60" y="500.00" width="133.20" height="26.90" fill="#9d9d9d" />
<rect x="63.60" y="529.00" width="133.20" height="26.10" fill="#b4b4b4" />
<rect x="67.00" y="517.30" width="22.00" height="2.80" rx="1.40" fill="#444" opacity="0.85" filter="url(#bl)"/>
<rect x="99.00" y="506.40" width="25.50" height="2.80" rx="1.40" fill="#333" opacity="0.9" filter="url(#bl)"/>
<rect x="132.00" y="506.70" width="22.00" height="2.60" rx="1.30" fill="#444" opacity="0.7" filter="url(#bl)"/>
<rect x="168.00" y="506.10" width="24.00" height="3.40" rx="1.70" fill="#666" opacity="0.55" filter="url(#bl)"/>
<rect x="168.00" y="520.00" width="27.00" height="2.60" rx="1.30" fill="#444" opacity="0.75" filter="url(#bl)"/>
<rect x="71.30" y="540.50" width="25.20" height="5.80" rx="2.90" fill="#0c0c0c" opacity="1" filter="url(#bl)"/>
<rect x="104.40" y="541.00" width="25.20" height="5.80" rx="2.90" fill="#0c0c0c" opacity="1" filter="url(#bl)"/>
<rect x="138.90" y="542.70" width="22.60" height="5.00" rx="2.50" fill="#111" opacity="1" filter="url(#bl)"/>
<rect x="168.10" y="541.30" width="26.50" height="6.80" rx="3.40" fill="#080808" opacity="1" filter="url(#bl)"/>
<text x="79.50" y="496.50" font-size="10" text-anchor="middle" font-weight="bold" fill="#000" >C+</text>
<text x="114.50" y="496.50" font-size="10" text-anchor="middle" font-weight="bold" fill="#000" >DMSO</text>
<text x="149.40" y="485.40" font-size="10.2" text-anchor="middle" fill="#000" stroke="#000" stroke-width="0.4">IC50</text>
<text x="149.40" y="496.50" font-size="10.2" text-anchor="middle" fill="#000" stroke="#000" stroke-width="0.4">(1X)</text>
<text x="182.50" y="485.40" font-size="10.2" text-anchor="middle" fill="#000" stroke="#000" stroke-width="0.4">IC50</text>
<text x="182.50" y="496.50" font-size="10.2" text-anchor="middle" fill="#000" stroke="#000" stroke-width="0.4">(2X)</text>
<text x="21.00" y="518.40" font-size="12.1" text-anchor="start" fill="#000" stroke="#000" stroke-width="0.4">PARP</text>
<text x="20.20" y="546.80" font-size="12.3" text-anchor="start" fill="#000" stroke="#000" stroke-width="0.5">Tubulin</text>
<line x1="201.00" y1="508.80" x2="208.80" y2="508.80" stroke="#000" stroke-width="2.0" />
<polygon points="198.00,508.80 203.00,506.00 203.00,511.60" fill="#000"/>
<text x="209.50" y="511.90" font-size="8.6" text-anchor="start" fill="#000" stroke="#000" stroke-width="0.4">116kD</text>
<line x1="201.30" y1="520.80" x2="212.50" y2="520.80" stroke="#000" stroke-width="2.0" />
<polygon points="198.30,520.80 203.30,518.00 203.30,523.60" fill="#000"/>
<text x="213.70" y="523.90" font-size="8.6" text-anchor="start" fill="#000" stroke="#000" stroke-width="0.4">85kD</text>
<text x="276.60" y="488.80" font-size="17" text-anchor="start" font-weight="bold" fill="#000" >F</text>
<rect x="341.80" y="499.70" width="134.10" height="26.20" fill="#989898" />
<rect x="341.80" y="528.10" width="134.10" height="27.70" fill="#acacac" />
<rect x="344.00" y="517.30" width="18.50" height="3.00" rx="1.50" fill="#1a1a1a" opacity="1" filter="url(#bl)"/>
<rect x="344.00" y="516.50" width="10.00" height="4.20" rx="2.10" fill="#111" opacity="0.9" filter="url(#bl)"/>
<rect x="377.10" y="505.00" width="25.20" height="3.60" rx="1.80" fill="#1a1a1a" opacity="1" filter="url(#bl)"/>
<rect x="414.30" y="504.60" width="21.20" height="4.40" rx="2.20" fill="#111" opacity="1" filter="url(#bl)"/>
<rect x="448.80" y="505.50" width="22.50" height="3.80" rx="1.90" fill="#1a1a1a" opacity="1" filter="url(#bl)"/>
<rect x="414.30" y="520.20" width="21.20" height="2.60" rx="1.30" fill="#505050" opacity="0.7" filter="url(#bl)"/>
<rect x="449.00" y="520.20" width="22.00" height="2.80" rx="1.40" fill="#444" opacity="0.75" filter="url(#bl)"/>
<rect x="345.00" y="536.60" width="21.50" height="6.00" rx="3.00" fill="#2a2a2a" opacity="1" filter="url(#bl)"/>
<rect x="375.70" y="537.70" width="25.30" height="7.00" rx="3.50" fill="#0c0c0c" opacity="1" filter="url(#bl)"/>
<rect x="411.00" y="539.30" width="24.00" height="6.60" rx="3.30" fill="#0c0c0c" opacity="1" filter="url(#bl)"/>
<rect x="445.00" y="539.50" width="25.00" height="6.60" rx="3.30" fill="#111" opacity="1" filter="url(#bl)"/>
<text x="356.30" y="496.50" font-size="10" text-anchor="middle" font-weight="bold" fill="#000" >C+</text>
<text x="391.90" y="496.50" font-size="10" text-anchor="middle" font-weight="bold" fill="#000" >DMSO</text>
<text x="426.90" y="485.40" font-size="10.2" text-anchor="middle" fill="#000" stroke="#000" stroke-width="0.4">IC50</text>
<text x="426.90" y="496.50" font-size="10.2" text-anchor="middle" fill="#000" stroke="#000" stroke-width="0.4">(1X)</text>
<text x="459.40" y="485.40" font-size="10.2" text-anchor="middle" fill="#000" stroke="#000" stroke-width="0.4">IC50</text>
<text x="459.40" y="496.50" font-size="10.2" text-anchor="middle" fill="#000" stroke="#000" stroke-width="0.4">(2X)</text>
<text x="301.60" y="518.40" font-size="12.1" text-anchor="start" fill="#000" stroke="#000" stroke-width="0.4">PARP</text>
<text x="300.80" y="546.80" font-size="12.3" text-anchor="start" fill="#000" stroke="#000" stroke-width="0.5">Tubulin</text>
<line x1="477.40" y1="507.60" x2="485.00" y2="507.60" stroke="#000" stroke-width="2.0" />
<polygon points="474.40,507.60 479.40,504.80 479.40,510.40" fill="#000"/>
<text x="486.30" y="510.70" font-size="8.6" text-anchor="start" fill="#000" stroke="#000" stroke-width="0.4">116kD</text>
<line x1="477.40" y1="519.60" x2="490.00" y2="519.60" stroke="#000" stroke-width="2.0" />
<polygon points="474.40,519.60 479.40,516.80 479.40,522.40" fill="#000"/>
<text x="490.80" y="522.70" font-size="8.6" text-anchor="start" fill="#000" stroke="#000" stroke-width="0.4">85kD</text>
<text x="-0.30" y="588.80" font-size="17" text-anchor="start" font-weight="bold" fill="#000" >G</text>
<line x1="72.60" y1="587.60" x2="72.60" y2="738.40" stroke="#000" stroke-width="1.7" />
<line x1="71.80" y1="737.60" x2="168.50" y2="737.60" stroke="#000" stroke-width="1.7" />
<line x1="68.10" y1="737.60" x2="72.60" y2="737.60" stroke="#000" stroke-width="1.5" />
<text x="68.10" y="743.40" font-size="10.2" text-anchor="end" fill="#000" stroke="#000" stroke-width="0.4">0</text>
<line x1="68.10" y1="707.60" x2="72.60" y2="707.60" stroke="#000" stroke-width="1.5" />
<text x="68.10" y="713.40" font-size="10.2" text-anchor="end" fill="#000" stroke="#000" stroke-width="0.4">20</text>
<line x1="68.10" y1="677.60" x2="72.60" y2="677.60" stroke="#000" stroke-width="1.5" />
<text x="68.10" y="683.40" font-size="10.2" text-anchor="end" fill="#000" stroke="#000" stroke-width="0.4">40</text>
<line x1="68.10" y1="647.60" x2="72.60" y2="647.60" stroke="#000" stroke-width="1.5" />
<text x="68.10" y="653.40" font-size="10.2" text-anchor="end" fill="#000" stroke="#000" stroke-width="0.4">60</text>
<line x1="68.10" y1="617.60" x2="72.60" y2="617.60" stroke="#000" stroke-width="1.5" />
<text x="68.10" y="623.40" font-size="10.2" text-anchor="end" fill="#000" stroke="#000" stroke-width="0.4">80</text>
<line x1="68.10" y1="587.60" x2="72.60" y2="587.60" stroke="#000" stroke-width="1.5" />
<text x="68.10" y="593.40" font-size="10.2" text-anchor="end" fill="#000" stroke="#000" stroke-width="0.4">100</text>
<rect x="80.00" y="587.60" width="22.70" height="150.00" fill="#000000" />
<rect x="111.50" y="621.65" width="23.40" height="115.95" fill="#0a00bf" />
<line x1="123.20" y1="609.05" x2="123.20" y2="621.65" stroke="#0a00bf" stroke-width="1.5" />
<line x1="117.20" y1="609.05" x2="129.20" y2="609.05" stroke="#0a00bf" stroke-width="1.6" />
<text x="123.20" y="606.00" font-size="10.2" text-anchor="middle" fill="#000" stroke="#000" stroke-width="0.4">ns</text>
<rect x="143.40" y="665.75" width="23.50" height="71.85" fill="#0a00bf" />
<line x1="155.15" y1="649.55" x2="155.15" y2="665.75" stroke="#0a00bf" stroke-width="1.5" />
<line x1="149.15" y1="649.55" x2="161.15" y2="649.55" stroke="#0a00bf" stroke-width="1.6" />
<text x="155.15" y="651.30" font-size="10" text-anchor="middle" font-weight="bold" fill="#000" >**</text>
<text x="83.30" y="585.50" font-size="11.95" text-anchor="start" fill="#000" stroke="#000" stroke-width="0.4">Activated NFAT</text>
<text transform="translate(44.60,666.50) rotate(-90)" font-size="12.25" text-anchor="middle" fill="#000" stroke="#000" stroke-width="0.4">MyLa-NFAT activity (%)</text>
<text x="94.50" y="751.10" font-size="10.1" text-anchor="middle" fill="#000" stroke="#000" stroke-width="0.4">DMSO</text>
<text x="124.20" y="751.10" font-size="10.1" text-anchor="middle" fill="#000" stroke="#000" stroke-width="0.4">IC50</text>
<text x="124.20" y="762.90" font-size="10.1" text-anchor="middle" fill="#000" stroke="#000" stroke-width="0.4">(1X)</text>
<text x="156.20" y="751.10" font-size="10.1" text-anchor="middle" fill="#000" stroke="#000" stroke-width="0.4">IC50</text>
<text x="156.20" y="762.90" font-size="10.1" text-anchor="middle" fill="#000" stroke="#000" stroke-width="0.4">(2X)</text>
<text x="276.60" y="588.50" font-size="17" text-anchor="start" font-weight="bold" fill="#000" >H</text>
<line x1="361.60" y1="586.60" x2="361.60" y2="737.60" stroke="#000" stroke-width="1.7" />
<line x1="360.80" y1="736.80" x2="457.50" y2="736.80" stroke="#000" stroke-width="1.7" />
<line x1="357.10" y1="736.80" x2="361.60" y2="736.80" stroke="#000" stroke-width="1.5" />
<text x="357.30" y="742.60" font-size="10.2" text-anchor="end" fill="#000" stroke="#000" stroke-width="0.4">0</text>
<line x1="357.10" y1="706.90" x2="361.60" y2="706.90" stroke="#000" stroke-width="1.5" />
<text x="357.30" y="712.70" font-size="10.2" text-anchor="end" fill="#000" stroke="#000" stroke-width="0.4">20</text>
<line x1="357.10" y1="677.00" x2="361.60" y2="677.00" stroke="#000" stroke-width="1.5" />
<text x="357.30" y="682.80" font-size="10.2" text-anchor="end" fill="#000" stroke="#000" stroke-width="0.4">40</text>
<line x1="357.10" y1="647.10" x2="361.60" y2="647.10" stroke="#000" stroke-width="1.5" />
<text x="357.30" y="652.90" font-size="10.2" text-anchor="end" fill="#000" stroke="#000" stroke-width="0.4">60</text>
<line x1="357.10" y1="617.20" x2="361.60" y2="617.20" stroke="#000" stroke-width="1.5" />
<text x="357.30" y="623.00" font-size="10.2" text-anchor="end" fill="#000" stroke="#000" stroke-width="0.4">80</text>
<line x1="357.10" y1="587.30" x2="361.60" y2="587.30" stroke="#000" stroke-width="1.5" />
<text x="357.30" y="593.10" font-size="10.2" text-anchor="end" fill="#000" stroke="#000" stroke-width="0.4">100</text>
<rect x="368.20" y="587.30" width="23.20" height="149.50" fill="#000000" />
<rect x="398.40" y="633.50" width="23.50" height="103.30" fill="#0a00bf" />
<line x1="410.15" y1="623.48" x2="410.15" y2="633.50" stroke="#0a00bf" stroke-width="1.5" />
<line x1="404.15" y1="623.48" x2="416.15" y2="623.48" stroke="#0a00bf" stroke-width="1.6" />
<text x="410.15" y="624.50" font-size="10" text-anchor="middle" font-weight="bold" fill="#000" >*</text>
<rect x="430.70" y="648.74" width="24.20" height="88.06" fill="#0a00bf" />
<line x1="442.80" y1="631.10" x2="442.80" y2="648.74" stroke="#0a00bf" stroke-width="1.5" />
<line x1="436.80" y1="631.10" x2="448.80" y2="631.10" stroke="#0a00bf" stroke-width="1.6" />
<text x="442.80" y="631.90" font-size="10" text-anchor="middle" font-weight="bold" fill="#000" >**</text>
<text x="369.60" y="583.50" font-size="12.25" text-anchor="start" fill="#000" stroke="#000" stroke-width="0.4">Activated NFAT</text>
<text transform="translate(338.40,666.70) rotate(-90)" font-size="12.01" text-anchor="middle" fill="#000" stroke="#000" stroke-width="0.4">HUT78-NFAT activity (%)</text>
<text x="382.00" y="750.10" font-size="10.1" text-anchor="middle" fill="#000" stroke="#000" stroke-width="0.4">DMSO</text>
<text x="412.00" y="750.10" font-size="10.1" text-anchor="middle" fill="#000" stroke="#000" stroke-width="0.4">IC50</text>
<text x="412.00" y="762.20" font-size="10.1" text-anchor="middle" fill="#000" stroke="#000" stroke-width="0.4">(1X)</text>
<text x="444.40" y="750.10" font-size="10.1" text-anchor="middle" fill="#000" stroke="#000" stroke-width="0.4">IC50</text>
<text x="444.40" y="762.20" font-size="10.1" text-anchor="middle" fill="#000" stroke="#000" stroke-width="0.4">(2X)</text>
</svg>
</body></html>
